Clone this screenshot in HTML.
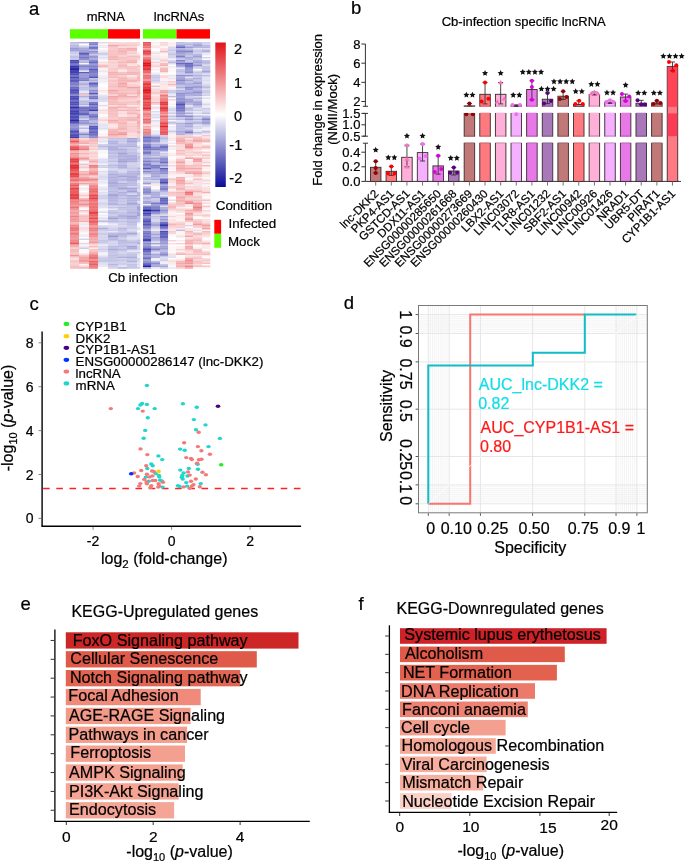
<!DOCTYPE html><html><head><meta charset="utf-8"><style>
html,body{margin:0;padding:0;background:#fff;width:685px;height:862px;overflow:hidden}
svg{display:block;will-change:transform}
text{font-family:"Liberation Sans", sans-serif;stroke:#000;stroke-width:0.22px}
</style></head><body>
<svg width="685" height="862" viewBox="0 0 685 862">
<rect width="685" height="862" fill="#fff"/>
<text x="29.00" y="15.00" font-size="18.5" text-anchor="start" fill="#000" >a</text>
<text x="105.80" y="21.20" font-size="13" text-anchor="middle" fill="#000" >mRNA</text>
<text x="179.10" y="21.20" font-size="13" text-anchor="middle" fill="#000" >lncRNAs</text>
<rect x="70" y="29.2" width="38" height="9.4" fill="#5cff00"/>
<rect x="108" y="29.2" width="32" height="9.4" fill="#ff0000"/>
<rect x="143" y="29.2" width="33.5" height="9.4" fill="#5cff00"/>
<rect x="176.5" y="29.2" width="33.5" height="9.4" fill="#ff0000"/>
<defs><filter id="hb" x="-5%" y="-5%" width="110%" height="110%"><feGaussianBlur stdDeviation="0.35 0.45"/></filter></defs>
<g filter="url(#hb)">
<rect x="70" y="42.00" width="9.30" height="1.80" fill="#bdbde4"/>
<rect x="79" y="42.00" width="10.30" height="1.80" fill="#afafde"/>
<rect x="89" y="42.00" width="9.30" height="1.80" fill="#8a8acf"/>
<rect x="98" y="42.00" width="10.30" height="1.80" fill="#dcdcf1"/>
<rect x="108" y="42.00" width="10.30" height="1.80" fill="#f9d4d5"/>
<rect x="118" y="42.00" width="9.30" height="1.80" fill="#fbdedf"/>
<rect x="127" y="42.00" width="10.30" height="1.80" fill="#fad7d8"/>
<rect x="137" y="42.00" width="3.30" height="1.80" fill="#fadcdd"/>
<rect x="70" y="43.50" width="9.30" height="1.80" fill="#cbcbea"/>
<rect x="79" y="43.50" width="10.30" height="1.80" fill="#fffcfc"/>
<rect x="89" y="43.50" width="9.30" height="1.80" fill="#8282cc"/>
<rect x="98" y="43.50" width="10.30" height="1.80" fill="#f9f9fd"/>
<rect x="108" y="43.50" width="10.30" height="1.80" fill="#f9d1d2"/>
<rect x="118" y="43.50" width="9.30" height="1.80" fill="#f8cbcc"/>
<rect x="127" y="43.50" width="10.30" height="1.80" fill="#f9ced0"/>
<rect x="137" y="43.50" width="3.30" height="1.80" fill="#fad6d7"/>
<rect x="70" y="45.00" width="9.30" height="1.80" fill="#babae3"/>
<rect x="79" y="45.00" width="10.30" height="1.80" fill="#e5e5f4"/>
<rect x="89" y="45.00" width="9.30" height="1.80" fill="#b2b2df"/>
<rect x="98" y="45.00" width="10.30" height="1.80" fill="#fce7e8"/>
<rect x="108" y="45.00" width="10.30" height="1.80" fill="#f3a4a7"/>
<rect x="118" y="45.00" width="9.30" height="1.80" fill="#f7c2c3"/>
<rect x="127" y="45.00" width="10.30" height="1.80" fill="#f8cacc"/>
<rect x="137" y="45.00" width="3.30" height="1.80" fill="#fadbdc"/>
<rect x="70" y="46.50" width="9.30" height="1.80" fill="#b5b5e0"/>
<rect x="79" y="46.50" width="10.30" height="1.80" fill="#c1c1e5"/>
<rect x="89" y="46.50" width="9.30" height="1.80" fill="#7272c5"/>
<rect x="98" y="46.50" width="10.30" height="1.80" fill="#ebebf7"/>
<rect x="108" y="46.50" width="10.30" height="1.80" fill="#f8cacc"/>
<rect x="118" y="46.50" width="9.30" height="1.80" fill="#fadcdd"/>
<rect x="127" y="46.50" width="10.30" height="1.80" fill="#f9d5d6"/>
<rect x="137" y="46.50" width="3.30" height="1.80" fill="#fef5f6"/>
<rect x="70" y="48.00" width="9.30" height="1.80" fill="#9999d5"/>
<rect x="79" y="48.00" width="10.30" height="1.80" fill="#a8a8db"/>
<rect x="89" y="48.00" width="9.30" height="1.80" fill="#7979c8"/>
<rect x="98" y="48.00" width="10.30" height="1.80" fill="#fffefe"/>
<rect x="108" y="48.00" width="10.30" height="1.80" fill="#f8c9ca"/>
<rect x="118" y="48.00" width="9.30" height="1.80" fill="#f5b7b9"/>
<rect x="127" y="48.00" width="10.30" height="1.80" fill="#f4aaad"/>
<rect x="137" y="48.00" width="3.30" height="1.80" fill="#fbfbfe"/>
<rect x="70" y="49.50" width="9.30" height="1.80" fill="#9f9fd8"/>
<rect x="79" y="49.50" width="10.30" height="1.80" fill="#a1a1d8"/>
<rect x="89" y="49.50" width="9.30" height="1.80" fill="#bdbde4"/>
<rect x="98" y="49.50" width="10.30" height="1.80" fill="#fcebec"/>
<rect x="108" y="49.50" width="10.30" height="1.80" fill="#f7c3c5"/>
<rect x="118" y="49.50" width="9.30" height="1.80" fill="#f6b8ba"/>
<rect x="127" y="49.50" width="10.30" height="1.80" fill="#f5b4b6"/>
<rect x="137" y="49.50" width="3.30" height="1.80" fill="#fdfdfe"/>
<rect x="70" y="51.00" width="9.30" height="1.80" fill="#c0c0e5"/>
<rect x="79" y="51.00" width="10.30" height="1.80" fill="#a5a5da"/>
<rect x="89" y="51.00" width="9.30" height="1.80" fill="#8d8dd0"/>
<rect x="98" y="51.00" width="10.30" height="1.80" fill="#ececf7"/>
<rect x="108" y="51.00" width="10.30" height="1.80" fill="#f7c2c3"/>
<rect x="118" y="51.00" width="9.30" height="1.80" fill="#f5b2b4"/>
<rect x="127" y="51.00" width="10.30" height="1.80" fill="#f9d4d5"/>
<rect x="137" y="51.00" width="3.30" height="1.80" fill="#fef9f9"/>
<rect x="70" y="52.50" width="9.30" height="1.80" fill="#ccccea"/>
<rect x="79" y="52.50" width="10.30" height="1.80" fill="#5f5fbd"/>
<rect x="89" y="52.50" width="9.30" height="1.80" fill="#a5a5da"/>
<rect x="98" y="52.50" width="10.30" height="1.80" fill="#cdcdea"/>
<rect x="108" y="52.50" width="10.30" height="1.80" fill="#f7c1c3"/>
<rect x="118" y="52.50" width="9.30" height="1.80" fill="#f6bdbf"/>
<rect x="127" y="52.50" width="10.30" height="1.80" fill="#f8c8ca"/>
<rect x="137" y="52.50" width="3.30" height="1.80" fill="#fdeeee"/>
<rect x="70" y="54.00" width="9.30" height="1.80" fill="#d8d8ef"/>
<rect x="79" y="54.00" width="10.30" height="1.80" fill="#6e6ec3"/>
<rect x="89" y="54.00" width="9.30" height="1.80" fill="#cacae9"/>
<rect x="98" y="54.00" width="10.30" height="1.80" fill="#d1d1ec"/>
<rect x="108" y="54.00" width="10.30" height="1.80" fill="#f7c5c6"/>
<rect x="118" y="54.00" width="9.30" height="1.80" fill="#f7c3c5"/>
<rect x="127" y="54.00" width="10.30" height="1.80" fill="#fbe1e1"/>
<rect x="137" y="54.00" width="3.30" height="1.80" fill="#fbe0e0"/>
<rect x="70" y="55.50" width="9.30" height="1.80" fill="#c1c1e6"/>
<rect x="79" y="55.50" width="10.30" height="1.80" fill="#9191d2"/>
<rect x="89" y="55.50" width="9.30" height="1.80" fill="#9696d4"/>
<rect x="98" y="55.50" width="10.30" height="1.80" fill="#ebebf7"/>
<rect x="108" y="55.50" width="10.30" height="1.80" fill="#f5b6b8"/>
<rect x="118" y="55.50" width="9.30" height="1.80" fill="#f9d1d3"/>
<rect x="127" y="55.50" width="10.30" height="1.80" fill="#f6bcbe"/>
<rect x="137" y="55.50" width="3.30" height="1.80" fill="#f7c4c5"/>
<rect x="70" y="57.00" width="9.30" height="1.80" fill="#c2c2e6"/>
<rect x="79" y="57.00" width="10.30" height="1.80" fill="#7474c6"/>
<rect x="89" y="57.00" width="9.30" height="1.80" fill="#9a9ad5"/>
<rect x="98" y="57.00" width="10.30" height="1.80" fill="#dfdff2"/>
<rect x="108" y="57.00" width="10.30" height="1.80" fill="#f6b9ba"/>
<rect x="118" y="57.00" width="9.30" height="1.80" fill="#f6bebf"/>
<rect x="127" y="57.00" width="10.30" height="1.80" fill="#f8c7c9"/>
<rect x="137" y="57.00" width="3.30" height="1.80" fill="#f7c3c5"/>
<rect x="70" y="58.50" width="9.30" height="1.80" fill="#c4c4e7"/>
<rect x="79" y="58.50" width="10.30" height="1.80" fill="#8d8dd0"/>
<rect x="89" y="58.50" width="9.30" height="1.80" fill="#adaddd"/>
<rect x="98" y="58.50" width="10.30" height="1.80" fill="#efeff8"/>
<rect x="108" y="58.50" width="10.30" height="1.80" fill="#f5b5b7"/>
<rect x="118" y="58.50" width="9.30" height="1.80" fill="#f7c4c5"/>
<rect x="127" y="58.50" width="10.30" height="1.80" fill="#f8c8c9"/>
<rect x="137" y="58.50" width="3.30" height="1.80" fill="#fad7d8"/>
<rect x="70" y="60.00" width="9.30" height="1.80" fill="#4a4ab4"/>
<rect x="79" y="60.00" width="10.30" height="1.80" fill="#bcbce4"/>
<rect x="89" y="60.00" width="9.30" height="1.80" fill="#8888ce"/>
<rect x="98" y="60.00" width="10.30" height="1.80" fill="#fcfcfe"/>
<rect x="108" y="60.00" width="10.30" height="1.80" fill="#fad5d6"/>
<rect x="118" y="60.00" width="9.30" height="1.80" fill="#f8cccd"/>
<rect x="127" y="60.00" width="10.30" height="1.80" fill="#f6b8ba"/>
<rect x="137" y="60.00" width="3.30" height="1.80" fill="#fbe2e2"/>
<rect x="70" y="61.50" width="9.30" height="1.80" fill="#5050b7"/>
<rect x="79" y="61.50" width="10.30" height="1.80" fill="#b2b2df"/>
<rect x="89" y="61.50" width="9.30" height="1.80" fill="#6868c1"/>
<rect x="98" y="61.50" width="10.30" height="1.80" fill="#fadbdc"/>
<rect x="108" y="61.50" width="10.30" height="1.80" fill="#f8cdce"/>
<rect x="118" y="61.50" width="9.30" height="1.80" fill="#f6b7b9"/>
<rect x="127" y="61.50" width="10.30" height="1.80" fill="#f4afb1"/>
<rect x="137" y="61.50" width="3.30" height="1.80" fill="#fcecec"/>
<rect x="70" y="63.00" width="9.30" height="1.80" fill="#7373c5"/>
<rect x="79" y="63.00" width="10.30" height="1.80" fill="#f6f6fb"/>
<rect x="89" y="63.00" width="9.30" height="1.80" fill="#9090d1"/>
<rect x="98" y="63.00" width="10.30" height="1.80" fill="#fce6e7"/>
<rect x="108" y="63.00" width="10.30" height="1.80" fill="#f9d3d4"/>
<rect x="118" y="63.00" width="9.30" height="1.80" fill="#f8c8ca"/>
<rect x="127" y="63.00" width="10.30" height="1.80" fill="#fad8d9"/>
<rect x="137" y="63.00" width="3.30" height="1.80" fill="#fdf0f0"/>
<rect x="70" y="64.50" width="9.30" height="1.80" fill="#6a6ac2"/>
<rect x="79" y="64.50" width="10.30" height="1.80" fill="#9292d2"/>
<rect x="89" y="64.50" width="9.30" height="1.80" fill="#9191d2"/>
<rect x="98" y="64.50" width="10.30" height="1.80" fill="#f7c2c3"/>
<rect x="108" y="64.50" width="10.30" height="1.80" fill="#f9d2d4"/>
<rect x="118" y="64.50" width="9.30" height="1.80" fill="#f5b6b8"/>
<rect x="127" y="64.50" width="10.30" height="1.80" fill="#fbe2e3"/>
<rect x="137" y="64.50" width="3.30" height="1.80" fill="#f9d0d2"/>
<rect x="70" y="66.00" width="9.30" height="1.80" fill="#3838ad"/>
<rect x="79" y="66.00" width="10.30" height="1.80" fill="#8484cc"/>
<rect x="89" y="66.00" width="9.30" height="1.80" fill="#7d7dca"/>
<rect x="98" y="66.00" width="10.30" height="1.80" fill="#f5b5b7"/>
<rect x="108" y="66.00" width="10.30" height="1.80" fill="#f9d4d5"/>
<rect x="118" y="66.00" width="9.30" height="1.80" fill="#f6bcbe"/>
<rect x="127" y="66.00" width="10.30" height="1.80" fill="#f7c0c2"/>
<rect x="137" y="66.00" width="3.30" height="1.80" fill="#f7bfc1"/>
<rect x="70" y="67.50" width="9.30" height="1.80" fill="#2d2da8"/>
<rect x="79" y="67.50" width="10.30" height="1.80" fill="#9999d5"/>
<rect x="89" y="67.50" width="9.30" height="1.80" fill="#8787ce"/>
<rect x="98" y="67.50" width="10.30" height="1.80" fill="#fdf0f1"/>
<rect x="108" y="67.50" width="10.30" height="1.80" fill="#f8cbcd"/>
<rect x="118" y="67.50" width="9.30" height="1.80" fill="#f8c8ca"/>
<rect x="127" y="67.50" width="10.30" height="1.80" fill="#f7c0c1"/>
<rect x="137" y="67.50" width="3.30" height="1.80" fill="#f9cfd0"/>
<rect x="70" y="69.00" width="9.30" height="1.80" fill="#2222a4"/>
<rect x="79" y="69.00" width="10.30" height="1.80" fill="#a2a2d9"/>
<rect x="89" y="69.00" width="9.30" height="1.80" fill="#5959bb"/>
<rect x="98" y="69.00" width="10.30" height="1.80" fill="#fdf0f0"/>
<rect x="108" y="69.00" width="10.30" height="1.80" fill="#f8c9ca"/>
<rect x="118" y="69.00" width="9.30" height="1.80" fill="#fbdfe0"/>
<rect x="127" y="69.00" width="10.30" height="1.80" fill="#f8c6c8"/>
<rect x="137" y="69.00" width="3.30" height="1.80" fill="#f8c8c9"/>
<rect x="70" y="70.50" width="9.30" height="1.80" fill="#4343b2"/>
<rect x="79" y="70.50" width="10.30" height="1.80" fill="#e2e2f3"/>
<rect x="89" y="70.50" width="9.30" height="1.80" fill="#7777c7"/>
<rect x="98" y="70.50" width="10.30" height="1.80" fill="#e7e7f5"/>
<rect x="108" y="70.50" width="10.30" height="1.80" fill="#f8c9cb"/>
<rect x="118" y="70.50" width="9.30" height="1.80" fill="#fce8e9"/>
<rect x="127" y="70.50" width="10.30" height="1.80" fill="#f8c7c8"/>
<rect x="137" y="70.50" width="3.30" height="1.80" fill="#f8c8ca"/>
<rect x="70" y="72.00" width="9.30" height="1.80" fill="#4141b1"/>
<rect x="79" y="72.00" width="10.30" height="1.80" fill="#5d5dbc"/>
<rect x="89" y="72.00" width="9.30" height="1.80" fill="#7979c8"/>
<rect x="98" y="72.00" width="10.30" height="1.80" fill="#f4f4fa"/>
<rect x="108" y="72.00" width="10.30" height="1.80" fill="#f5b0b2"/>
<rect x="118" y="72.00" width="9.30" height="1.80" fill="#f7c4c5"/>
<rect x="127" y="72.00" width="10.30" height="1.80" fill="#f5b2b4"/>
<rect x="137" y="72.00" width="3.30" height="1.80" fill="#f6bbbc"/>
<rect x="70" y="73.50" width="9.30" height="1.80" fill="#5151b7"/>
<rect x="79" y="73.50" width="10.30" height="1.80" fill="#a4a4d9"/>
<rect x="89" y="73.50" width="9.30" height="1.80" fill="#8585cd"/>
<rect x="98" y="73.50" width="10.30" height="1.80" fill="#f9f9fc"/>
<rect x="108" y="73.50" width="10.30" height="1.80" fill="#f5b6b8"/>
<rect x="118" y="73.50" width="9.30" height="1.80" fill="#f5b5b7"/>
<rect x="127" y="73.50" width="10.30" height="1.80" fill="#f5b5b6"/>
<rect x="137" y="73.50" width="3.30" height="1.80" fill="#f6b9bb"/>
<rect x="70" y="75.00" width="9.30" height="1.80" fill="#7676c7"/>
<rect x="79" y="75.00" width="10.30" height="1.80" fill="#9696d4"/>
<rect x="89" y="75.00" width="9.30" height="1.80" fill="#8585cd"/>
<rect x="98" y="75.00" width="10.30" height="1.80" fill="#efeff8"/>
<rect x="108" y="75.00" width="10.30" height="1.80" fill="#f7c0c2"/>
<rect x="118" y="75.00" width="9.30" height="1.80" fill="#f9cfd0"/>
<rect x="127" y="75.00" width="10.30" height="1.80" fill="#fceaea"/>
<rect x="137" y="75.00" width="3.30" height="1.80" fill="#f8c6c8"/>
<rect x="70" y="76.50" width="9.30" height="1.80" fill="#4c4cb5"/>
<rect x="79" y="76.50" width="10.30" height="1.80" fill="#9898d5"/>
<rect x="89" y="76.50" width="9.30" height="1.80" fill="#5353b8"/>
<rect x="98" y="76.50" width="10.30" height="1.80" fill="#fce7e8"/>
<rect x="108" y="76.50" width="10.30" height="1.80" fill="#f5b7b9"/>
<rect x="118" y="76.50" width="9.30" height="1.80" fill="#f7c1c2"/>
<rect x="127" y="76.50" width="10.30" height="1.80" fill="#f9d3d4"/>
<rect x="137" y="76.50" width="3.30" height="1.80" fill="#f5b7b8"/>
<rect x="70" y="78.00" width="9.30" height="1.80" fill="#6a6ac1"/>
<rect x="79" y="78.00" width="10.30" height="1.80" fill="#8787ce"/>
<rect x="89" y="78.00" width="9.30" height="1.80" fill="#c1c1e5"/>
<rect x="98" y="78.00" width="10.30" height="1.80" fill="#e5e5f4"/>
<rect x="108" y="78.00" width="10.30" height="1.80" fill="#fad7d8"/>
<rect x="118" y="78.00" width="9.30" height="1.80" fill="#f5b6b8"/>
<rect x="127" y="78.00" width="10.30" height="1.80" fill="#f8cccd"/>
<rect x="137" y="78.00" width="3.30" height="1.80" fill="#f5b5b7"/>
<rect x="70" y="79.50" width="9.30" height="1.80" fill="#5858ba"/>
<rect x="79" y="79.50" width="10.30" height="1.80" fill="#7c7cc9"/>
<rect x="89" y="79.50" width="9.30" height="1.80" fill="#ababdc"/>
<rect x="98" y="79.50" width="10.30" height="1.80" fill="#f1f1f9"/>
<rect x="108" y="79.50" width="10.30" height="1.80" fill="#f7c2c3"/>
<rect x="118" y="79.50" width="9.30" height="1.80" fill="#f5b3b5"/>
<rect x="127" y="79.50" width="10.30" height="1.80" fill="#f5b1b3"/>
<rect x="137" y="79.50" width="3.30" height="1.80" fill="#f6b7b9"/>
<rect x="70" y="81.00" width="9.30" height="1.80" fill="#5e5ebd"/>
<rect x="79" y="81.00" width="10.30" height="1.80" fill="#cbcbea"/>
<rect x="89" y="81.00" width="9.30" height="1.80" fill="#c0c0e5"/>
<rect x="98" y="81.00" width="10.30" height="1.80" fill="#ececf7"/>
<rect x="108" y="81.00" width="10.30" height="1.80" fill="#f7c6c8"/>
<rect x="118" y="81.00" width="9.30" height="1.80" fill="#f6bcbe"/>
<rect x="127" y="81.00" width="10.30" height="1.80" fill="#f6b8ba"/>
<rect x="137" y="81.00" width="3.30" height="1.80" fill="#f9d2d4"/>
<rect x="70" y="82.50" width="9.30" height="1.80" fill="#8181cb"/>
<rect x="79" y="82.50" width="10.30" height="1.80" fill="#b5b5e1"/>
<rect x="89" y="82.50" width="9.30" height="1.80" fill="#5c5cbc"/>
<rect x="98" y="82.50" width="10.30" height="1.80" fill="#f9f9fc"/>
<rect x="108" y="82.50" width="10.30" height="1.80" fill="#f8cacb"/>
<rect x="118" y="82.50" width="9.30" height="1.80" fill="#f3a6a9"/>
<rect x="127" y="82.50" width="10.30" height="1.80" fill="#fbe0e0"/>
<rect x="137" y="82.50" width="3.30" height="1.80" fill="#fadbdc"/>
<rect x="70" y="84.00" width="9.30" height="1.80" fill="#7b7bc9"/>
<rect x="79" y="84.00" width="10.30" height="1.80" fill="#b0b0de"/>
<rect x="89" y="84.00" width="9.30" height="1.80" fill="#7575c6"/>
<rect x="98" y="84.00" width="10.30" height="1.80" fill="#fffefe"/>
<rect x="108" y="84.00" width="10.30" height="1.80" fill="#f7c5c6"/>
<rect x="118" y="84.00" width="9.30" height="1.80" fill="#f5b0b2"/>
<rect x="127" y="84.00" width="10.30" height="1.80" fill="#f9d0d1"/>
<rect x="137" y="84.00" width="3.30" height="1.80" fill="#fbdfdf"/>
<rect x="70" y="85.50" width="9.30" height="1.80" fill="#9090d1"/>
<rect x="79" y="85.50" width="10.30" height="1.80" fill="#ceceeb"/>
<rect x="89" y="85.50" width="9.30" height="1.80" fill="#8e8ed0"/>
<rect x="98" y="85.50" width="10.30" height="1.80" fill="#ffffff"/>
<rect x="108" y="85.50" width="10.30" height="1.80" fill="#f6bdbf"/>
<rect x="118" y="85.50" width="9.30" height="1.80" fill="#f4abad"/>
<rect x="127" y="85.50" width="10.30" height="1.80" fill="#f8c9cb"/>
<rect x="137" y="85.50" width="3.30" height="1.80" fill="#f7c2c4"/>
<rect x="70" y="87.00" width="9.30" height="1.80" fill="#6a6ac1"/>
<rect x="79" y="87.00" width="10.30" height="1.80" fill="#bcbce4"/>
<rect x="89" y="87.00" width="9.30" height="1.80" fill="#afafde"/>
<rect x="98" y="87.00" width="10.30" height="1.80" fill="#fbfbfd"/>
<rect x="108" y="87.00" width="10.30" height="1.80" fill="#f8c7c9"/>
<rect x="118" y="87.00" width="9.30" height="1.80" fill="#f6bdbf"/>
<rect x="127" y="87.00" width="10.30" height="1.80" fill="#f2a0a2"/>
<rect x="137" y="87.00" width="3.30" height="1.80" fill="#f3a5a7"/>
<rect x="70" y="88.50" width="9.30" height="1.80" fill="#5e5ebd"/>
<rect x="79" y="88.50" width="10.30" height="1.80" fill="#bebee4"/>
<rect x="89" y="88.50" width="9.30" height="1.80" fill="#b2b2df"/>
<rect x="98" y="88.50" width="10.30" height="1.80" fill="#fef5f5"/>
<rect x="108" y="88.50" width="10.30" height="1.80" fill="#f7c2c3"/>
<rect x="118" y="88.50" width="9.30" height="1.80" fill="#f7c3c5"/>
<rect x="127" y="88.50" width="10.30" height="1.80" fill="#f7c3c4"/>
<rect x="137" y="88.50" width="3.30" height="1.80" fill="#f6bbbc"/>
<rect x="70" y="90.00" width="9.30" height="1.80" fill="#4b4bb5"/>
<rect x="79" y="90.00" width="10.30" height="1.80" fill="#d4d4ed"/>
<rect x="89" y="90.00" width="9.30" height="1.80" fill="#8d8dd0"/>
<rect x="98" y="90.00" width="10.30" height="1.80" fill="#fbe1e2"/>
<rect x="108" y="90.00" width="10.30" height="1.80" fill="#f3a2a5"/>
<rect x="118" y="90.00" width="9.30" height="1.80" fill="#f6bec0"/>
<rect x="127" y="90.00" width="10.30" height="1.80" fill="#f7c1c3"/>
<rect x="137" y="90.00" width="3.30" height="1.80" fill="#f4afb1"/>
<rect x="70" y="91.50" width="9.30" height="1.80" fill="#5555b9"/>
<rect x="79" y="91.50" width="10.30" height="1.80" fill="#eaeaf6"/>
<rect x="89" y="91.50" width="9.30" height="1.80" fill="#9c9cd6"/>
<rect x="98" y="91.50" width="10.30" height="1.80" fill="#fdeded"/>
<rect x="108" y="91.50" width="10.30" height="1.80" fill="#f6b9bb"/>
<rect x="118" y="91.50" width="9.30" height="1.80" fill="#f7c3c5"/>
<rect x="127" y="91.50" width="10.30" height="1.80" fill="#f7c6c8"/>
<rect x="137" y="91.50" width="3.30" height="1.80" fill="#f4abad"/>
<rect x="70" y="93.00" width="9.30" height="1.80" fill="#6565bf"/>
<rect x="79" y="93.00" width="10.30" height="1.80" fill="#c4c4e7"/>
<rect x="89" y="93.00" width="9.30" height="1.80" fill="#5858ba"/>
<rect x="98" y="93.00" width="10.30" height="1.80" fill="#fef9f9"/>
<rect x="108" y="93.00" width="10.30" height="1.80" fill="#f6b9bb"/>
<rect x="118" y="93.00" width="9.30" height="1.80" fill="#f5b3b5"/>
<rect x="127" y="93.00" width="10.30" height="1.80" fill="#f6b8ba"/>
<rect x="137" y="93.00" width="3.30" height="1.80" fill="#f4a9ab"/>
<rect x="70" y="94.50" width="9.30" height="1.80" fill="#8a8acf"/>
<rect x="79" y="94.50" width="10.30" height="1.80" fill="#f7c3c4"/>
<rect x="89" y="94.50" width="9.30" height="1.80" fill="#afafde"/>
<rect x="98" y="94.50" width="10.30" height="1.80" fill="#e5e5f4"/>
<rect x="108" y="94.50" width="10.30" height="1.80" fill="#f9d3d4"/>
<rect x="118" y="94.50" width="9.30" height="1.80" fill="#f4afb1"/>
<rect x="127" y="94.50" width="10.30" height="1.80" fill="#fadbdc"/>
<rect x="137" y="94.50" width="3.30" height="1.80" fill="#f6bdbf"/>
<rect x="70" y="96.00" width="9.30" height="1.80" fill="#4e4eb6"/>
<rect x="79" y="96.00" width="10.30" height="1.80" fill="#b0b0df"/>
<rect x="89" y="96.00" width="9.30" height="1.80" fill="#7b7bc8"/>
<rect x="98" y="96.00" width="10.30" height="1.80" fill="#dedef1"/>
<rect x="108" y="96.00" width="10.30" height="1.80" fill="#f3a4a6"/>
<rect x="118" y="96.00" width="9.30" height="1.80" fill="#f4acae"/>
<rect x="127" y="96.00" width="10.30" height="1.80" fill="#f4acae"/>
<rect x="137" y="96.00" width="3.30" height="1.80" fill="#f6bfc0"/>
<rect x="70" y="97.50" width="9.30" height="1.80" fill="#4848b3"/>
<rect x="79" y="97.50" width="10.30" height="1.80" fill="#d5d5ee"/>
<rect x="89" y="97.50" width="9.30" height="1.80" fill="#7373c5"/>
<rect x="98" y="97.50" width="10.30" height="1.80" fill="#d6d6ee"/>
<rect x="108" y="97.50" width="10.30" height="1.80" fill="#f5b0b2"/>
<rect x="118" y="97.50" width="9.30" height="1.80" fill="#f7c4c6"/>
<rect x="127" y="97.50" width="10.30" height="1.80" fill="#f8c7c9"/>
<rect x="137" y="97.50" width="3.30" height="1.80" fill="#f9d4d5"/>
<rect x="70" y="99.00" width="9.30" height="1.80" fill="#5b5bbc"/>
<rect x="79" y="99.00" width="10.30" height="1.80" fill="#dadaf0"/>
<rect x="89" y="99.00" width="9.30" height="1.80" fill="#b7b7e1"/>
<rect x="98" y="99.00" width="10.30" height="1.80" fill="#d9d9ef"/>
<rect x="108" y="99.00" width="10.30" height="1.80" fill="#f6b8ba"/>
<rect x="118" y="99.00" width="9.30" height="1.80" fill="#f8ccce"/>
<rect x="127" y="99.00" width="10.30" height="1.80" fill="#f9d2d3"/>
<rect x="137" y="99.00" width="3.30" height="1.80" fill="#fadadb"/>
<rect x="70" y="100.50" width="9.30" height="1.80" fill="#6a6ac1"/>
<rect x="79" y="100.50" width="10.30" height="1.80" fill="#b7b7e1"/>
<rect x="89" y="100.50" width="9.30" height="1.80" fill="#c1c1e5"/>
<rect x="98" y="100.50" width="10.30" height="1.80" fill="#ddddf1"/>
<rect x="108" y="100.50" width="10.30" height="1.80" fill="#f6bdbf"/>
<rect x="118" y="100.50" width="9.30" height="1.80" fill="#f9d0d1"/>
<rect x="127" y="100.50" width="10.30" height="1.80" fill="#f8cccd"/>
<rect x="137" y="100.50" width="3.30" height="1.80" fill="#f5b2b4"/>
<rect x="70" y="102.00" width="9.30" height="1.80" fill="#4f4fb6"/>
<rect x="79" y="102.00" width="10.30" height="1.80" fill="#c1c1e5"/>
<rect x="89" y="102.00" width="9.30" height="1.80" fill="#7a7ac8"/>
<rect x="98" y="102.00" width="10.30" height="1.80" fill="#fafafd"/>
<rect x="108" y="102.00" width="10.30" height="1.80" fill="#f6bcbe"/>
<rect x="118" y="102.00" width="9.30" height="1.80" fill="#f7c2c4"/>
<rect x="127" y="102.00" width="10.30" height="1.80" fill="#f7c4c6"/>
<rect x="137" y="102.00" width="3.30" height="1.80" fill="#f6b7b9"/>
<rect x="70" y="103.50" width="9.30" height="1.80" fill="#5151b7"/>
<rect x="79" y="103.50" width="10.30" height="1.80" fill="#b1b1df"/>
<rect x="89" y="103.50" width="9.30" height="1.80" fill="#5e5ebd"/>
<rect x="98" y="103.50" width="10.30" height="1.80" fill="#fdf1f1"/>
<rect x="108" y="103.50" width="10.30" height="1.80" fill="#f6b9bb"/>
<rect x="118" y="103.50" width="9.30" height="1.80" fill="#f5b5b7"/>
<rect x="127" y="103.50" width="10.30" height="1.80" fill="#f8c9ca"/>
<rect x="137" y="103.50" width="3.30" height="1.80" fill="#f8c6c8"/>
<rect x="70" y="105.00" width="9.30" height="1.80" fill="#7575c6"/>
<rect x="79" y="105.00" width="10.30" height="1.80" fill="#dfdff2"/>
<rect x="89" y="105.00" width="9.30" height="1.80" fill="#8d8dd0"/>
<rect x="98" y="105.00" width="10.30" height="1.80" fill="#dfdff2"/>
<rect x="108" y="105.00" width="10.30" height="1.80" fill="#fbe0e1"/>
<rect x="118" y="105.00" width="9.30" height="1.80" fill="#f9cecf"/>
<rect x="127" y="105.00" width="10.30" height="1.80" fill="#fdeded"/>
<rect x="137" y="105.00" width="3.30" height="1.80" fill="#fbdedf"/>
<rect x="70" y="106.50" width="9.30" height="1.80" fill="#3131aa"/>
<rect x="79" y="106.50" width="10.30" height="1.80" fill="#7676c6"/>
<rect x="89" y="106.50" width="9.30" height="1.80" fill="#6c6cc2"/>
<rect x="98" y="106.50" width="10.30" height="1.80" fill="#fef9f9"/>
<rect x="108" y="106.50" width="10.30" height="1.80" fill="#f5b1b3"/>
<rect x="118" y="106.50" width="9.30" height="1.80" fill="#f5b2b4"/>
<rect x="127" y="106.50" width="10.30" height="1.80" fill="#f6bdbe"/>
<rect x="137" y="106.50" width="3.30" height="1.80" fill="#f9cecf"/>
<rect x="70" y="108.00" width="9.30" height="1.80" fill="#5252b8"/>
<rect x="79" y="108.00" width="10.30" height="1.80" fill="#6f6fc3"/>
<rect x="89" y="108.00" width="9.30" height="1.80" fill="#7979c8"/>
<rect x="98" y="108.00" width="10.30" height="1.80" fill="#f7f7fc"/>
<rect x="108" y="108.00" width="10.30" height="1.80" fill="#f5b4b6"/>
<rect x="118" y="108.00" width="9.30" height="1.80" fill="#fad9da"/>
<rect x="127" y="108.00" width="10.30" height="1.80" fill="#f7c5c6"/>
<rect x="137" y="108.00" width="3.30" height="1.80" fill="#fce5e5"/>
<rect x="70" y="109.50" width="9.30" height="1.80" fill="#5656b9"/>
<rect x="79" y="109.50" width="10.30" height="1.80" fill="#6f6fc4"/>
<rect x="89" y="109.50" width="9.30" height="1.80" fill="#3c3cae"/>
<rect x="98" y="109.50" width="10.30" height="1.80" fill="#fadadb"/>
<rect x="108" y="109.50" width="10.30" height="1.80" fill="#f6bec0"/>
<rect x="118" y="109.50" width="9.30" height="1.80" fill="#f5b3b5"/>
<rect x="127" y="109.50" width="10.30" height="1.80" fill="#f6babc"/>
<rect x="137" y="109.50" width="3.30" height="1.80" fill="#f4acae"/>
<rect x="70" y="111.00" width="9.30" height="1.80" fill="#4141b1"/>
<rect x="79" y="111.00" width="10.30" height="1.80" fill="#8484cc"/>
<rect x="89" y="111.00" width="9.30" height="1.80" fill="#a8a8db"/>
<rect x="98" y="111.00" width="10.30" height="1.80" fill="#fce8e8"/>
<rect x="108" y="111.00" width="10.30" height="1.80" fill="#f7c1c3"/>
<rect x="118" y="111.00" width="9.30" height="1.80" fill="#fbdedf"/>
<rect x="127" y="111.00" width="10.30" height="1.80" fill="#f8c9ca"/>
<rect x="137" y="111.00" width="3.30" height="1.80" fill="#f9d1d2"/>
<rect x="70" y="112.50" width="9.30" height="1.80" fill="#3d3daf"/>
<rect x="79" y="112.50" width="10.30" height="1.80" fill="#6767c0"/>
<rect x="89" y="112.50" width="9.30" height="1.80" fill="#a9a9db"/>
<rect x="98" y="112.50" width="10.30" height="1.80" fill="#fbe3e4"/>
<rect x="108" y="112.50" width="10.30" height="1.80" fill="#f6bebf"/>
<rect x="118" y="112.50" width="9.30" height="1.80" fill="#fad9da"/>
<rect x="127" y="112.50" width="10.30" height="1.80" fill="#f5b4b6"/>
<rect x="137" y="112.50" width="3.30" height="1.80" fill="#f8c8c9"/>
<rect x="70" y="114.00" width="9.30" height="1.80" fill="#5151b7"/>
<rect x="79" y="114.00" width="10.30" height="1.80" fill="#6161be"/>
<rect x="89" y="114.00" width="9.30" height="1.80" fill="#8383cc"/>
<rect x="98" y="114.00" width="10.30" height="1.80" fill="#fdfdfe"/>
<rect x="108" y="114.00" width="10.30" height="1.80" fill="#f7bfc1"/>
<rect x="118" y="114.00" width="9.30" height="1.80" fill="#fbe0e0"/>
<rect x="127" y="114.00" width="10.30" height="1.80" fill="#f9cfd1"/>
<rect x="137" y="114.00" width="3.30" height="1.80" fill="#f4adaf"/>
<rect x="70" y="115.50" width="9.30" height="1.80" fill="#5050b7"/>
<rect x="79" y="115.50" width="10.30" height="1.80" fill="#b4b4e0"/>
<rect x="89" y="115.50" width="9.30" height="1.80" fill="#6a6ac2"/>
<rect x="98" y="115.50" width="10.30" height="1.80" fill="#f7f7fc"/>
<rect x="108" y="115.50" width="10.30" height="1.80" fill="#f7c2c3"/>
<rect x="118" y="115.50" width="9.30" height="1.80" fill="#fbe2e3"/>
<rect x="127" y="115.50" width="10.30" height="1.80" fill="#f9d5d6"/>
<rect x="137" y="115.50" width="3.30" height="1.80" fill="#f4aeb0"/>
<rect x="70" y="117.00" width="9.30" height="1.80" fill="#4c4cb5"/>
<rect x="79" y="117.00" width="10.30" height="1.80" fill="#a9a9dc"/>
<rect x="89" y="117.00" width="9.30" height="1.80" fill="#8787cd"/>
<rect x="98" y="117.00" width="10.30" height="1.80" fill="#fcecec"/>
<rect x="108" y="117.00" width="10.30" height="1.80" fill="#f8c9ca"/>
<rect x="118" y="117.00" width="9.30" height="1.80" fill="#f6bdbf"/>
<rect x="127" y="117.00" width="10.30" height="1.80" fill="#f6b9bb"/>
<rect x="137" y="117.00" width="3.30" height="1.80" fill="#f3a5a7"/>
<rect x="70" y="118.50" width="9.30" height="1.80" fill="#4f4fb7"/>
<rect x="79" y="118.50" width="10.30" height="1.80" fill="#d3d3ed"/>
<rect x="89" y="118.50" width="9.30" height="1.80" fill="#9b9bd6"/>
<rect x="98" y="118.50" width="10.30" height="1.80" fill="#fadcdd"/>
<rect x="108" y="118.50" width="10.30" height="1.80" fill="#f8c7c8"/>
<rect x="118" y="118.50" width="9.30" height="1.80" fill="#f6bec0"/>
<rect x="127" y="118.50" width="10.30" height="1.80" fill="#f5b5b7"/>
<rect x="137" y="118.50" width="3.30" height="1.80" fill="#f6bcbe"/>
<rect x="70" y="120.00" width="9.30" height="1.80" fill="#2a2aa7"/>
<rect x="79" y="120.00" width="10.30" height="1.80" fill="#9595d3"/>
<rect x="89" y="120.00" width="9.30" height="1.80" fill="#b3b3e0"/>
<rect x="98" y="120.00" width="10.30" height="1.80" fill="#f9d4d5"/>
<rect x="108" y="120.00" width="10.30" height="1.80" fill="#f4aaac"/>
<rect x="118" y="120.00" width="9.30" height="1.80" fill="#f7bfc1"/>
<rect x="127" y="120.00" width="10.30" height="1.80" fill="#f6b9bb"/>
<rect x="137" y="120.00" width="3.30" height="1.80" fill="#f5b3b5"/>
<rect x="70" y="121.50" width="9.30" height="1.80" fill="#5252b8"/>
<rect x="79" y="121.50" width="10.30" height="1.80" fill="#9e9ed7"/>
<rect x="89" y="121.50" width="9.30" height="1.80" fill="#b5b5e1"/>
<rect x="98" y="121.50" width="10.30" height="1.80" fill="#fdeeee"/>
<rect x="108" y="121.50" width="10.30" height="1.80" fill="#f6bcbd"/>
<rect x="118" y="121.50" width="9.30" height="1.80" fill="#f6bbbd"/>
<rect x="127" y="121.50" width="10.30" height="1.80" fill="#fbdede"/>
<rect x="137" y="121.50" width="3.30" height="1.80" fill="#f3a3a5"/>
<rect x="70" y="123.00" width="9.30" height="1.80" fill="#7373c5"/>
<rect x="79" y="123.00" width="10.30" height="1.80" fill="#9292d2"/>
<rect x="89" y="123.00" width="9.30" height="1.80" fill="#9898d5"/>
<rect x="98" y="123.00" width="10.30" height="1.80" fill="#e8e8f6"/>
<rect x="108" y="123.00" width="10.30" height="1.80" fill="#f9d3d4"/>
<rect x="118" y="123.00" width="9.30" height="1.80" fill="#f5b2b4"/>
<rect x="127" y="123.00" width="10.30" height="1.80" fill="#f8cbcc"/>
<rect x="137" y="123.00" width="3.30" height="1.80" fill="#f5b3b5"/>
<rect x="70" y="124.50" width="9.30" height="1.80" fill="#8f8fd1"/>
<rect x="79" y="124.50" width="10.30" height="1.80" fill="#c9c9e9"/>
<rect x="89" y="124.50" width="9.30" height="1.80" fill="#a9a9db"/>
<rect x="98" y="124.50" width="10.30" height="1.80" fill="#e1e1f3"/>
<rect x="108" y="124.50" width="10.30" height="1.80" fill="#fce7e8"/>
<rect x="118" y="124.50" width="9.30" height="1.80" fill="#f7c4c6"/>
<rect x="127" y="124.50" width="10.30" height="1.80" fill="#f9cfd0"/>
<rect x="137" y="124.50" width="3.30" height="1.80" fill="#f5b4b6"/>
<rect x="70" y="126.00" width="9.30" height="1.80" fill="#9797d4"/>
<rect x="79" y="126.00" width="10.30" height="1.80" fill="#e8e8f5"/>
<rect x="89" y="126.00" width="9.30" height="1.80" fill="#5858ba"/>
<rect x="98" y="126.00" width="10.30" height="1.80" fill="#e8e8f6"/>
<rect x="108" y="126.00" width="10.30" height="1.80" fill="#fce6e6"/>
<rect x="118" y="126.00" width="9.30" height="1.80" fill="#f6bdbf"/>
<rect x="127" y="126.00" width="10.30" height="1.80" fill="#f8c9ca"/>
<rect x="137" y="126.00" width="3.30" height="1.80" fill="#f6b9bb"/>
<rect x="70" y="127.50" width="9.30" height="1.80" fill="#8c8cd0"/>
<rect x="79" y="127.50" width="10.30" height="1.80" fill="#b8b8e2"/>
<rect x="89" y="127.50" width="9.30" height="1.80" fill="#5858ba"/>
<rect x="98" y="127.50" width="10.30" height="1.80" fill="#dedef1"/>
<rect x="108" y="127.50" width="10.30" height="1.80" fill="#f9d5d6"/>
<rect x="118" y="127.50" width="9.30" height="1.80" fill="#f5b2b4"/>
<rect x="127" y="127.50" width="10.30" height="1.80" fill="#f9ced0"/>
<rect x="137" y="127.50" width="3.30" height="1.80" fill="#f6bbbc"/>
<rect x="70" y="129.00" width="9.30" height="1.80" fill="#8282cb"/>
<rect x="79" y="129.00" width="10.30" height="1.80" fill="#e9e9f6"/>
<rect x="89" y="129.00" width="9.30" height="1.80" fill="#6c6cc2"/>
<rect x="98" y="129.00" width="10.30" height="1.80" fill="#ebebf7"/>
<rect x="108" y="129.00" width="10.30" height="1.80" fill="#f6babc"/>
<rect x="118" y="129.00" width="9.30" height="1.80" fill="#f6b9bb"/>
<rect x="127" y="129.00" width="10.30" height="1.80" fill="#f8cbcc"/>
<rect x="137" y="129.00" width="3.30" height="1.80" fill="#f8c8ca"/>
<rect x="70" y="130.50" width="9.30" height="1.80" fill="#4b4bb5"/>
<rect x="79" y="130.50" width="10.30" height="1.80" fill="#dcdcf1"/>
<rect x="89" y="130.50" width="9.30" height="1.80" fill="#7272c5"/>
<rect x="98" y="130.50" width="10.30" height="1.80" fill="#fbfbfd"/>
<rect x="108" y="130.50" width="10.30" height="1.80" fill="#f5b0b2"/>
<rect x="118" y="130.50" width="9.30" height="1.80" fill="#f8c9ca"/>
<rect x="127" y="130.50" width="10.30" height="1.80" fill="#f8c7c8"/>
<rect x="137" y="130.50" width="3.30" height="1.80" fill="#f6b9bb"/>
<rect x="70" y="132.00" width="9.30" height="1.80" fill="#6161be"/>
<rect x="79" y="132.00" width="10.30" height="1.80" fill="#c3c3e6"/>
<rect x="89" y="132.00" width="9.30" height="1.80" fill="#6464bf"/>
<rect x="98" y="132.00" width="10.30" height="1.80" fill="#fef9f9"/>
<rect x="108" y="132.00" width="10.30" height="1.80" fill="#f5b4b6"/>
<rect x="118" y="132.00" width="9.30" height="1.80" fill="#f3a4a7"/>
<rect x="127" y="132.00" width="10.30" height="1.80" fill="#fad6d7"/>
<rect x="137" y="132.00" width="3.30" height="1.80" fill="#f4acae"/>
<rect x="70" y="133.50" width="9.30" height="1.80" fill="#5858ba"/>
<rect x="79" y="133.50" width="10.30" height="1.80" fill="#8484cc"/>
<rect x="89" y="133.50" width="9.30" height="1.80" fill="#7272c5"/>
<rect x="98" y="133.50" width="10.30" height="1.80" fill="#fdf0f1"/>
<rect x="108" y="133.50" width="10.30" height="1.80" fill="#f2a0a2"/>
<rect x="118" y="133.50" width="9.30" height="1.80" fill="#f19699"/>
<rect x="127" y="133.50" width="10.30" height="1.80" fill="#fbdedf"/>
<rect x="137" y="133.50" width="3.30" height="1.80" fill="#f9d4d5"/>
<rect x="70" y="135.00" width="9.30" height="1.80" fill="#4d4db6"/>
<rect x="79" y="135.00" width="10.30" height="1.80" fill="#b9b9e2"/>
<rect x="89" y="135.00" width="9.30" height="1.80" fill="#7f7fca"/>
<rect x="98" y="135.00" width="10.30" height="1.80" fill="#fef4f5"/>
<rect x="108" y="135.00" width="10.30" height="1.80" fill="#f5b2b4"/>
<rect x="118" y="135.00" width="9.30" height="1.80" fill="#f7c3c5"/>
<rect x="127" y="135.00" width="10.30" height="1.80" fill="#fadbdc"/>
<rect x="137" y="135.00" width="3.30" height="1.80" fill="#f9cfd0"/>
<rect x="70" y="136.50" width="9.30" height="1.80" fill="#3c3caf"/>
<rect x="79" y="136.50" width="10.30" height="1.80" fill="#b4b4e0"/>
<rect x="89" y="136.50" width="9.30" height="1.80" fill="#8d8dd0"/>
<rect x="98" y="136.50" width="10.30" height="1.80" fill="#f8c8c9"/>
<rect x="108" y="136.50" width="10.30" height="1.80" fill="#f7c3c4"/>
<rect x="118" y="136.50" width="9.30" height="1.80" fill="#f8c7c9"/>
<rect x="127" y="136.50" width="10.30" height="1.80" fill="#fbdede"/>
<rect x="137" y="136.50" width="3.30" height="1.80" fill="#f8cccd"/>
<rect x="70" y="138.00" width="9.30" height="1.80" fill="#f09193"/>
<rect x="79" y="138.00" width="10.30" height="1.80" fill="#fadadb"/>
<rect x="89" y="138.00" width="9.30" height="1.80" fill="#f6b8ba"/>
<rect x="98" y="138.00" width="10.30" height="1.80" fill="#e5e5f4"/>
<rect x="108" y="138.00" width="10.30" height="1.80" fill="#c4c4e7"/>
<rect x="118" y="138.00" width="9.30" height="1.80" fill="#c3c3e6"/>
<rect x="127" y="138.00" width="10.30" height="1.80" fill="#a4a4da"/>
<rect x="137" y="138.00" width="3.30" height="1.80" fill="#c6c6e8"/>
<rect x="70" y="139.50" width="9.30" height="1.80" fill="#ef8487"/>
<rect x="79" y="139.50" width="10.30" height="1.80" fill="#f7c3c4"/>
<rect x="89" y="139.50" width="9.30" height="1.80" fill="#f5b5b7"/>
<rect x="98" y="139.50" width="10.30" height="1.80" fill="#ebebf7"/>
<rect x="108" y="139.50" width="10.30" height="1.80" fill="#c5c5e7"/>
<rect x="118" y="139.50" width="9.30" height="1.80" fill="#c9c9e9"/>
<rect x="127" y="139.50" width="10.30" height="1.80" fill="#b3b3e0"/>
<rect x="137" y="139.50" width="3.30" height="1.80" fill="#c1c1e5"/>
<rect x="70" y="141.00" width="9.30" height="1.80" fill="#e85458"/>
<rect x="79" y="141.00" width="10.30" height="1.80" fill="#f5b7b8"/>
<rect x="89" y="141.00" width="9.30" height="1.80" fill="#f7bfc1"/>
<rect x="98" y="141.00" width="10.30" height="1.80" fill="#e2e2f3"/>
<rect x="108" y="141.00" width="10.30" height="1.80" fill="#b3b3df"/>
<rect x="118" y="141.00" width="9.30" height="1.80" fill="#cacae9"/>
<rect x="127" y="141.00" width="10.30" height="1.80" fill="#a4a4da"/>
<rect x="137" y="141.00" width="3.30" height="1.80" fill="#ceceeb"/>
<rect x="70" y="142.50" width="9.30" height="1.80" fill="#f2999c"/>
<rect x="79" y="142.50" width="10.30" height="1.80" fill="#f4acae"/>
<rect x="89" y="142.50" width="9.30" height="1.80" fill="#f7c2c4"/>
<rect x="98" y="142.50" width="10.30" height="1.80" fill="#f7f7fc"/>
<rect x="108" y="142.50" width="10.30" height="1.80" fill="#b2b2df"/>
<rect x="118" y="142.50" width="9.30" height="1.80" fill="#cbcbe9"/>
<rect x="127" y="142.50" width="10.30" height="1.80" fill="#bfbfe5"/>
<rect x="137" y="142.50" width="3.30" height="1.80" fill="#f3f3fa"/>
<rect x="70" y="144.00" width="9.30" height="1.80" fill="#f5b4b6"/>
<rect x="79" y="144.00" width="10.30" height="1.80" fill="#fce5e6"/>
<rect x="89" y="144.00" width="9.30" height="1.80" fill="#f9d1d2"/>
<rect x="98" y="144.00" width="10.30" height="1.80" fill="#d3d3ed"/>
<rect x="108" y="144.00" width="10.30" height="1.80" fill="#c2c2e6"/>
<rect x="118" y="144.00" width="9.30" height="1.80" fill="#c0c0e5"/>
<rect x="127" y="144.00" width="10.30" height="1.80" fill="#babae3"/>
<rect x="137" y="144.00" width="3.30" height="1.80" fill="#f5f5fb"/>
<rect x="70" y="145.50" width="9.30" height="1.80" fill="#ec7276"/>
<rect x="79" y="145.50" width="10.30" height="1.80" fill="#f29ea1"/>
<rect x="89" y="145.50" width="9.30" height="1.80" fill="#f7c6c8"/>
<rect x="98" y="145.50" width="10.30" height="1.80" fill="#babae3"/>
<rect x="108" y="145.50" width="10.30" height="1.80" fill="#b4b4e0"/>
<rect x="118" y="145.50" width="9.30" height="1.80" fill="#b2b2df"/>
<rect x="127" y="145.50" width="10.30" height="1.80" fill="#b1b1df"/>
<rect x="137" y="145.50" width="3.30" height="1.80" fill="#d9d9ef"/>
<rect x="70" y="147.00" width="9.30" height="1.80" fill="#e9555a"/>
<rect x="79" y="147.00" width="10.30" height="1.80" fill="#f19699"/>
<rect x="89" y="147.00" width="9.30" height="1.80" fill="#faddde"/>
<rect x="98" y="147.00" width="10.30" height="1.80" fill="#d0d0eb"/>
<rect x="108" y="147.00" width="10.30" height="1.80" fill="#aeaedd"/>
<rect x="118" y="147.00" width="9.30" height="1.80" fill="#c9c9e9"/>
<rect x="127" y="147.00" width="10.30" height="1.80" fill="#ccccea"/>
<rect x="137" y="147.00" width="3.30" height="1.80" fill="#c5c5e7"/>
<rect x="70" y="148.50" width="9.30" height="1.80" fill="#e64246"/>
<rect x="79" y="148.50" width="10.30" height="1.80" fill="#ed797c"/>
<rect x="89" y="148.50" width="9.30" height="1.80" fill="#f8cbcc"/>
<rect x="98" y="148.50" width="10.30" height="1.80" fill="#d4d4ed"/>
<rect x="108" y="148.50" width="10.30" height="1.80" fill="#ababdc"/>
<rect x="118" y="148.50" width="9.30" height="1.80" fill="#b0b0df"/>
<rect x="127" y="148.50" width="10.30" height="1.80" fill="#c3c3e6"/>
<rect x="137" y="148.50" width="3.30" height="1.80" fill="#dcdcf1"/>
<rect x="70" y="150.00" width="9.30" height="1.80" fill="#f1989b"/>
<rect x="79" y="150.00" width="10.30" height="1.80" fill="#f7c2c3"/>
<rect x="89" y="150.00" width="9.30" height="1.80" fill="#fce6e7"/>
<rect x="98" y="150.00" width="10.30" height="1.80" fill="#fef7f7"/>
<rect x="108" y="150.00" width="10.30" height="1.80" fill="#bcbce3"/>
<rect x="118" y="150.00" width="9.30" height="1.80" fill="#b9b9e2"/>
<rect x="127" y="150.00" width="10.30" height="1.80" fill="#c8c8e8"/>
<rect x="137" y="150.00" width="3.30" height="1.80" fill="#e9e9f6"/>
<rect x="70" y="151.50" width="9.30" height="1.80" fill="#f5b6b7"/>
<rect x="79" y="151.50" width="10.30" height="1.80" fill="#f9d2d3"/>
<rect x="89" y="151.50" width="9.30" height="1.80" fill="#f9d2d3"/>
<rect x="98" y="151.50" width="10.30" height="1.80" fill="#f5f5fb"/>
<rect x="108" y="151.50" width="10.30" height="1.80" fill="#bebee4"/>
<rect x="118" y="151.50" width="9.30" height="1.80" fill="#b7b7e1"/>
<rect x="127" y="151.50" width="10.30" height="1.80" fill="#c0c0e5"/>
<rect x="137" y="151.50" width="3.30" height="1.80" fill="#d9d9ef"/>
<rect x="70" y="153.00" width="9.30" height="1.80" fill="#f08b8e"/>
<rect x="79" y="153.00" width="10.30" height="1.80" fill="#f5b4b6"/>
<rect x="89" y="153.00" width="9.30" height="1.80" fill="#f8cdce"/>
<rect x="98" y="153.00" width="10.30" height="1.80" fill="#fafafd"/>
<rect x="108" y="153.00" width="10.30" height="1.80" fill="#bcbce3"/>
<rect x="118" y="153.00" width="9.30" height="1.80" fill="#a1a1d8"/>
<rect x="127" y="153.00" width="10.30" height="1.80" fill="#c0c0e5"/>
<rect x="137" y="153.00" width="3.30" height="1.80" fill="#c4c4e7"/>
<rect x="70" y="154.50" width="9.30" height="1.80" fill="#f29fa1"/>
<rect x="79" y="154.50" width="10.30" height="1.80" fill="#f9d1d2"/>
<rect x="89" y="154.50" width="9.30" height="1.80" fill="#fad9da"/>
<rect x="98" y="154.50" width="10.30" height="1.80" fill="#fffcfc"/>
<rect x="108" y="154.50" width="10.30" height="1.80" fill="#c6c6e7"/>
<rect x="118" y="154.50" width="9.30" height="1.80" fill="#b4b4e0"/>
<rect x="127" y="154.50" width="10.30" height="1.80" fill="#b4b4e0"/>
<rect x="137" y="154.50" width="3.30" height="1.80" fill="#d3d3ed"/>
<rect x="70" y="156.00" width="9.30" height="1.80" fill="#f29da0"/>
<rect x="79" y="156.00" width="10.30" height="1.80" fill="#f8c9ca"/>
<rect x="89" y="156.00" width="9.30" height="1.80" fill="#f9d2d4"/>
<rect x="98" y="156.00" width="10.30" height="1.80" fill="#fcfcfe"/>
<rect x="108" y="156.00" width="10.30" height="1.80" fill="#bcbce4"/>
<rect x="118" y="156.00" width="9.30" height="1.80" fill="#b0b0df"/>
<rect x="127" y="156.00" width="10.30" height="1.80" fill="#afafde"/>
<rect x="137" y="156.00" width="3.30" height="1.80" fill="#c0c0e5"/>
<rect x="70" y="157.50" width="9.30" height="1.80" fill="#eb6468"/>
<rect x="79" y="157.50" width="10.30" height="1.80" fill="#f1989b"/>
<rect x="89" y="157.50" width="9.30" height="1.80" fill="#fbddde"/>
<rect x="98" y="157.50" width="10.30" height="1.80" fill="#eeeef8"/>
<rect x="108" y="157.50" width="10.30" height="1.80" fill="#c3c3e6"/>
<rect x="118" y="157.50" width="9.30" height="1.80" fill="#b5b5e0"/>
<rect x="127" y="157.50" width="10.30" height="1.80" fill="#b0b0df"/>
<rect x="137" y="157.50" width="3.30" height="1.80" fill="#bfbfe5"/>
<rect x="70" y="159.00" width="9.30" height="1.80" fill="#e64348"/>
<rect x="79" y="159.00" width="10.30" height="1.80" fill="#f4adaf"/>
<rect x="89" y="159.00" width="9.30" height="1.80" fill="#f8c7c9"/>
<rect x="98" y="159.00" width="10.30" height="1.80" fill="#dfdff2"/>
<rect x="108" y="159.00" width="10.30" height="1.80" fill="#ceceeb"/>
<rect x="118" y="159.00" width="9.30" height="1.80" fill="#acacdd"/>
<rect x="127" y="159.00" width="10.30" height="1.80" fill="#acacdd"/>
<rect x="137" y="159.00" width="3.30" height="1.80" fill="#c7c7e8"/>
<rect x="70" y="160.50" width="9.30" height="1.80" fill="#e64246"/>
<rect x="79" y="160.50" width="10.30" height="1.80" fill="#fceaea"/>
<rect x="89" y="160.50" width="9.30" height="1.80" fill="#f4aaac"/>
<rect x="98" y="160.50" width="10.30" height="1.80" fill="#ddddf1"/>
<rect x="108" y="160.50" width="10.30" height="1.80" fill="#bdbde4"/>
<rect x="118" y="160.50" width="9.30" height="1.80" fill="#a2a2d9"/>
<rect x="127" y="160.50" width="10.30" height="1.80" fill="#aeaede"/>
<rect x="137" y="160.50" width="3.30" height="1.80" fill="#c4c4e7"/>
<rect x="70" y="162.00" width="9.30" height="1.80" fill="#ea6165"/>
<rect x="79" y="162.00" width="10.30" height="1.80" fill="#fafafd"/>
<rect x="89" y="162.00" width="9.30" height="1.80" fill="#f7c3c4"/>
<rect x="98" y="162.00" width="10.30" height="1.80" fill="#dadaf0"/>
<rect x="108" y="162.00" width="10.30" height="1.80" fill="#d5d5ee"/>
<rect x="118" y="162.00" width="9.30" height="1.80" fill="#b5b5e1"/>
<rect x="127" y="162.00" width="10.30" height="1.80" fill="#cacae9"/>
<rect x="137" y="162.00" width="3.30" height="1.80" fill="#dadaf0"/>
<rect x="70" y="163.50" width="9.30" height="1.80" fill="#eb6468"/>
<rect x="79" y="163.50" width="10.30" height="1.80" fill="#cfcfeb"/>
<rect x="89" y="163.50" width="9.30" height="1.80" fill="#f9d4d5"/>
<rect x="98" y="163.50" width="10.30" height="1.80" fill="#f1f1f9"/>
<rect x="108" y="163.50" width="10.30" height="1.80" fill="#c9c9e9"/>
<rect x="118" y="163.50" width="9.30" height="1.80" fill="#bfbfe4"/>
<rect x="127" y="163.50" width="10.30" height="1.80" fill="#d5d5ee"/>
<rect x="137" y="163.50" width="3.30" height="1.80" fill="#d0d0ec"/>
<rect x="70" y="165.00" width="9.30" height="1.80" fill="#e42f35"/>
<rect x="79" y="165.00" width="10.30" height="1.80" fill="#fbdfe0"/>
<rect x="89" y="165.00" width="9.30" height="1.80" fill="#ed777a"/>
<rect x="98" y="165.00" width="10.30" height="1.80" fill="#d0d0eb"/>
<rect x="108" y="165.00" width="10.30" height="1.80" fill="#bdbde4"/>
<rect x="118" y="165.00" width="9.30" height="1.80" fill="#adaddd"/>
<rect x="127" y="165.00" width="10.30" height="1.80" fill="#ceceeb"/>
<rect x="137" y="165.00" width="3.30" height="1.80" fill="#d9d9ef"/>
<rect x="70" y="166.50" width="9.30" height="1.80" fill="#e42f34"/>
<rect x="79" y="166.50" width="10.30" height="1.80" fill="#f8c8ca"/>
<rect x="89" y="166.50" width="9.30" height="1.80" fill="#f08a8d"/>
<rect x="98" y="166.50" width="10.30" height="1.80" fill="#d2d2ed"/>
<rect x="108" y="166.50" width="10.30" height="1.80" fill="#c3c3e6"/>
<rect x="118" y="166.50" width="9.30" height="1.80" fill="#b0b0df"/>
<rect x="127" y="166.50" width="10.30" height="1.80" fill="#cbcbea"/>
<rect x="137" y="166.50" width="3.30" height="1.80" fill="#c8c8e8"/>
<rect x="70" y="168.00" width="9.30" height="1.80" fill="#e53e43"/>
<rect x="79" y="168.00" width="10.30" height="1.80" fill="#fbe1e2"/>
<rect x="89" y="168.00" width="9.30" height="1.80" fill="#f5b3b5"/>
<rect x="98" y="168.00" width="10.30" height="1.80" fill="#f5f5fb"/>
<rect x="108" y="168.00" width="10.30" height="1.80" fill="#d6d6ee"/>
<rect x="118" y="168.00" width="9.30" height="1.80" fill="#c2c2e6"/>
<rect x="127" y="168.00" width="10.30" height="1.80" fill="#c5c5e7"/>
<rect x="137" y="168.00" width="3.30" height="1.80" fill="#b5b5e0"/>
<rect x="70" y="169.50" width="9.30" height="1.80" fill="#e85357"/>
<rect x="79" y="169.50" width="10.30" height="1.80" fill="#fdeff0"/>
<rect x="89" y="169.50" width="9.30" height="1.80" fill="#f5b1b3"/>
<rect x="98" y="169.50" width="10.30" height="1.80" fill="#f2f2f9"/>
<rect x="108" y="169.50" width="10.30" height="1.80" fill="#d2d2ec"/>
<rect x="118" y="169.50" width="9.30" height="1.80" fill="#d9d9ef"/>
<rect x="127" y="169.50" width="10.30" height="1.80" fill="#ccccea"/>
<rect x="137" y="169.50" width="3.30" height="1.80" fill="#c7c7e8"/>
<rect x="70" y="171.00" width="9.30" height="1.80" fill="#eb6b6f"/>
<rect x="79" y="171.00" width="10.30" height="1.80" fill="#f5b7b9"/>
<rect x="89" y="171.00" width="9.30" height="1.80" fill="#f3a2a5"/>
<rect x="98" y="171.00" width="10.30" height="1.80" fill="#ddddf1"/>
<rect x="108" y="171.00" width="10.30" height="1.80" fill="#bfbfe5"/>
<rect x="118" y="171.00" width="9.30" height="1.80" fill="#d9d9ef"/>
<rect x="127" y="171.00" width="10.30" height="1.80" fill="#b9b9e2"/>
<rect x="137" y="171.00" width="3.30" height="1.80" fill="#b4b4e0"/>
<rect x="70" y="172.50" width="9.30" height="1.80" fill="#e7474c"/>
<rect x="79" y="172.50" width="10.30" height="1.80" fill="#f6bbbc"/>
<rect x="89" y="172.50" width="9.30" height="1.80" fill="#ef868a"/>
<rect x="98" y="172.50" width="10.30" height="1.80" fill="#e9e9f6"/>
<rect x="108" y="172.50" width="10.30" height="1.80" fill="#bfbfe5"/>
<rect x="118" y="172.50" width="9.30" height="1.80" fill="#c3c3e6"/>
<rect x="127" y="172.50" width="10.30" height="1.80" fill="#b5b5e1"/>
<rect x="137" y="172.50" width="3.30" height="1.80" fill="#afafde"/>
<rect x="70" y="174.00" width="9.30" height="1.80" fill="#e53d42"/>
<rect x="79" y="174.00" width="10.30" height="1.80" fill="#f2a0a2"/>
<rect x="89" y="174.00" width="9.30" height="1.80" fill="#f29c9f"/>
<rect x="98" y="174.00" width="10.30" height="1.80" fill="#e3e3f3"/>
<rect x="108" y="174.00" width="10.30" height="1.80" fill="#acacdd"/>
<rect x="118" y="174.00" width="9.30" height="1.80" fill="#bcbce3"/>
<rect x="127" y="174.00" width="10.30" height="1.80" fill="#b7b7e1"/>
<rect x="137" y="174.00" width="3.30" height="1.80" fill="#b6b6e1"/>
<rect x="70" y="175.50" width="9.30" height="1.80" fill="#e74b50"/>
<rect x="79" y="175.50" width="10.30" height="1.80" fill="#f7c1c2"/>
<rect x="89" y="175.50" width="9.30" height="1.80" fill="#f9d1d2"/>
<rect x="98" y="175.50" width="10.30" height="1.80" fill="#dadaf0"/>
<rect x="108" y="175.50" width="10.30" height="1.80" fill="#b9b9e2"/>
<rect x="118" y="175.50" width="9.30" height="1.80" fill="#a4a4da"/>
<rect x="127" y="175.50" width="10.30" height="1.80" fill="#aaaadc"/>
<rect x="137" y="175.50" width="3.30" height="1.80" fill="#cacae9"/>
<rect x="70" y="177.00" width="9.30" height="1.80" fill="#ee7c7f"/>
<rect x="79" y="177.00" width="10.30" height="1.80" fill="#f3a4a6"/>
<rect x="89" y="177.00" width="9.30" height="1.80" fill="#f7c2c4"/>
<rect x="98" y="177.00" width="10.30" height="1.80" fill="#d9d9ef"/>
<rect x="108" y="177.00" width="10.30" height="1.80" fill="#afafde"/>
<rect x="118" y="177.00" width="9.30" height="1.80" fill="#c2c2e6"/>
<rect x="127" y="177.00" width="10.30" height="1.80" fill="#ababdc"/>
<rect x="137" y="177.00" width="3.30" height="1.80" fill="#b8b8e2"/>
<rect x="70" y="178.50" width="9.30" height="1.80" fill="#ed7a7d"/>
<rect x="79" y="178.50" width="10.30" height="1.80" fill="#ef8689"/>
<rect x="89" y="178.50" width="9.30" height="1.80" fill="#ef8689"/>
<rect x="98" y="178.50" width="10.30" height="1.80" fill="#ddddf1"/>
<rect x="108" y="178.50" width="10.30" height="1.80" fill="#b6b6e1"/>
<rect x="118" y="178.50" width="9.30" height="1.80" fill="#b4b4e0"/>
<rect x="127" y="178.50" width="10.30" height="1.80" fill="#aeaede"/>
<rect x="137" y="178.50" width="3.30" height="1.80" fill="#bbbbe3"/>
<rect x="70" y="180.00" width="9.30" height="1.80" fill="#ec6b6f"/>
<rect x="79" y="180.00" width="10.30" height="1.80" fill="#ef898c"/>
<rect x="89" y="180.00" width="9.30" height="1.80" fill="#f29a9d"/>
<rect x="98" y="180.00" width="10.30" height="1.80" fill="#ededf8"/>
<rect x="108" y="180.00" width="10.30" height="1.80" fill="#b3b3e0"/>
<rect x="118" y="180.00" width="9.30" height="1.80" fill="#bfbfe5"/>
<rect x="127" y="180.00" width="10.30" height="1.80" fill="#b0b0de"/>
<rect x="137" y="180.00" width="3.30" height="1.80" fill="#dedef1"/>
<rect x="70" y="181.50" width="9.30" height="1.80" fill="#f3a5a8"/>
<rect x="79" y="181.50" width="10.30" height="1.80" fill="#f8cdce"/>
<rect x="89" y="181.50" width="9.30" height="1.80" fill="#f6bec0"/>
<rect x="98" y="181.50" width="10.30" height="1.80" fill="#e6e6f5"/>
<rect x="108" y="181.50" width="10.30" height="1.80" fill="#aaaadc"/>
<rect x="118" y="181.50" width="9.30" height="1.80" fill="#d0d0eb"/>
<rect x="127" y="181.50" width="10.30" height="1.80" fill="#c0c0e5"/>
<rect x="137" y="181.50" width="3.30" height="1.80" fill="#ededf7"/>
<rect x="70" y="183.00" width="9.30" height="1.80" fill="#ee7e82"/>
<rect x="79" y="183.00" width="10.30" height="1.80" fill="#f3a3a5"/>
<rect x="89" y="183.00" width="9.30" height="1.80" fill="#f4a9ab"/>
<rect x="98" y="183.00" width="10.30" height="1.80" fill="#eeeef8"/>
<rect x="108" y="183.00" width="10.30" height="1.80" fill="#a9a9dc"/>
<rect x="118" y="183.00" width="9.30" height="1.80" fill="#afafde"/>
<rect x="127" y="183.00" width="10.30" height="1.80" fill="#bcbce3"/>
<rect x="137" y="183.00" width="3.30" height="1.80" fill="#d4d4ed"/>
<rect x="70" y="184.50" width="9.30" height="1.80" fill="#e95a5e"/>
<rect x="79" y="184.50" width="10.30" height="1.80" fill="#fbe2e3"/>
<rect x="89" y="184.50" width="9.30" height="1.80" fill="#f08f92"/>
<rect x="98" y="184.50" width="10.30" height="1.80" fill="#fbfbfd"/>
<rect x="108" y="184.50" width="10.30" height="1.80" fill="#b3b3e0"/>
<rect x="118" y="184.50" width="9.30" height="1.80" fill="#b9b9e2"/>
<rect x="127" y="184.50" width="10.30" height="1.80" fill="#b9b9e2"/>
<rect x="137" y="184.50" width="3.30" height="1.80" fill="#d2d2ec"/>
<rect x="70" y="186.00" width="9.30" height="1.80" fill="#ee8083"/>
<rect x="79" y="186.00" width="10.30" height="1.80" fill="#fffcfc"/>
<rect x="89" y="186.00" width="9.30" height="1.80" fill="#ef8689"/>
<rect x="98" y="186.00" width="10.30" height="1.80" fill="#f0f0f9"/>
<rect x="108" y="186.00" width="10.30" height="1.80" fill="#b3b3e0"/>
<rect x="118" y="186.00" width="9.30" height="1.80" fill="#bdbde4"/>
<rect x="127" y="186.00" width="10.30" height="1.80" fill="#d7d7ef"/>
<rect x="137" y="186.00" width="3.30" height="1.80" fill="#d1d1ec"/>
<rect x="70" y="187.50" width="9.30" height="1.80" fill="#e7464a"/>
<rect x="79" y="187.50" width="10.30" height="1.80" fill="#ececf7"/>
<rect x="89" y="187.50" width="9.30" height="1.80" fill="#ee7b7e"/>
<rect x="98" y="187.50" width="10.30" height="1.80" fill="#e4e4f4"/>
<rect x="108" y="187.50" width="10.30" height="1.80" fill="#bdbde4"/>
<rect x="118" y="187.50" width="9.30" height="1.80" fill="#a1a1d8"/>
<rect x="127" y="187.50" width="10.30" height="1.80" fill="#a8a8db"/>
<rect x="137" y="187.50" width="3.30" height="1.80" fill="#c9c9e9"/>
<rect x="70" y="189.00" width="9.30" height="1.80" fill="#e85458"/>
<rect x="79" y="189.00" width="10.30" height="1.80" fill="#fcecec"/>
<rect x="89" y="189.00" width="9.30" height="1.80" fill="#ec6f73"/>
<rect x="98" y="189.00" width="10.30" height="1.80" fill="#e2e2f3"/>
<rect x="108" y="189.00" width="10.30" height="1.80" fill="#c2c2e6"/>
<rect x="118" y="189.00" width="9.30" height="1.80" fill="#b8b8e2"/>
<rect x="127" y="189.00" width="10.30" height="1.80" fill="#b6b6e1"/>
<rect x="137" y="189.00" width="3.30" height="1.80" fill="#dedef1"/>
<rect x="70" y="190.50" width="9.30" height="1.80" fill="#e95b5f"/>
<rect x="79" y="190.50" width="10.30" height="1.80" fill="#fffdfd"/>
<rect x="89" y="190.50" width="9.30" height="1.80" fill="#eb696d"/>
<rect x="98" y="190.50" width="10.30" height="1.80" fill="#f0f0f9"/>
<rect x="108" y="190.50" width="10.30" height="1.80" fill="#b8b8e2"/>
<rect x="118" y="190.50" width="9.30" height="1.80" fill="#c8c8e8"/>
<rect x="127" y="190.50" width="10.30" height="1.80" fill="#a1a1d8"/>
<rect x="137" y="190.50" width="3.30" height="1.80" fill="#d5d5ee"/>
<rect x="70" y="192.00" width="9.30" height="1.80" fill="#e95b5f"/>
<rect x="79" y="192.00" width="10.30" height="1.80" fill="#fdf0f0"/>
<rect x="89" y="192.00" width="9.30" height="1.80" fill="#ed797d"/>
<rect x="98" y="192.00" width="10.30" height="1.80" fill="#e0e0f2"/>
<rect x="108" y="192.00" width="10.30" height="1.80" fill="#c2c2e6"/>
<rect x="118" y="192.00" width="9.30" height="1.80" fill="#afafde"/>
<rect x="127" y="192.00" width="10.30" height="1.80" fill="#bbbbe3"/>
<rect x="137" y="192.00" width="3.30" height="1.80" fill="#b4b4e0"/>
<rect x="70" y="193.50" width="9.30" height="1.80" fill="#e7474c"/>
<rect x="79" y="193.50" width="10.30" height="1.80" fill="#fbdede"/>
<rect x="89" y="193.50" width="9.30" height="1.80" fill="#ec6c70"/>
<rect x="98" y="193.50" width="10.30" height="1.80" fill="#e1e1f3"/>
<rect x="108" y="193.50" width="10.30" height="1.80" fill="#a9a9db"/>
<rect x="118" y="193.50" width="9.30" height="1.80" fill="#babae3"/>
<rect x="127" y="193.50" width="10.30" height="1.80" fill="#d8d8ef"/>
<rect x="137" y="193.50" width="3.30" height="1.80" fill="#b9b9e2"/>
<rect x="70" y="195.00" width="9.30" height="1.80" fill="#e64146"/>
<rect x="79" y="195.00" width="10.30" height="1.80" fill="#f8c7c9"/>
<rect x="89" y="195.00" width="9.30" height="1.80" fill="#e74a4e"/>
<rect x="98" y="195.00" width="10.30" height="1.80" fill="#ceceeb"/>
<rect x="108" y="195.00" width="10.30" height="1.80" fill="#a1a1d8"/>
<rect x="118" y="195.00" width="9.30" height="1.80" fill="#b6b6e1"/>
<rect x="127" y="195.00" width="10.30" height="1.80" fill="#a7a7db"/>
<rect x="137" y="195.00" width="3.30" height="1.80" fill="#acacdd"/>
<rect x="70" y="196.50" width="9.30" height="1.80" fill="#e64549"/>
<rect x="79" y="196.50" width="10.30" height="1.80" fill="#fceced"/>
<rect x="89" y="196.50" width="9.30" height="1.80" fill="#ea5d61"/>
<rect x="98" y="196.50" width="10.30" height="1.80" fill="#d2d2ed"/>
<rect x="108" y="196.50" width="10.30" height="1.80" fill="#b5b5e0"/>
<rect x="118" y="196.50" width="9.30" height="1.80" fill="#c8c8e8"/>
<rect x="127" y="196.50" width="10.30" height="1.80" fill="#babae3"/>
<rect x="137" y="196.50" width="3.30" height="1.80" fill="#ccccea"/>
<rect x="70" y="198.00" width="9.30" height="1.80" fill="#e7454a"/>
<rect x="79" y="198.00" width="10.30" height="1.80" fill="#f6bcbd"/>
<rect x="89" y="198.00" width="9.30" height="1.80" fill="#e64348"/>
<rect x="98" y="198.00" width="10.30" height="1.80" fill="#cfcfeb"/>
<rect x="108" y="198.00" width="10.30" height="1.80" fill="#b5b5e0"/>
<rect x="118" y="198.00" width="9.30" height="1.80" fill="#bbbbe3"/>
<rect x="127" y="198.00" width="10.30" height="1.80" fill="#b4b4e0"/>
<rect x="137" y="198.00" width="3.30" height="1.80" fill="#b4b4e0"/>
<rect x="70" y="199.50" width="9.30" height="1.80" fill="#f08b8e"/>
<rect x="79" y="199.50" width="10.30" height="1.80" fill="#f09194"/>
<rect x="89" y="199.50" width="9.30" height="1.80" fill="#ec7175"/>
<rect x="98" y="199.50" width="10.30" height="1.80" fill="#e3e3f3"/>
<rect x="108" y="199.50" width="10.30" height="1.80" fill="#b5b5e0"/>
<rect x="118" y="199.50" width="9.30" height="1.80" fill="#cbcbe9"/>
<rect x="127" y="199.50" width="10.30" height="1.80" fill="#b3b3e0"/>
<rect x="137" y="199.50" width="3.30" height="1.80" fill="#bfbfe5"/>
<rect x="70" y="201.00" width="9.30" height="1.80" fill="#ee7a7e"/>
<rect x="79" y="201.00" width="10.30" height="1.80" fill="#f4abad"/>
<rect x="89" y="201.00" width="9.30" height="1.80" fill="#ee7f83"/>
<rect x="98" y="201.00" width="10.30" height="1.80" fill="#e0e0f2"/>
<rect x="108" y="201.00" width="10.30" height="1.80" fill="#bebee4"/>
<rect x="118" y="201.00" width="9.30" height="1.80" fill="#c4c4e7"/>
<rect x="127" y="201.00" width="10.30" height="1.80" fill="#bfbfe5"/>
<rect x="137" y="201.00" width="3.30" height="1.80" fill="#e4e4f4"/>
<rect x="70" y="202.50" width="9.30" height="1.80" fill="#ef8588"/>
<rect x="79" y="202.50" width="10.30" height="1.80" fill="#f4abad"/>
<rect x="89" y="202.50" width="9.30" height="1.80" fill="#ed7477"/>
<rect x="98" y="202.50" width="10.30" height="1.80" fill="#d3d3ed"/>
<rect x="108" y="202.50" width="10.30" height="1.80" fill="#b5b5e1"/>
<rect x="118" y="202.50" width="9.30" height="1.80" fill="#ccccea"/>
<rect x="127" y="202.50" width="10.30" height="1.80" fill="#a3a3d9"/>
<rect x="137" y="202.50" width="3.30" height="1.80" fill="#cdcdea"/>
<rect x="70" y="204.00" width="9.30" height="1.80" fill="#f08f92"/>
<rect x="79" y="204.00" width="10.30" height="1.80" fill="#f08c8f"/>
<rect x="89" y="204.00" width="9.30" height="1.80" fill="#ed7377"/>
<rect x="98" y="204.00" width="10.30" height="1.80" fill="#d6d6ee"/>
<rect x="108" y="204.00" width="10.30" height="1.80" fill="#b3b3e0"/>
<rect x="118" y="204.00" width="9.30" height="1.80" fill="#b8b8e2"/>
<rect x="127" y="204.00" width="10.30" height="1.80" fill="#afafde"/>
<rect x="137" y="204.00" width="3.30" height="1.80" fill="#b4b4e0"/>
<rect x="70" y="205.50" width="9.30" height="1.80" fill="#f08d90"/>
<rect x="79" y="205.50" width="10.30" height="1.80" fill="#f6bec0"/>
<rect x="89" y="205.50" width="9.30" height="1.80" fill="#ed7478"/>
<rect x="98" y="205.50" width="10.30" height="1.80" fill="#e0e0f2"/>
<rect x="108" y="205.50" width="10.30" height="1.80" fill="#d5d5ee"/>
<rect x="118" y="205.50" width="9.30" height="1.80" fill="#ccccea"/>
<rect x="127" y="205.50" width="10.30" height="1.80" fill="#c2c2e6"/>
<rect x="137" y="205.50" width="3.30" height="1.80" fill="#b5b5e0"/>
<rect x="70" y="207.00" width="9.30" height="1.80" fill="#ec7074"/>
<rect x="79" y="207.00" width="10.30" height="1.80" fill="#fce7e7"/>
<rect x="89" y="207.00" width="9.30" height="1.80" fill="#ec7175"/>
<rect x="98" y="207.00" width="10.30" height="1.80" fill="#e2e2f3"/>
<rect x="108" y="207.00" width="10.30" height="1.80" fill="#c4c4e7"/>
<rect x="118" y="207.00" width="9.30" height="1.80" fill="#bdbde4"/>
<rect x="127" y="207.00" width="10.30" height="1.80" fill="#c1c1e6"/>
<rect x="137" y="207.00" width="3.30" height="1.80" fill="#9f9fd7"/>
<rect x="70" y="208.50" width="9.30" height="1.80" fill="#f1979a"/>
<rect x="79" y="208.50" width="10.30" height="1.80" fill="#fefbfb"/>
<rect x="89" y="208.50" width="9.30" height="1.80" fill="#ed7477"/>
<rect x="98" y="208.50" width="10.30" height="1.80" fill="#fbfbfd"/>
<rect x="108" y="208.50" width="10.30" height="1.80" fill="#e6e6f5"/>
<rect x="118" y="208.50" width="9.30" height="1.80" fill="#c3c3e6"/>
<rect x="127" y="208.50" width="10.30" height="1.80" fill="#c0c0e5"/>
<rect x="137" y="208.50" width="3.30" height="1.80" fill="#a0a0d8"/>
<rect x="70" y="210.00" width="9.30" height="1.80" fill="#f4a9ac"/>
<rect x="79" y="210.00" width="10.30" height="1.80" fill="#f6bec0"/>
<rect x="89" y="210.00" width="9.30" height="1.80" fill="#ed7578"/>
<rect x="98" y="210.00" width="10.30" height="1.80" fill="#f5f5fb"/>
<rect x="108" y="210.00" width="10.30" height="1.80" fill="#c7c7e8"/>
<rect x="118" y="210.00" width="9.30" height="1.80" fill="#cfcfeb"/>
<rect x="127" y="210.00" width="10.30" height="1.80" fill="#c0c0e5"/>
<rect x="137" y="210.00" width="3.30" height="1.80" fill="#afafde"/>
<rect x="70" y="211.50" width="9.30" height="1.80" fill="#f1999b"/>
<rect x="79" y="211.50" width="10.30" height="1.80" fill="#fbe2e2"/>
<rect x="89" y="211.50" width="9.30" height="1.80" fill="#e64045"/>
<rect x="98" y="211.50" width="10.30" height="1.80" fill="#dbdbf0"/>
<rect x="108" y="211.50" width="10.30" height="1.80" fill="#bdbde4"/>
<rect x="118" y="211.50" width="9.30" height="1.80" fill="#c7c7e8"/>
<rect x="127" y="211.50" width="10.30" height="1.80" fill="#b3b3df"/>
<rect x="137" y="211.50" width="3.30" height="1.80" fill="#ababdd"/>
<rect x="70" y="213.00" width="9.30" height="1.80" fill="#f2a0a2"/>
<rect x="79" y="213.00" width="10.30" height="1.80" fill="#fdefef"/>
<rect x="89" y="213.00" width="9.30" height="1.80" fill="#e7484d"/>
<rect x="98" y="213.00" width="10.30" height="1.80" fill="#fcfcfe"/>
<rect x="108" y="213.00" width="10.30" height="1.80" fill="#c2c2e6"/>
<rect x="118" y="213.00" width="9.30" height="1.80" fill="#c4c4e7"/>
<rect x="127" y="213.00" width="10.30" height="1.80" fill="#bcbce3"/>
<rect x="137" y="213.00" width="3.30" height="1.80" fill="#a2a2d9"/>
<rect x="70" y="214.50" width="9.30" height="1.80" fill="#f3a2a5"/>
<rect x="79" y="214.50" width="10.30" height="1.80" fill="#f8c7c8"/>
<rect x="89" y="214.50" width="9.30" height="1.80" fill="#eb6569"/>
<rect x="98" y="214.50" width="10.30" height="1.80" fill="#ededf8"/>
<rect x="108" y="214.50" width="10.30" height="1.80" fill="#cdcdea"/>
<rect x="118" y="214.50" width="9.30" height="1.80" fill="#b3b3e0"/>
<rect x="127" y="214.50" width="10.30" height="1.80" fill="#b6b6e1"/>
<rect x="137" y="214.50" width="3.30" height="1.80" fill="#9f9fd8"/>
<rect x="70" y="216.00" width="9.30" height="1.80" fill="#ef8487"/>
<rect x="79" y="216.00" width="10.30" height="1.80" fill="#f6bdbe"/>
<rect x="89" y="216.00" width="9.30" height="1.80" fill="#ed777a"/>
<rect x="98" y="216.00" width="10.30" height="1.80" fill="#f4f4fa"/>
<rect x="108" y="216.00" width="10.30" height="1.80" fill="#bbbbe3"/>
<rect x="118" y="216.00" width="9.30" height="1.80" fill="#b1b1df"/>
<rect x="127" y="216.00" width="10.30" height="1.80" fill="#a1a1d8"/>
<rect x="137" y="216.00" width="3.30" height="1.80" fill="#bebee4"/>
<rect x="70" y="217.50" width="9.30" height="1.80" fill="#f3a0a3"/>
<rect x="79" y="217.50" width="10.30" height="1.80" fill="#f7c0c2"/>
<rect x="89" y="217.50" width="9.30" height="1.80" fill="#e7484d"/>
<rect x="98" y="217.50" width="10.30" height="1.80" fill="#dedef2"/>
<rect x="108" y="217.50" width="10.30" height="1.80" fill="#a1a1d8"/>
<rect x="118" y="217.50" width="9.30" height="1.80" fill="#b7b7e1"/>
<rect x="127" y="217.50" width="10.30" height="1.80" fill="#ababdc"/>
<rect x="137" y="217.50" width="3.30" height="1.80" fill="#b8b8e2"/>
<rect x="70" y="219.00" width="9.30" height="1.80" fill="#f19496"/>
<rect x="79" y="219.00" width="10.30" height="1.80" fill="#f8c8c9"/>
<rect x="89" y="219.00" width="9.30" height="1.80" fill="#ed797d"/>
<rect x="98" y="219.00" width="10.30" height="1.80" fill="#e7e7f5"/>
<rect x="108" y="219.00" width="10.30" height="1.80" fill="#bfbfe4"/>
<rect x="118" y="219.00" width="9.30" height="1.80" fill="#d0d0ec"/>
<rect x="127" y="219.00" width="10.30" height="1.80" fill="#c0c0e5"/>
<rect x="137" y="219.00" width="3.30" height="1.80" fill="#c8c8e8"/>
<rect x="70" y="220.50" width="9.30" height="1.80" fill="#f29b9d"/>
<rect x="79" y="220.50" width="10.30" height="1.80" fill="#f4acae"/>
<rect x="89" y="220.50" width="9.30" height="1.80" fill="#e95a5f"/>
<rect x="98" y="220.50" width="10.30" height="1.80" fill="#bcbce3"/>
<rect x="108" y="220.50" width="10.30" height="1.80" fill="#bcbce3"/>
<rect x="118" y="220.50" width="9.30" height="1.80" fill="#c2c2e6"/>
<rect x="127" y="220.50" width="10.30" height="1.80" fill="#bcbce3"/>
<rect x="137" y="220.50" width="3.30" height="1.80" fill="#c1c1e5"/>
<rect x="70" y="222.00" width="9.30" height="1.80" fill="#f6b9bb"/>
<rect x="79" y="222.00" width="10.30" height="1.80" fill="#fce8e9"/>
<rect x="89" y="222.00" width="9.30" height="1.80" fill="#eb6569"/>
<rect x="98" y="222.00" width="10.30" height="1.80" fill="#e8e8f5"/>
<rect x="108" y="222.00" width="10.30" height="1.80" fill="#ccccea"/>
<rect x="118" y="222.00" width="9.30" height="1.80" fill="#ceceeb"/>
<rect x="127" y="222.00" width="10.30" height="1.80" fill="#b9b9e2"/>
<rect x="137" y="222.00" width="3.30" height="1.80" fill="#e1e1f3"/>
<rect x="70" y="223.50" width="9.30" height="1.80" fill="#f4a8ab"/>
<rect x="79" y="223.50" width="10.30" height="1.80" fill="#e9e9f6"/>
<rect x="89" y="223.50" width="9.30" height="1.80" fill="#ee7d80"/>
<rect x="98" y="223.50" width="10.30" height="1.80" fill="#fbfbfd"/>
<rect x="108" y="223.50" width="10.30" height="1.80" fill="#ededf7"/>
<rect x="118" y="223.50" width="9.30" height="1.80" fill="#cdcdeb"/>
<rect x="127" y="223.50" width="10.30" height="1.80" fill="#c1c1e5"/>
<rect x="137" y="223.50" width="3.30" height="1.80" fill="#fbfbfd"/>
<rect x="70" y="225.00" width="9.30" height="1.80" fill="#ef898c"/>
<rect x="79" y="225.00" width="10.30" height="1.80" fill="#f2f2fa"/>
<rect x="89" y="225.00" width="9.30" height="1.80" fill="#f29a9c"/>
<rect x="98" y="225.00" width="10.30" height="1.80" fill="#dedef1"/>
<rect x="108" y="225.00" width="10.30" height="1.80" fill="#dedef1"/>
<rect x="118" y="225.00" width="9.30" height="1.80" fill="#d9d9ef"/>
<rect x="127" y="225.00" width="10.30" height="1.80" fill="#c8c8e9"/>
<rect x="137" y="225.00" width="3.30" height="1.80" fill="#f8f8fc"/>
<rect x="70" y="226.50" width="9.30" height="1.80" fill="#ee8184"/>
<rect x="79" y="226.50" width="10.30" height="1.80" fill="#fbe1e2"/>
<rect x="89" y="226.50" width="9.30" height="1.80" fill="#f19496"/>
<rect x="98" y="226.50" width="10.30" height="1.80" fill="#cacae9"/>
<rect x="108" y="226.50" width="10.30" height="1.80" fill="#d7d7ef"/>
<rect x="118" y="226.50" width="9.30" height="1.80" fill="#ccccea"/>
<rect x="127" y="226.50" width="10.30" height="1.80" fill="#c9c9e9"/>
<rect x="137" y="226.50" width="3.30" height="1.80" fill="#ececf7"/>
<rect x="70" y="228.00" width="9.30" height="1.80" fill="#ec7275"/>
<rect x="79" y="228.00" width="10.30" height="1.80" fill="#fad6d7"/>
<rect x="89" y="228.00" width="9.30" height="1.80" fill="#ed7a7d"/>
<rect x="98" y="228.00" width="10.30" height="1.80" fill="#b0b0df"/>
<rect x="108" y="228.00" width="10.30" height="1.80" fill="#d0d0ec"/>
<rect x="118" y="228.00" width="9.30" height="1.80" fill="#b7b7e1"/>
<rect x="127" y="228.00" width="10.30" height="1.80" fill="#cbcbea"/>
<rect x="137" y="228.00" width="3.30" height="1.80" fill="#d9d9ef"/>
<rect x="70" y="229.50" width="9.30" height="1.80" fill="#ed777b"/>
<rect x="79" y="229.50" width="10.30" height="1.80" fill="#fbe4e5"/>
<rect x="89" y="229.50" width="9.30" height="1.80" fill="#ee8285"/>
<rect x="98" y="229.50" width="10.30" height="1.80" fill="#cdcdea"/>
<rect x="108" y="229.50" width="10.30" height="1.80" fill="#cacae9"/>
<rect x="118" y="229.50" width="9.30" height="1.80" fill="#c2c2e6"/>
<rect x="127" y="229.50" width="10.30" height="1.80" fill="#dbdbf0"/>
<rect x="137" y="229.50" width="3.30" height="1.80" fill="#eaeaf6"/>
<rect x="70" y="231.00" width="9.30" height="1.80" fill="#f29a9d"/>
<rect x="79" y="231.00" width="10.30" height="1.80" fill="#f0f0f9"/>
<rect x="89" y="231.00" width="9.30" height="1.80" fill="#f29a9d"/>
<rect x="98" y="231.00" width="10.30" height="1.80" fill="#dbdbf0"/>
<rect x="108" y="231.00" width="10.30" height="1.80" fill="#e7e7f5"/>
<rect x="118" y="231.00" width="9.30" height="1.80" fill="#cfcfeb"/>
<rect x="127" y="231.00" width="10.30" height="1.80" fill="#d2d2ed"/>
<rect x="137" y="231.00" width="3.30" height="1.80" fill="#fffdfd"/>
<rect x="70" y="232.50" width="9.30" height="1.80" fill="#ed777a"/>
<rect x="79" y="232.50" width="10.30" height="1.80" fill="#fafafd"/>
<rect x="89" y="232.50" width="9.30" height="1.80" fill="#f08b8e"/>
<rect x="98" y="232.50" width="10.30" height="1.80" fill="#ccccea"/>
<rect x="108" y="232.50" width="10.30" height="1.80" fill="#bcbce4"/>
<rect x="118" y="232.50" width="9.30" height="1.80" fill="#b9b9e2"/>
<rect x="127" y="232.50" width="10.30" height="1.80" fill="#a7a7db"/>
<rect x="137" y="232.50" width="3.30" height="1.80" fill="#dcdcf1"/>
<rect x="70" y="234.00" width="9.30" height="1.80" fill="#ef8487"/>
<rect x="79" y="234.00" width="10.30" height="1.80" fill="#fdeeee"/>
<rect x="89" y="234.00" width="9.30" height="1.80" fill="#ee8184"/>
<rect x="98" y="234.00" width="10.30" height="1.80" fill="#cbcbea"/>
<rect x="108" y="234.00" width="10.30" height="1.80" fill="#b7b7e1"/>
<rect x="118" y="234.00" width="9.30" height="1.80" fill="#b2b2df"/>
<rect x="127" y="234.00" width="10.30" height="1.80" fill="#b9b9e2"/>
<rect x="137" y="234.00" width="3.30" height="1.80" fill="#dbdbf0"/>
<rect x="70" y="235.50" width="9.30" height="1.80" fill="#f19497"/>
<rect x="79" y="235.50" width="10.30" height="1.80" fill="#ececf7"/>
<rect x="89" y="235.50" width="9.30" height="1.80" fill="#f19497"/>
<rect x="98" y="235.50" width="10.30" height="1.80" fill="#d8d8ef"/>
<rect x="108" y="235.50" width="10.30" height="1.80" fill="#9797d4"/>
<rect x="118" y="235.50" width="9.30" height="1.80" fill="#bcbce3"/>
<rect x="127" y="235.50" width="10.30" height="1.80" fill="#d6d6ee"/>
<rect x="137" y="235.50" width="3.30" height="1.80" fill="#e2e2f3"/>
<rect x="70" y="237.00" width="9.30" height="1.80" fill="#f1979a"/>
<rect x="79" y="237.00" width="10.30" height="1.80" fill="#fffefe"/>
<rect x="89" y="237.00" width="9.30" height="1.80" fill="#f4a8aa"/>
<rect x="98" y="237.00" width="10.30" height="1.80" fill="#d2d2ec"/>
<rect x="108" y="237.00" width="10.30" height="1.80" fill="#b9b9e2"/>
<rect x="118" y="237.00" width="9.30" height="1.80" fill="#ccccea"/>
<rect x="127" y="237.00" width="10.30" height="1.80" fill="#e0e0f2"/>
<rect x="137" y="237.00" width="3.30" height="1.80" fill="#e4e4f4"/>
<rect x="70" y="238.50" width="9.30" height="1.80" fill="#f19699"/>
<rect x="79" y="238.50" width="10.30" height="1.80" fill="#d4d4ed"/>
<rect x="89" y="238.50" width="9.30" height="1.80" fill="#f3a7a9"/>
<rect x="98" y="238.50" width="10.30" height="1.80" fill="#d4d4ed"/>
<rect x="108" y="238.50" width="10.30" height="1.80" fill="#b6b6e1"/>
<rect x="118" y="238.50" width="9.30" height="1.80" fill="#cacae9"/>
<rect x="127" y="238.50" width="10.30" height="1.80" fill="#dcdcf0"/>
<rect x="137" y="238.50" width="3.30" height="1.80" fill="#d4d4ed"/>
<rect x="70" y="240.00" width="9.30" height="1.80" fill="#ef888b"/>
<rect x="79" y="240.00" width="10.30" height="1.80" fill="#ffffff"/>
<rect x="89" y="240.00" width="9.30" height="1.80" fill="#f5b1b3"/>
<rect x="98" y="240.00" width="10.30" height="1.80" fill="#c4c4e7"/>
<rect x="108" y="240.00" width="10.30" height="1.80" fill="#c6c6e8"/>
<rect x="118" y="240.00" width="9.30" height="1.80" fill="#b8b8e2"/>
<rect x="127" y="240.00" width="10.30" height="1.80" fill="#cacae9"/>
<rect x="137" y="240.00" width="3.30" height="1.80" fill="#c1c1e5"/>
<rect x="70" y="241.50" width="9.30" height="1.80" fill="#ed797c"/>
<rect x="79" y="241.50" width="10.30" height="1.80" fill="#fdf3f3"/>
<rect x="89" y="241.50" width="9.30" height="1.80" fill="#f1979a"/>
<rect x="98" y="241.50" width="10.30" height="1.80" fill="#c6c6e8"/>
<rect x="108" y="241.50" width="10.30" height="1.80" fill="#d9d9ef"/>
<rect x="118" y="241.50" width="9.30" height="1.80" fill="#bbbbe3"/>
<rect x="127" y="241.50" width="10.30" height="1.80" fill="#b8b8e2"/>
<rect x="137" y="241.50" width="3.30" height="1.80" fill="#babae3"/>
<rect x="70" y="243.00" width="9.30" height="1.80" fill="#ea5f63"/>
<rect x="79" y="243.00" width="10.30" height="1.80" fill="#dcdcf1"/>
<rect x="89" y="243.00" width="9.30" height="1.80" fill="#f7bfc1"/>
<rect x="98" y="243.00" width="10.30" height="1.80" fill="#d7d7ee"/>
<rect x="108" y="243.00" width="10.30" height="1.80" fill="#d2d2ed"/>
<rect x="118" y="243.00" width="9.30" height="1.80" fill="#c3c3e6"/>
<rect x="127" y="243.00" width="10.30" height="1.80" fill="#c9c9e9"/>
<rect x="137" y="243.00" width="3.30" height="1.80" fill="#b2b2df"/>
<rect x="70" y="244.50" width="9.30" height="1.80" fill="#f4aeb0"/>
<rect x="79" y="244.50" width="10.30" height="1.80" fill="#f6f6fb"/>
<rect x="89" y="244.50" width="9.30" height="1.80" fill="#fbddde"/>
<rect x="98" y="244.50" width="10.30" height="1.80" fill="#ececf7"/>
<rect x="108" y="244.50" width="10.30" height="1.80" fill="#d4d4ed"/>
<rect x="118" y="244.50" width="9.30" height="1.80" fill="#c1c1e6"/>
<rect x="127" y="244.50" width="10.30" height="1.80" fill="#c6c6e8"/>
<rect x="137" y="244.50" width="3.30" height="1.80" fill="#dcdcf0"/>
<rect x="70" y="246.00" width="9.30" height="1.80" fill="#f4aeb0"/>
<rect x="79" y="246.00" width="10.30" height="1.80" fill="#fbe4e5"/>
<rect x="89" y="246.00" width="9.30" height="1.80" fill="#f6b8b9"/>
<rect x="98" y="246.00" width="10.30" height="1.80" fill="#d7d7ee"/>
<rect x="108" y="246.00" width="10.30" height="1.80" fill="#bcbce3"/>
<rect x="118" y="246.00" width="9.30" height="1.80" fill="#c0c0e5"/>
<rect x="127" y="246.00" width="10.30" height="1.80" fill="#a3a3d9"/>
<rect x="137" y="246.00" width="3.30" height="1.80" fill="#d3d3ed"/>
<rect x="70" y="247.50" width="9.30" height="1.80" fill="#f9d3d4"/>
<rect x="79" y="247.50" width="10.30" height="1.80" fill="#cdcdea"/>
<rect x="89" y="247.50" width="9.30" height="1.80" fill="#fceaea"/>
<rect x="98" y="247.50" width="10.30" height="1.80" fill="#d8d8ef"/>
<rect x="108" y="247.50" width="10.30" height="1.80" fill="#bebee4"/>
<rect x="118" y="247.50" width="9.30" height="1.80" fill="#c8c8e8"/>
<rect x="127" y="247.50" width="10.30" height="1.80" fill="#adaddd"/>
<rect x="137" y="247.50" width="3.30" height="1.80" fill="#ceceeb"/>
<rect x="70" y="249.00" width="9.30" height="1.80" fill="#f5b6b7"/>
<rect x="79" y="249.00" width="10.30" height="1.80" fill="#f8f8fc"/>
<rect x="89" y="249.00" width="9.30" height="1.80" fill="#f7c5c6"/>
<rect x="98" y="249.00" width="10.30" height="1.80" fill="#cdcdea"/>
<rect x="108" y="249.00" width="10.30" height="1.80" fill="#aaaadc"/>
<rect x="118" y="249.00" width="9.30" height="1.80" fill="#b4b4e0"/>
<rect x="127" y="249.00" width="10.30" height="1.80" fill="#c7c7e8"/>
<rect x="137" y="249.00" width="3.30" height="1.80" fill="#d4d4ed"/>
<rect x="70" y="250.50" width="9.30" height="1.80" fill="#f6bbbd"/>
<rect x="79" y="250.50" width="10.30" height="1.80" fill="#fcfcfe"/>
<rect x="89" y="250.50" width="9.30" height="1.80" fill="#f7c0c2"/>
<rect x="98" y="250.50" width="10.30" height="1.80" fill="#d9d9ef"/>
<rect x="108" y="250.50" width="10.30" height="1.80" fill="#c6c6e8"/>
<rect x="118" y="250.50" width="9.30" height="1.80" fill="#ceceeb"/>
<rect x="127" y="250.50" width="10.30" height="1.80" fill="#e7e7f5"/>
<rect x="137" y="250.50" width="3.30" height="1.80" fill="#ebebf7"/>
<rect x="70" y="252.00" width="9.30" height="1.80" fill="#f7c5c7"/>
<rect x="79" y="252.00" width="10.30" height="1.80" fill="#fefafa"/>
<rect x="89" y="252.00" width="9.30" height="1.80" fill="#f5b1b3"/>
<rect x="98" y="252.00" width="10.30" height="1.80" fill="#eeeef8"/>
<rect x="108" y="252.00" width="10.30" height="1.80" fill="#c4c4e7"/>
<rect x="118" y="252.00" width="9.30" height="1.80" fill="#d8d8ef"/>
<rect x="127" y="252.00" width="10.30" height="1.80" fill="#ceceeb"/>
<rect x="137" y="252.00" width="3.30" height="1.80" fill="#c6c6e7"/>
<rect x="70" y="253.50" width="9.30" height="1.80" fill="#f7c0c2"/>
<rect x="79" y="253.50" width="10.30" height="1.80" fill="#fadcdc"/>
<rect x="89" y="253.50" width="9.30" height="1.80" fill="#f19598"/>
<rect x="98" y="253.50" width="10.30" height="1.80" fill="#f4f4fa"/>
<rect x="108" y="253.50" width="10.30" height="1.80" fill="#c6c6e7"/>
<rect x="118" y="253.50" width="9.30" height="1.80" fill="#c8c8e9"/>
<rect x="127" y="253.50" width="10.30" height="1.80" fill="#c2c2e6"/>
<rect x="137" y="253.50" width="3.30" height="1.80" fill="#e6e6f5"/>
<rect x="70" y="255.00" width="9.30" height="1.80" fill="#f1979a"/>
<rect x="79" y="255.00" width="10.30" height="1.80" fill="#f7c4c6"/>
<rect x="89" y="255.00" width="9.30" height="1.80" fill="#ee7f83"/>
<rect x="98" y="255.00" width="10.30" height="1.80" fill="#e8e8f6"/>
<rect x="108" y="255.00" width="10.30" height="1.80" fill="#c1c1e5"/>
<rect x="118" y="255.00" width="9.30" height="1.80" fill="#cacae9"/>
<rect x="127" y="255.00" width="10.30" height="1.80" fill="#c4c4e7"/>
<rect x="137" y="255.00" width="3.30" height="1.80" fill="#e8e8f5"/>
<rect x="70" y="256.50" width="9.30" height="1.80" fill="#f9cfd0"/>
<rect x="79" y="256.50" width="10.30" height="1.80" fill="#f3a1a3"/>
<rect x="89" y="256.50" width="9.30" height="1.80" fill="#ec6d71"/>
<rect x="98" y="256.50" width="10.30" height="1.80" fill="#d0d0ec"/>
<rect x="108" y="256.50" width="10.30" height="1.80" fill="#c1c1e5"/>
<rect x="118" y="256.50" width="9.30" height="1.80" fill="#b0b0df"/>
<rect x="127" y="256.50" width="10.30" height="1.80" fill="#aeaede"/>
<rect x="137" y="256.50" width="3.30" height="1.80" fill="#eeeef8"/>
<rect x="70" y="258.00" width="9.30" height="1.80" fill="#fbe2e3"/>
<rect x="79" y="258.00" width="10.30" height="1.80" fill="#f4aaad"/>
<rect x="89" y="258.00" width="9.30" height="1.80" fill="#ed767a"/>
<rect x="98" y="258.00" width="10.30" height="1.80" fill="#cacae9"/>
<rect x="108" y="258.00" width="10.30" height="1.80" fill="#c6c6e7"/>
<rect x="118" y="258.00" width="9.30" height="1.80" fill="#d2d2ec"/>
<rect x="127" y="258.00" width="10.30" height="1.80" fill="#c4c4e7"/>
<rect x="137" y="258.00" width="3.30" height="1.80" fill="#d0d0ec"/>
<rect x="70" y="259.50" width="9.30" height="1.80" fill="#f9cfd0"/>
<rect x="79" y="259.50" width="10.30" height="1.80" fill="#f19698"/>
<rect x="89" y="259.50" width="9.30" height="1.80" fill="#f19395"/>
<rect x="98" y="259.50" width="10.30" height="1.80" fill="#c3c3e6"/>
<rect x="108" y="259.50" width="10.30" height="1.80" fill="#c1c1e5"/>
<rect x="118" y="259.50" width="9.30" height="1.80" fill="#c4c4e7"/>
<rect x="127" y="259.50" width="10.30" height="1.80" fill="#c1c1e5"/>
<rect x="137" y="259.50" width="3.30" height="1.80" fill="#d6d6ee"/>
<rect x="70" y="261.00" width="9.30" height="1.80" fill="#f7c1c2"/>
<rect x="79" y="261.00" width="10.30" height="1.80" fill="#f29d9f"/>
<rect x="89" y="261.00" width="9.30" height="1.80" fill="#eb6569"/>
<rect x="98" y="261.00" width="10.30" height="1.80" fill="#c7c7e8"/>
<rect x="108" y="261.00" width="10.30" height="1.80" fill="#c8c8e9"/>
<rect x="118" y="261.00" width="9.30" height="1.80" fill="#d1d1ec"/>
<rect x="127" y="261.00" width="10.30" height="1.80" fill="#b3b3e0"/>
<rect x="137" y="261.00" width="3.30" height="1.80" fill="#dadaf0"/>
<rect x="70" y="262.50" width="9.30" height="1.80" fill="#f9d1d3"/>
<rect x="79" y="262.50" width="10.30" height="1.80" fill="#f7bfc0"/>
<rect x="89" y="262.50" width="9.30" height="1.80" fill="#ed767a"/>
<rect x="98" y="262.50" width="10.30" height="1.80" fill="#e0e0f2"/>
<rect x="108" y="262.50" width="10.30" height="1.80" fill="#cfcfeb"/>
<rect x="118" y="262.50" width="9.30" height="1.80" fill="#cdcdeb"/>
<rect x="127" y="262.50" width="10.30" height="1.80" fill="#d4d4ed"/>
<rect x="137" y="262.50" width="3.30" height="1.80" fill="#e5e5f4"/>
<rect x="70" y="264.00" width="9.30" height="1.80" fill="#f9d0d1"/>
<rect x="79" y="264.00" width="10.30" height="1.80" fill="#fef7f7"/>
<rect x="89" y="264.00" width="9.30" height="1.80" fill="#ea5e62"/>
<rect x="98" y="264.00" width="10.30" height="1.80" fill="#e1e1f3"/>
<rect x="108" y="264.00" width="10.30" height="1.80" fill="#b7b7e2"/>
<rect x="118" y="264.00" width="9.30" height="1.80" fill="#cfcfeb"/>
<rect x="127" y="264.00" width="10.30" height="1.80" fill="#c1c1e6"/>
<rect x="137" y="264.00" width="3.30" height="1.80" fill="#dcdcf0"/>
<rect x="70" y="265.50" width="9.30" height="1.80" fill="#f6bec0"/>
<rect x="79" y="265.50" width="10.30" height="1.80" fill="#f9d4d5"/>
<rect x="89" y="265.50" width="9.30" height="1.80" fill="#ee7d80"/>
<rect x="98" y="265.50" width="10.30" height="1.80" fill="#e8e8f5"/>
<rect x="108" y="265.50" width="10.30" height="1.80" fill="#ceceeb"/>
<rect x="118" y="265.50" width="9.30" height="1.80" fill="#e5e5f4"/>
<rect x="127" y="265.50" width="10.30" height="1.80" fill="#c5c5e7"/>
<rect x="137" y="265.50" width="3.30" height="1.80" fill="#e7e7f5"/>
<rect x="70" y="267.00" width="9.30" height="1.80" fill="#f7c1c3"/>
<rect x="79" y="267.00" width="10.30" height="1.80" fill="#f6babb"/>
<rect x="89" y="267.00" width="9.30" height="1.80" fill="#ef878a"/>
<rect x="98" y="267.00" width="10.30" height="1.80" fill="#fefbfb"/>
<rect x="108" y="267.00" width="10.30" height="1.80" fill="#d2d2ec"/>
<rect x="118" y="267.00" width="9.30" height="1.80" fill="#bbbbe3"/>
<rect x="127" y="267.00" width="10.30" height="1.80" fill="#c7c7e8"/>
<rect x="137" y="267.00" width="3.30" height="1.80" fill="#ceceeb"/>
<rect x="143" y="42.00" width="8.30" height="1.80" fill="#e95559"/>
<rect x="151" y="42.00" width="9.30" height="1.80" fill="#efeff8"/>
<rect x="160" y="42.00" width="8.30" height="1.80" fill="#fad7d8"/>
<rect x="168" y="42.00" width="8.30" height="1.80" fill="#fdeeee"/>
<rect x="176" y="42.00" width="9.30" height="1.80" fill="#bfbfe5"/>
<rect x="185" y="42.00" width="8.30" height="1.80" fill="#ceceeb"/>
<rect x="193" y="42.00" width="9.30" height="1.80" fill="#c4c4e7"/>
<rect x="202" y="42.00" width="8.30" height="1.80" fill="#cfcfeb"/>
<rect x="143" y="43.50" width="8.30" height="1.80" fill="#ea6064"/>
<rect x="151" y="43.50" width="9.30" height="1.80" fill="#fef8f8"/>
<rect x="160" y="43.50" width="8.30" height="1.80" fill="#fad9da"/>
<rect x="168" y="43.50" width="8.30" height="1.80" fill="#fcecec"/>
<rect x="176" y="43.50" width="9.30" height="1.80" fill="#bdbde4"/>
<rect x="185" y="43.50" width="8.30" height="1.80" fill="#b5b5e1"/>
<rect x="193" y="43.50" width="9.30" height="1.80" fill="#aeaede"/>
<rect x="202" y="43.50" width="8.30" height="1.80" fill="#d4d4ed"/>
<rect x="143" y="45.00" width="8.30" height="1.80" fill="#ec6d70"/>
<rect x="151" y="45.00" width="9.30" height="1.80" fill="#fcebec"/>
<rect x="160" y="45.00" width="8.30" height="1.80" fill="#fbdedf"/>
<rect x="168" y="45.00" width="8.30" height="1.80" fill="#fdf0f0"/>
<rect x="176" y="45.00" width="9.30" height="1.80" fill="#9b9bd6"/>
<rect x="185" y="45.00" width="8.30" height="1.80" fill="#cbcbea"/>
<rect x="193" y="45.00" width="9.30" height="1.80" fill="#a1a1d8"/>
<rect x="202" y="45.00" width="8.30" height="1.80" fill="#b9b9e2"/>
<rect x="143" y="46.50" width="8.30" height="1.80" fill="#ed7578"/>
<rect x="151" y="46.50" width="9.30" height="1.80" fill="#fce5e5"/>
<rect x="160" y="46.50" width="8.30" height="1.80" fill="#fef9f9"/>
<rect x="168" y="46.50" width="8.30" height="1.80" fill="#d6d6ee"/>
<rect x="176" y="46.50" width="9.30" height="1.80" fill="#6a6ac2"/>
<rect x="185" y="46.50" width="8.30" height="1.80" fill="#9c9cd6"/>
<rect x="193" y="46.50" width="9.30" height="1.80" fill="#b5b5e0"/>
<rect x="202" y="46.50" width="8.30" height="1.80" fill="#b5b5e1"/>
<rect x="143" y="48.00" width="8.30" height="1.80" fill="#f4abad"/>
<rect x="151" y="48.00" width="9.30" height="1.80" fill="#fcfcfe"/>
<rect x="160" y="48.00" width="8.30" height="1.80" fill="#fbe3e4"/>
<rect x="168" y="48.00" width="8.30" height="1.80" fill="#d7d7ef"/>
<rect x="176" y="48.00" width="9.30" height="1.80" fill="#b8b8e2"/>
<rect x="185" y="48.00" width="8.30" height="1.80" fill="#c5c5e7"/>
<rect x="193" y="48.00" width="9.30" height="1.80" fill="#e1e1f3"/>
<rect x="202" y="48.00" width="8.30" height="1.80" fill="#dedef2"/>
<rect x="143" y="49.50" width="8.30" height="1.80" fill="#eb6569"/>
<rect x="151" y="49.50" width="9.30" height="1.80" fill="#fefeff"/>
<rect x="160" y="49.50" width="8.30" height="1.80" fill="#fadadb"/>
<rect x="168" y="49.50" width="8.30" height="1.80" fill="#c7c7e8"/>
<rect x="176" y="49.50" width="9.30" height="1.80" fill="#9c9cd6"/>
<rect x="185" y="49.50" width="8.30" height="1.80" fill="#a6a6da"/>
<rect x="193" y="49.50" width="9.30" height="1.80" fill="#c8c8e9"/>
<rect x="202" y="49.50" width="8.30" height="1.80" fill="#b8b8e2"/>
<rect x="143" y="51.00" width="8.30" height="1.80" fill="#e63e43"/>
<rect x="151" y="51.00" width="9.30" height="1.80" fill="#f0f0f9"/>
<rect x="160" y="51.00" width="8.30" height="1.80" fill="#f6b7b9"/>
<rect x="168" y="51.00" width="8.30" height="1.80" fill="#d7d7ef"/>
<rect x="176" y="51.00" width="9.30" height="1.80" fill="#8787ce"/>
<rect x="185" y="51.00" width="8.30" height="1.80" fill="#8282cb"/>
<rect x="193" y="51.00" width="9.30" height="1.80" fill="#c7c7e8"/>
<rect x="202" y="51.00" width="8.30" height="1.80" fill="#aeaede"/>
<rect x="143" y="52.50" width="8.30" height="1.80" fill="#e84f54"/>
<rect x="151" y="52.50" width="9.30" height="1.80" fill="#fbdfdf"/>
<rect x="160" y="52.50" width="8.30" height="1.80" fill="#fdf0f1"/>
<rect x="168" y="52.50" width="8.30" height="1.80" fill="#ccccea"/>
<rect x="176" y="52.50" width="9.30" height="1.80" fill="#a1a1d8"/>
<rect x="185" y="52.50" width="8.30" height="1.80" fill="#b5b5e0"/>
<rect x="193" y="52.50" width="9.30" height="1.80" fill="#d0d0ec"/>
<rect x="202" y="52.50" width="8.30" height="1.80" fill="#eaeaf7"/>
<rect x="143" y="54.00" width="8.30" height="1.80" fill="#eb6569"/>
<rect x="151" y="54.00" width="9.30" height="1.80" fill="#fdf1f1"/>
<rect x="160" y="54.00" width="8.30" height="1.80" fill="#fef9f9"/>
<rect x="168" y="54.00" width="8.30" height="1.80" fill="#c5c5e7"/>
<rect x="176" y="54.00" width="9.30" height="1.80" fill="#b4b4e0"/>
<rect x="185" y="54.00" width="8.30" height="1.80" fill="#b8b8e2"/>
<rect x="193" y="54.00" width="9.30" height="1.80" fill="#b9b9e2"/>
<rect x="202" y="54.00" width="8.30" height="1.80" fill="#e9e9f6"/>
<rect x="143" y="55.50" width="8.30" height="1.80" fill="#f4acae"/>
<rect x="151" y="55.50" width="9.30" height="1.80" fill="#fce7e7"/>
<rect x="160" y="55.50" width="8.30" height="1.80" fill="#fdedee"/>
<rect x="168" y="55.50" width="8.30" height="1.80" fill="#d3d3ed"/>
<rect x="176" y="55.50" width="9.30" height="1.80" fill="#7f7fca"/>
<rect x="185" y="55.50" width="8.30" height="1.80" fill="#c5c5e7"/>
<rect x="193" y="55.50" width="9.30" height="1.80" fill="#a0a0d8"/>
<rect x="202" y="55.50" width="8.30" height="1.80" fill="#fcfcfe"/>
<rect x="143" y="57.00" width="8.30" height="1.80" fill="#ef8487"/>
<rect x="151" y="57.00" width="9.30" height="1.80" fill="#ededf8"/>
<rect x="160" y="57.00" width="8.30" height="1.80" fill="#fdeeee"/>
<rect x="168" y="57.00" width="8.30" height="1.80" fill="#d5d5ee"/>
<rect x="176" y="57.00" width="9.30" height="1.80" fill="#a7a7db"/>
<rect x="185" y="57.00" width="8.30" height="1.80" fill="#a7a7db"/>
<rect x="193" y="57.00" width="9.30" height="1.80" fill="#b5b5e0"/>
<rect x="202" y="57.00" width="8.30" height="1.80" fill="#d2d2ec"/>
<rect x="143" y="58.50" width="8.30" height="1.80" fill="#eb676b"/>
<rect x="151" y="58.50" width="9.30" height="1.80" fill="#e4e4f4"/>
<rect x="160" y="58.50" width="8.30" height="1.80" fill="#fbddde"/>
<rect x="168" y="58.50" width="8.30" height="1.80" fill="#f1f1f9"/>
<rect x="176" y="58.50" width="9.30" height="1.80" fill="#c9c9e9"/>
<rect x="185" y="58.50" width="8.30" height="1.80" fill="#b2b2df"/>
<rect x="193" y="58.50" width="9.30" height="1.80" fill="#c8c8e8"/>
<rect x="202" y="58.50" width="8.30" height="1.80" fill="#fcfcfe"/>
<rect x="143" y="60.00" width="8.30" height="1.80" fill="#e85155"/>
<rect x="151" y="60.00" width="9.30" height="1.80" fill="#fdf4f4"/>
<rect x="160" y="60.00" width="8.30" height="1.80" fill="#f8cbcd"/>
<rect x="168" y="60.00" width="8.30" height="1.80" fill="#d8d8ef"/>
<rect x="176" y="60.00" width="9.30" height="1.80" fill="#8080cb"/>
<rect x="185" y="60.00" width="8.30" height="1.80" fill="#cbcbe9"/>
<rect x="193" y="60.00" width="9.30" height="1.80" fill="#adaddd"/>
<rect x="202" y="60.00" width="8.30" height="1.80" fill="#bebee4"/>
<rect x="143" y="61.50" width="8.30" height="1.80" fill="#e63e43"/>
<rect x="151" y="61.50" width="9.30" height="1.80" fill="#f9d3d4"/>
<rect x="160" y="61.50" width="8.30" height="1.80" fill="#fce5e5"/>
<rect x="168" y="61.50" width="8.30" height="1.80" fill="#bbbbe3"/>
<rect x="176" y="61.50" width="9.30" height="1.80" fill="#a1a1d8"/>
<rect x="185" y="61.50" width="8.30" height="1.80" fill="#b1b1df"/>
<rect x="193" y="61.50" width="9.30" height="1.80" fill="#9d9dd7"/>
<rect x="202" y="61.50" width="8.30" height="1.80" fill="#b7b7e1"/>
<rect x="143" y="63.00" width="8.30" height="1.80" fill="#e1191f"/>
<rect x="151" y="63.00" width="9.30" height="1.80" fill="#fce9e9"/>
<rect x="160" y="63.00" width="8.30" height="1.80" fill="#f6bec0"/>
<rect x="168" y="63.00" width="8.30" height="1.80" fill="#d8d8ef"/>
<rect x="176" y="63.00" width="9.30" height="1.80" fill="#6b6bc2"/>
<rect x="185" y="63.00" width="8.30" height="1.80" fill="#6161be"/>
<rect x="193" y="63.00" width="9.30" height="1.80" fill="#b6b6e1"/>
<rect x="202" y="63.00" width="8.30" height="1.80" fill="#c0c0e5"/>
<rect x="143" y="64.50" width="8.30" height="1.80" fill="#e1181e"/>
<rect x="151" y="64.50" width="9.30" height="1.80" fill="#fad8d9"/>
<rect x="160" y="64.50" width="8.30" height="1.80" fill="#f4afb1"/>
<rect x="168" y="64.50" width="8.30" height="1.80" fill="#ffffff"/>
<rect x="176" y="64.50" width="9.30" height="1.80" fill="#9d9dd7"/>
<rect x="185" y="64.50" width="8.30" height="1.80" fill="#7171c5"/>
<rect x="193" y="64.50" width="9.30" height="1.80" fill="#9191d2"/>
<rect x="202" y="64.50" width="8.30" height="1.80" fill="#ddddf1"/>
<rect x="143" y="66.00" width="8.30" height="1.80" fill="#e53a3f"/>
<rect x="151" y="66.00" width="9.30" height="1.80" fill="#f9d2d3"/>
<rect x="160" y="66.00" width="8.30" height="1.80" fill="#fbe3e4"/>
<rect x="168" y="66.00" width="8.30" height="1.80" fill="#ededf7"/>
<rect x="176" y="66.00" width="9.30" height="1.80" fill="#a9a9db"/>
<rect x="185" y="66.00" width="8.30" height="1.80" fill="#7373c5"/>
<rect x="193" y="66.00" width="9.30" height="1.80" fill="#c3c3e6"/>
<rect x="202" y="66.00" width="8.30" height="1.80" fill="#c0c0e5"/>
<rect x="143" y="67.50" width="8.30" height="1.80" fill="#e53a3f"/>
<rect x="151" y="67.50" width="9.30" height="1.80" fill="#fefbfb"/>
<rect x="160" y="67.50" width="8.30" height="1.80" fill="#f6babc"/>
<rect x="168" y="67.50" width="8.30" height="1.80" fill="#fef4f4"/>
<rect x="176" y="67.50" width="9.30" height="1.80" fill="#eaeaf6"/>
<rect x="185" y="67.50" width="8.30" height="1.80" fill="#9696d4"/>
<rect x="193" y="67.50" width="9.30" height="1.80" fill="#d5d5ee"/>
<rect x="202" y="67.50" width="8.30" height="1.80" fill="#c0c0e5"/>
<rect x="143" y="69.00" width="8.30" height="1.80" fill="#e4363b"/>
<rect x="151" y="69.00" width="9.30" height="1.80" fill="#fce8e9"/>
<rect x="160" y="69.00" width="8.30" height="1.80" fill="#f5b6b8"/>
<rect x="168" y="69.00" width="8.30" height="1.80" fill="#fefafb"/>
<rect x="176" y="69.00" width="9.30" height="1.80" fill="#c2c2e6"/>
<rect x="185" y="69.00" width="8.30" height="1.80" fill="#9c9cd6"/>
<rect x="193" y="69.00" width="9.30" height="1.80" fill="#fbfbfd"/>
<rect x="202" y="69.00" width="8.30" height="1.80" fill="#c8c8e8"/>
<rect x="143" y="70.50" width="8.30" height="1.80" fill="#eb6a6e"/>
<rect x="151" y="70.50" width="9.30" height="1.80" fill="#fbfbfd"/>
<rect x="160" y="70.50" width="8.30" height="1.80" fill="#f5b0b2"/>
<rect x="168" y="70.50" width="8.30" height="1.80" fill="#fef7f7"/>
<rect x="176" y="70.50" width="9.30" height="1.80" fill="#bbbbe3"/>
<rect x="185" y="70.50" width="8.30" height="1.80" fill="#9898d4"/>
<rect x="193" y="70.50" width="9.30" height="1.80" fill="#d4d4ed"/>
<rect x="202" y="70.50" width="8.30" height="1.80" fill="#a4a4da"/>
<rect x="143" y="72.00" width="8.30" height="1.80" fill="#eb696c"/>
<rect x="151" y="72.00" width="9.30" height="1.80" fill="#f5f5fb"/>
<rect x="160" y="72.00" width="8.30" height="1.80" fill="#fbe1e1"/>
<rect x="168" y="72.00" width="8.30" height="1.80" fill="#fdfdfe"/>
<rect x="176" y="72.00" width="9.30" height="1.80" fill="#c8c8e8"/>
<rect x="185" y="72.00" width="8.30" height="1.80" fill="#8f8fd1"/>
<rect x="193" y="72.00" width="9.30" height="1.80" fill="#c5c5e7"/>
<rect x="202" y="72.00" width="8.30" height="1.80" fill="#bbbbe3"/>
<rect x="143" y="73.50" width="8.30" height="1.80" fill="#f29d9f"/>
<rect x="151" y="73.50" width="9.30" height="1.80" fill="#e4e4f4"/>
<rect x="160" y="73.50" width="8.30" height="1.80" fill="#fcfcfe"/>
<rect x="168" y="73.50" width="8.30" height="1.80" fill="#f9f9fc"/>
<rect x="176" y="73.50" width="9.30" height="1.80" fill="#c6c6e8"/>
<rect x="185" y="73.50" width="8.30" height="1.80" fill="#ccccea"/>
<rect x="193" y="73.50" width="9.30" height="1.80" fill="#ccccea"/>
<rect x="202" y="73.50" width="8.30" height="1.80" fill="#e2e2f3"/>
<rect x="143" y="75.00" width="8.30" height="1.80" fill="#ec6e72"/>
<rect x="151" y="75.00" width="9.30" height="1.80" fill="#c9c9e9"/>
<rect x="160" y="75.00" width="8.30" height="1.80" fill="#fbddde"/>
<rect x="168" y="75.00" width="8.30" height="1.80" fill="#e4e4f4"/>
<rect x="176" y="75.00" width="9.30" height="1.80" fill="#9292d2"/>
<rect x="185" y="75.00" width="8.30" height="1.80" fill="#9292d2"/>
<rect x="193" y="75.00" width="9.30" height="1.80" fill="#b3b3e0"/>
<rect x="202" y="75.00" width="8.30" height="1.80" fill="#bbbbe3"/>
<rect x="143" y="76.50" width="8.30" height="1.80" fill="#ec7275"/>
<rect x="151" y="76.50" width="9.30" height="1.80" fill="#c7c7e8"/>
<rect x="160" y="76.50" width="8.30" height="1.80" fill="#fad6d7"/>
<rect x="168" y="76.50" width="8.30" height="1.80" fill="#fcebec"/>
<rect x="176" y="76.50" width="9.30" height="1.80" fill="#acacdd"/>
<rect x="185" y="76.50" width="8.30" height="1.80" fill="#e0e0f2"/>
<rect x="193" y="76.50" width="9.30" height="1.80" fill="#c7c7e8"/>
<rect x="202" y="76.50" width="8.30" height="1.80" fill="#e1e1f3"/>
<rect x="143" y="78.00" width="8.30" height="1.80" fill="#ee7c80"/>
<rect x="151" y="78.00" width="9.30" height="1.80" fill="#d1d1ec"/>
<rect x="160" y="78.00" width="8.30" height="1.80" fill="#fdeeef"/>
<rect x="168" y="78.00" width="8.30" height="1.80" fill="#e4e4f4"/>
<rect x="176" y="78.00" width="9.30" height="1.80" fill="#a4a4da"/>
<rect x="185" y="78.00" width="8.30" height="1.80" fill="#c1c1e5"/>
<rect x="193" y="78.00" width="9.30" height="1.80" fill="#aeaede"/>
<rect x="202" y="78.00" width="8.30" height="1.80" fill="#e3e3f3"/>
<rect x="143" y="79.50" width="8.30" height="1.80" fill="#f29a9d"/>
<rect x="151" y="79.50" width="9.30" height="1.80" fill="#c9c9e9"/>
<rect x="160" y="79.50" width="8.30" height="1.80" fill="#fdf1f1"/>
<rect x="168" y="79.50" width="8.30" height="1.80" fill="#fdf2f2"/>
<rect x="176" y="79.50" width="9.30" height="1.80" fill="#8888ce"/>
<rect x="185" y="79.50" width="8.30" height="1.80" fill="#a4a4da"/>
<rect x="193" y="79.50" width="9.30" height="1.80" fill="#c5c5e7"/>
<rect x="202" y="79.50" width="8.30" height="1.80" fill="#dbdbf0"/>
<rect x="143" y="81.00" width="8.30" height="1.80" fill="#eb6a6e"/>
<rect x="151" y="81.00" width="9.30" height="1.80" fill="#d4d4ed"/>
<rect x="160" y="81.00" width="8.30" height="1.80" fill="#e6e6f5"/>
<rect x="168" y="81.00" width="8.30" height="1.80" fill="#f8cdce"/>
<rect x="176" y="81.00" width="9.30" height="1.80" fill="#a8a8db"/>
<rect x="185" y="81.00" width="8.30" height="1.80" fill="#c3c3e6"/>
<rect x="193" y="81.00" width="9.30" height="1.80" fill="#b6b6e1"/>
<rect x="202" y="81.00" width="8.30" height="1.80" fill="#e4e4f4"/>
<rect x="143" y="82.50" width="8.30" height="1.80" fill="#e64449"/>
<rect x="151" y="82.50" width="9.30" height="1.80" fill="#fbe1e1"/>
<rect x="160" y="82.50" width="8.30" height="1.80" fill="#fce7e7"/>
<rect x="168" y="82.50" width="8.30" height="1.80" fill="#fadbdc"/>
<rect x="176" y="82.50" width="9.30" height="1.80" fill="#9d9dd7"/>
<rect x="185" y="82.50" width="8.30" height="1.80" fill="#b5b5e1"/>
<rect x="193" y="82.50" width="9.30" height="1.80" fill="#9898d5"/>
<rect x="202" y="82.50" width="8.30" height="1.80" fill="#e3e3f3"/>
<rect x="143" y="84.00" width="8.30" height="1.80" fill="#e5393e"/>
<rect x="151" y="84.00" width="9.30" height="1.80" fill="#fffefe"/>
<rect x="160" y="84.00" width="8.30" height="1.80" fill="#fbe1e2"/>
<rect x="168" y="84.00" width="8.30" height="1.80" fill="#f6bbbd"/>
<rect x="176" y="84.00" width="9.30" height="1.80" fill="#b1b1df"/>
<rect x="185" y="84.00" width="8.30" height="1.80" fill="#aeaedd"/>
<rect x="193" y="84.00" width="9.30" height="1.80" fill="#bdbde4"/>
<rect x="202" y="84.00" width="8.30" height="1.80" fill="#dbdbf0"/>
<rect x="143" y="85.50" width="8.30" height="1.80" fill="#e85156"/>
<rect x="151" y="85.50" width="9.30" height="1.80" fill="#f7bfc1"/>
<rect x="160" y="85.50" width="8.30" height="1.80" fill="#fcecec"/>
<rect x="168" y="85.50" width="8.30" height="1.80" fill="#fce5e6"/>
<rect x="176" y="85.50" width="9.30" height="1.80" fill="#c3c3e6"/>
<rect x="185" y="85.50" width="8.30" height="1.80" fill="#b0b0df"/>
<rect x="193" y="85.50" width="9.30" height="1.80" fill="#9f9fd7"/>
<rect x="202" y="85.50" width="8.30" height="1.80" fill="#c6c6e7"/>
<rect x="143" y="87.00" width="8.30" height="1.80" fill="#e53a3f"/>
<rect x="151" y="87.00" width="9.30" height="1.80" fill="#fcecec"/>
<rect x="160" y="87.00" width="8.30" height="1.80" fill="#fceaea"/>
<rect x="168" y="87.00" width="8.30" height="1.80" fill="#f7f7fc"/>
<rect x="176" y="87.00" width="9.30" height="1.80" fill="#aeaede"/>
<rect x="185" y="87.00" width="8.30" height="1.80" fill="#8c8cd0"/>
<rect x="193" y="87.00" width="9.30" height="1.80" fill="#9e9ed7"/>
<rect x="202" y="87.00" width="8.30" height="1.80" fill="#bbbbe3"/>
<rect x="143" y="88.50" width="8.30" height="1.80" fill="#e2272c"/>
<rect x="151" y="88.50" width="9.30" height="1.80" fill="#dfdff2"/>
<rect x="160" y="88.50" width="8.30" height="1.80" fill="#fbe1e1"/>
<rect x="168" y="88.50" width="8.30" height="1.80" fill="#eeeef8"/>
<rect x="176" y="88.50" width="9.30" height="1.80" fill="#dadaf0"/>
<rect x="185" y="88.50" width="8.30" height="1.80" fill="#9898d5"/>
<rect x="193" y="88.50" width="9.30" height="1.80" fill="#bdbde4"/>
<rect x="202" y="88.50" width="8.30" height="1.80" fill="#e2e2f3"/>
<rect x="143" y="90.00" width="8.30" height="1.80" fill="#e0141a"/>
<rect x="151" y="90.00" width="9.30" height="1.80" fill="#fad7d8"/>
<rect x="160" y="90.00" width="8.30" height="1.80" fill="#f4acae"/>
<rect x="168" y="90.00" width="8.30" height="1.80" fill="#ccccea"/>
<rect x="176" y="90.00" width="9.30" height="1.80" fill="#b1b1df"/>
<rect x="185" y="90.00" width="8.30" height="1.80" fill="#b5b5e1"/>
<rect x="193" y="90.00" width="9.30" height="1.80" fill="#adaddd"/>
<rect x="202" y="90.00" width="8.30" height="1.80" fill="#c9c9e9"/>
<rect x="143" y="91.50" width="8.30" height="1.80" fill="#e22026"/>
<rect x="151" y="91.50" width="9.30" height="1.80" fill="#f7c6c7"/>
<rect x="160" y="91.50" width="8.30" height="1.80" fill="#f29d9f"/>
<rect x="168" y="91.50" width="8.30" height="1.80" fill="#c9c9e9"/>
<rect x="176" y="91.50" width="9.30" height="1.80" fill="#b3b3e0"/>
<rect x="185" y="91.50" width="8.30" height="1.80" fill="#a6a6da"/>
<rect x="193" y="91.50" width="9.30" height="1.80" fill="#8d8dd0"/>
<rect x="202" y="91.50" width="8.30" height="1.80" fill="#c7c7e8"/>
<rect x="143" y="93.00" width="8.30" height="1.80" fill="#e63f44"/>
<rect x="151" y="93.00" width="9.30" height="1.80" fill="#f8cbcd"/>
<rect x="160" y="93.00" width="8.30" height="1.80" fill="#f7c4c5"/>
<rect x="168" y="93.00" width="8.30" height="1.80" fill="#dfdff2"/>
<rect x="176" y="93.00" width="9.30" height="1.80" fill="#8f8fd1"/>
<rect x="185" y="93.00" width="8.30" height="1.80" fill="#9f9fd8"/>
<rect x="193" y="93.00" width="9.30" height="1.80" fill="#a9a9dc"/>
<rect x="202" y="93.00" width="8.30" height="1.80" fill="#d7d7ee"/>
<rect x="143" y="94.50" width="8.30" height="1.80" fill="#e74a4f"/>
<rect x="151" y="94.50" width="9.30" height="1.80" fill="#fce9ea"/>
<rect x="160" y="94.50" width="8.30" height="1.80" fill="#ed787c"/>
<rect x="168" y="94.50" width="8.30" height="1.80" fill="#ebebf7"/>
<rect x="176" y="94.50" width="9.30" height="1.80" fill="#9b9bd6"/>
<rect x="185" y="94.50" width="8.30" height="1.80" fill="#b1b1df"/>
<rect x="193" y="94.50" width="9.30" height="1.80" fill="#a8a8db"/>
<rect x="202" y="94.50" width="8.30" height="1.80" fill="#d0d0ec"/>
<rect x="143" y="96.00" width="8.30" height="1.80" fill="#e64247"/>
<rect x="151" y="96.00" width="9.30" height="1.80" fill="#fbddde"/>
<rect x="160" y="96.00" width="8.30" height="1.80" fill="#f08e91"/>
<rect x="168" y="96.00" width="8.30" height="1.80" fill="#bebee4"/>
<rect x="176" y="96.00" width="9.30" height="1.80" fill="#a4a4da"/>
<rect x="185" y="96.00" width="8.30" height="1.80" fill="#ceceeb"/>
<rect x="193" y="96.00" width="9.30" height="1.80" fill="#d9d9ef"/>
<rect x="202" y="96.00" width="8.30" height="1.80" fill="#f6f6fb"/>
<rect x="143" y="97.50" width="8.30" height="1.80" fill="#e43035"/>
<rect x="151" y="97.50" width="9.30" height="1.80" fill="#fad6d7"/>
<rect x="160" y="97.50" width="8.30" height="1.80" fill="#ef888b"/>
<rect x="168" y="97.50" width="8.30" height="1.80" fill="#fdfdfe"/>
<rect x="176" y="97.50" width="9.30" height="1.80" fill="#9696d4"/>
<rect x="185" y="97.50" width="8.30" height="1.80" fill="#c1c1e6"/>
<rect x="193" y="97.50" width="9.30" height="1.80" fill="#b2b2df"/>
<rect x="202" y="97.50" width="8.30" height="1.80" fill="#dedef2"/>
<rect x="143" y="99.00" width="8.30" height="1.80" fill="#e64449"/>
<rect x="151" y="99.00" width="9.30" height="1.80" fill="#f9d3d4"/>
<rect x="160" y="99.00" width="8.30" height="1.80" fill="#ee7c7f"/>
<rect x="168" y="99.00" width="8.30" height="1.80" fill="#f9d3d5"/>
<rect x="176" y="99.00" width="9.30" height="1.80" fill="#9494d3"/>
<rect x="185" y="99.00" width="8.30" height="1.80" fill="#9d9dd7"/>
<rect x="193" y="99.00" width="9.30" height="1.80" fill="#cdcdea"/>
<rect x="202" y="99.00" width="8.30" height="1.80" fill="#f6f6fb"/>
<rect x="143" y="100.50" width="8.30" height="1.80" fill="#eb696d"/>
<rect x="151" y="100.50" width="9.30" height="1.80" fill="#fad8d9"/>
<rect x="160" y="100.50" width="8.30" height="1.80" fill="#ec7174"/>
<rect x="168" y="100.50" width="8.30" height="1.80" fill="#fef5f6"/>
<rect x="176" y="100.50" width="9.30" height="1.80" fill="#9191d2"/>
<rect x="185" y="100.50" width="8.30" height="1.80" fill="#9f9fd7"/>
<rect x="193" y="100.50" width="9.30" height="1.80" fill="#b2b2df"/>
<rect x="202" y="100.50" width="8.30" height="1.80" fill="#f2f2fa"/>
<rect x="143" y="102.00" width="8.30" height="1.80" fill="#e7474c"/>
<rect x="151" y="102.00" width="9.30" height="1.80" fill="#f5b3b5"/>
<rect x="160" y="102.00" width="8.30" height="1.80" fill="#e53b40"/>
<rect x="168" y="102.00" width="8.30" height="1.80" fill="#fdfdfe"/>
<rect x="176" y="102.00" width="9.30" height="1.80" fill="#7e7eca"/>
<rect x="185" y="102.00" width="8.30" height="1.80" fill="#a8a8db"/>
<rect x="193" y="102.00" width="9.30" height="1.80" fill="#a4a4d9"/>
<rect x="202" y="102.00" width="8.30" height="1.80" fill="#f2f2f9"/>
<rect x="143" y="103.50" width="8.30" height="1.80" fill="#e85155"/>
<rect x="151" y="103.50" width="9.30" height="1.80" fill="#f9cfd0"/>
<rect x="160" y="103.50" width="8.30" height="1.80" fill="#e53c41"/>
<rect x="168" y="103.50" width="8.30" height="1.80" fill="#f2f2fa"/>
<rect x="176" y="103.50" width="9.30" height="1.80" fill="#5151b7"/>
<rect x="185" y="103.50" width="8.30" height="1.80" fill="#b6b6e1"/>
<rect x="193" y="103.50" width="9.30" height="1.80" fill="#9d9dd7"/>
<rect x="202" y="103.50" width="8.30" height="1.80" fill="#d6d6ee"/>
<rect x="143" y="105.00" width="8.30" height="1.80" fill="#e84f53"/>
<rect x="151" y="105.00" width="9.30" height="1.80" fill="#fffdfd"/>
<rect x="160" y="105.00" width="8.30" height="1.80" fill="#ec6e71"/>
<rect x="168" y="105.00" width="8.30" height="1.80" fill="#fafafd"/>
<rect x="176" y="105.00" width="9.30" height="1.80" fill="#6f6fc4"/>
<rect x="185" y="105.00" width="8.30" height="1.80" fill="#e5e5f4"/>
<rect x="193" y="105.00" width="9.30" height="1.80" fill="#b6b6e1"/>
<rect x="202" y="105.00" width="8.30" height="1.80" fill="#ebebf7"/>
<rect x="143" y="106.50" width="8.30" height="1.80" fill="#e74d51"/>
<rect x="151" y="106.50" width="9.30" height="1.80" fill="#e2e2f3"/>
<rect x="160" y="106.50" width="8.30" height="1.80" fill="#e7464a"/>
<rect x="168" y="106.50" width="8.30" height="1.80" fill="#e9e9f6"/>
<rect x="176" y="106.50" width="9.30" height="1.80" fill="#7878c7"/>
<rect x="185" y="106.50" width="8.30" height="1.80" fill="#cdcdea"/>
<rect x="193" y="106.50" width="9.30" height="1.80" fill="#c8c8e8"/>
<rect x="202" y="106.50" width="8.30" height="1.80" fill="#ebebf7"/>
<rect x="143" y="108.00" width="8.30" height="1.80" fill="#e2252a"/>
<rect x="151" y="108.00" width="9.30" height="1.80" fill="#fbdfe0"/>
<rect x="160" y="108.00" width="8.30" height="1.80" fill="#e43439"/>
<rect x="168" y="108.00" width="8.30" height="1.80" fill="#d9d9ef"/>
<rect x="176" y="108.00" width="9.30" height="1.80" fill="#7676c7"/>
<rect x="185" y="108.00" width="8.30" height="1.80" fill="#b4b4e0"/>
<rect x="193" y="108.00" width="9.30" height="1.80" fill="#dedef1"/>
<rect x="202" y="108.00" width="8.30" height="1.80" fill="#cacae9"/>
<rect x="143" y="109.50" width="8.30" height="1.80" fill="#ed7578"/>
<rect x="151" y="109.50" width="9.30" height="1.80" fill="#fcfcfe"/>
<rect x="160" y="109.50" width="8.30" height="1.80" fill="#e84f54"/>
<rect x="168" y="109.50" width="8.30" height="1.80" fill="#d2d2ec"/>
<rect x="176" y="109.50" width="9.30" height="1.80" fill="#7c7cc9"/>
<rect x="185" y="109.50" width="8.30" height="1.80" fill="#bebee4"/>
<rect x="193" y="109.50" width="9.30" height="1.80" fill="#cbcbea"/>
<rect x="202" y="109.50" width="8.30" height="1.80" fill="#d8d8ef"/>
<rect x="143" y="111.00" width="8.30" height="1.80" fill="#f3a3a6"/>
<rect x="151" y="111.00" width="9.30" height="1.80" fill="#ddddf1"/>
<rect x="160" y="111.00" width="8.30" height="1.80" fill="#ed7377"/>
<rect x="168" y="111.00" width="8.30" height="1.80" fill="#e6e6f5"/>
<rect x="176" y="111.00" width="9.30" height="1.80" fill="#9696d4"/>
<rect x="185" y="111.00" width="8.30" height="1.80" fill="#dedef2"/>
<rect x="193" y="111.00" width="9.30" height="1.80" fill="#e9e9f6"/>
<rect x="202" y="111.00" width="8.30" height="1.80" fill="#d9d9ef"/>
<rect x="143" y="112.50" width="8.30" height="1.80" fill="#ef8689"/>
<rect x="151" y="112.50" width="9.30" height="1.80" fill="#f2f2fa"/>
<rect x="160" y="112.50" width="8.30" height="1.80" fill="#ef8487"/>
<rect x="168" y="112.50" width="8.30" height="1.80" fill="#cdcdea"/>
<rect x="176" y="112.50" width="9.30" height="1.80" fill="#9b9bd6"/>
<rect x="185" y="112.50" width="8.30" height="1.80" fill="#aaaadc"/>
<rect x="193" y="112.50" width="9.30" height="1.80" fill="#d8d8ef"/>
<rect x="202" y="112.50" width="8.30" height="1.80" fill="#c0c0e5"/>
<rect x="143" y="114.00" width="8.30" height="1.80" fill="#ee7e81"/>
<rect x="151" y="114.00" width="9.30" height="1.80" fill="#ddddf1"/>
<rect x="160" y="114.00" width="8.30" height="1.80" fill="#f3a2a5"/>
<rect x="168" y="114.00" width="8.30" height="1.80" fill="#f0f0f9"/>
<rect x="176" y="114.00" width="9.30" height="1.80" fill="#afafde"/>
<rect x="185" y="114.00" width="8.30" height="1.80" fill="#dcdcf1"/>
<rect x="193" y="114.00" width="9.30" height="1.80" fill="#eeeef8"/>
<rect x="202" y="114.00" width="8.30" height="1.80" fill="#efeff8"/>
<rect x="143" y="115.50" width="8.30" height="1.80" fill="#f08a8d"/>
<rect x="151" y="115.50" width="9.30" height="1.80" fill="#e6e6f5"/>
<rect x="160" y="115.50" width="8.30" height="1.80" fill="#ea6367"/>
<rect x="168" y="115.50" width="8.30" height="1.80" fill="#c2c2e6"/>
<rect x="176" y="115.50" width="9.30" height="1.80" fill="#8e8ed1"/>
<rect x="185" y="115.50" width="8.30" height="1.80" fill="#8686cd"/>
<rect x="193" y="115.50" width="9.30" height="1.80" fill="#b9b9e2"/>
<rect x="202" y="115.50" width="8.30" height="1.80" fill="#c2c2e6"/>
<rect x="143" y="117.00" width="8.30" height="1.80" fill="#f3a2a4"/>
<rect x="151" y="117.00" width="9.30" height="1.80" fill="#dbdbf0"/>
<rect x="160" y="117.00" width="8.30" height="1.80" fill="#ef898c"/>
<rect x="168" y="117.00" width="8.30" height="1.80" fill="#e2e2f3"/>
<rect x="176" y="117.00" width="9.30" height="1.80" fill="#cdcdea"/>
<rect x="185" y="117.00" width="8.30" height="1.80" fill="#bbbbe3"/>
<rect x="193" y="117.00" width="9.30" height="1.80" fill="#dcdcf1"/>
<rect x="202" y="117.00" width="8.30" height="1.80" fill="#b4b4e0"/>
<rect x="143" y="118.50" width="8.30" height="1.80" fill="#eb666a"/>
<rect x="151" y="118.50" width="9.30" height="1.80" fill="#fefbfb"/>
<rect x="160" y="118.50" width="8.30" height="1.80" fill="#ee7c7f"/>
<rect x="168" y="118.50" width="8.30" height="1.80" fill="#c4c4e7"/>
<rect x="176" y="118.50" width="9.30" height="1.80" fill="#b8b8e2"/>
<rect x="185" y="118.50" width="8.30" height="1.80" fill="#9393d3"/>
<rect x="193" y="118.50" width="9.30" height="1.80" fill="#b2b2df"/>
<rect x="202" y="118.50" width="8.30" height="1.80" fill="#8080cb"/>
<rect x="143" y="120.00" width="8.30" height="1.80" fill="#ee7f82"/>
<rect x="151" y="120.00" width="9.30" height="1.80" fill="#dcdcf1"/>
<rect x="160" y="120.00" width="8.30" height="1.80" fill="#ef888b"/>
<rect x="168" y="120.00" width="8.30" height="1.80" fill="#f8f8fc"/>
<rect x="176" y="120.00" width="9.30" height="1.80" fill="#e3e3f3"/>
<rect x="185" y="120.00" width="8.30" height="1.80" fill="#c3c3e6"/>
<rect x="193" y="120.00" width="9.30" height="1.80" fill="#d4d4ed"/>
<rect x="202" y="120.00" width="8.30" height="1.80" fill="#acacdd"/>
<rect x="143" y="121.50" width="8.30" height="1.80" fill="#ec7073"/>
<rect x="151" y="121.50" width="9.30" height="1.80" fill="#eeeef8"/>
<rect x="160" y="121.50" width="8.30" height="1.80" fill="#ea6367"/>
<rect x="168" y="121.50" width="8.30" height="1.80" fill="#c2c2e6"/>
<rect x="176" y="121.50" width="9.30" height="1.80" fill="#d5d5ee"/>
<rect x="185" y="121.50" width="8.30" height="1.80" fill="#bebee4"/>
<rect x="193" y="121.50" width="9.30" height="1.80" fill="#b4b4e0"/>
<rect x="202" y="121.50" width="8.30" height="1.80" fill="#9b9bd6"/>
<rect x="143" y="123.00" width="8.30" height="1.80" fill="#f29da0"/>
<rect x="151" y="123.00" width="9.30" height="1.80" fill="#fdf2f3"/>
<rect x="160" y="123.00" width="8.30" height="1.80" fill="#e74a4f"/>
<rect x="168" y="123.00" width="8.30" height="1.80" fill="#cbcbea"/>
<rect x="176" y="123.00" width="9.30" height="1.80" fill="#b0b0de"/>
<rect x="185" y="123.00" width="8.30" height="1.80" fill="#9999d5"/>
<rect x="193" y="123.00" width="9.30" height="1.80" fill="#b9b9e2"/>
<rect x="202" y="123.00" width="8.30" height="1.80" fill="#a3a3d9"/>
<rect x="143" y="124.50" width="8.30" height="1.80" fill="#fbdedf"/>
<rect x="151" y="124.50" width="9.30" height="1.80" fill="#e8e8f6"/>
<rect x="160" y="124.50" width="8.30" height="1.80" fill="#ea5d61"/>
<rect x="168" y="124.50" width="8.30" height="1.80" fill="#fffcfc"/>
<rect x="176" y="124.50" width="9.30" height="1.80" fill="#c2c2e6"/>
<rect x="185" y="124.50" width="8.30" height="1.80" fill="#b8b8e2"/>
<rect x="193" y="124.50" width="9.30" height="1.80" fill="#e4e4f4"/>
<rect x="202" y="124.50" width="8.30" height="1.80" fill="#d2d2ec"/>
<rect x="143" y="126.00" width="8.30" height="1.80" fill="#f4a8aa"/>
<rect x="151" y="126.00" width="9.30" height="1.80" fill="#fce5e5"/>
<rect x="160" y="126.00" width="8.30" height="1.80" fill="#e3272d"/>
<rect x="168" y="126.00" width="8.30" height="1.80" fill="#e8e8f6"/>
<rect x="176" y="126.00" width="9.30" height="1.80" fill="#b9b9e2"/>
<rect x="185" y="126.00" width="8.30" height="1.80" fill="#a8a8db"/>
<rect x="193" y="126.00" width="9.30" height="1.80" fill="#d4d4ed"/>
<rect x="202" y="126.00" width="8.30" height="1.80" fill="#dbdbf0"/>
<rect x="143" y="127.50" width="8.30" height="1.80" fill="#f6b7b9"/>
<rect x="151" y="127.50" width="9.30" height="1.80" fill="#fef8f8"/>
<rect x="160" y="127.50" width="8.30" height="1.80" fill="#eb686c"/>
<rect x="168" y="127.50" width="8.30" height="1.80" fill="#f1f1f9"/>
<rect x="176" y="127.50" width="9.30" height="1.80" fill="#bbbbe3"/>
<rect x="185" y="127.50" width="8.30" height="1.80" fill="#cdcdeb"/>
<rect x="193" y="127.50" width="9.30" height="1.80" fill="#d8d8ef"/>
<rect x="202" y="127.50" width="8.30" height="1.80" fill="#ededf7"/>
<rect x="143" y="129.00" width="8.30" height="1.80" fill="#ef8285"/>
<rect x="151" y="129.00" width="9.30" height="1.80" fill="#fefbfb"/>
<rect x="160" y="129.00" width="8.30" height="1.80" fill="#ea6064"/>
<rect x="168" y="129.00" width="8.30" height="1.80" fill="#eeeef8"/>
<rect x="176" y="129.00" width="9.30" height="1.80" fill="#c1c1e6"/>
<rect x="185" y="129.00" width="8.30" height="1.80" fill="#c0c0e5"/>
<rect x="193" y="129.00" width="9.30" height="1.80" fill="#eeeef8"/>
<rect x="202" y="129.00" width="8.30" height="1.80" fill="#f6f6fb"/>
<rect x="143" y="130.50" width="8.30" height="1.80" fill="#f19194"/>
<rect x="151" y="130.50" width="9.30" height="1.80" fill="#e8e8f5"/>
<rect x="160" y="130.50" width="8.30" height="1.80" fill="#ea6467"/>
<rect x="168" y="130.50" width="8.30" height="1.80" fill="#ccccea"/>
<rect x="176" y="130.50" width="9.30" height="1.80" fill="#ababdc"/>
<rect x="185" y="130.50" width="8.30" height="1.80" fill="#9696d4"/>
<rect x="193" y="130.50" width="9.30" height="1.80" fill="#e4e4f4"/>
<rect x="202" y="130.50" width="8.30" height="1.80" fill="#c2c2e6"/>
<rect x="143" y="132.00" width="8.30" height="1.80" fill="#ee7b7f"/>
<rect x="151" y="132.00" width="9.30" height="1.80" fill="#efeff8"/>
<rect x="160" y="132.00" width="8.30" height="1.80" fill="#e85156"/>
<rect x="168" y="132.00" width="8.30" height="1.80" fill="#e2e2f3"/>
<rect x="176" y="132.00" width="9.30" height="1.80" fill="#b0b0de"/>
<rect x="185" y="132.00" width="8.30" height="1.80" fill="#7a7ac8"/>
<rect x="193" y="132.00" width="9.30" height="1.80" fill="#bdbde4"/>
<rect x="202" y="132.00" width="8.30" height="1.80" fill="#ceceeb"/>
<rect x="143" y="133.50" width="8.30" height="1.80" fill="#ef8487"/>
<rect x="151" y="133.50" width="9.30" height="1.80" fill="#dfdff2"/>
<rect x="160" y="133.50" width="8.30" height="1.80" fill="#ea5d61"/>
<rect x="168" y="133.50" width="8.30" height="1.80" fill="#fdf1f1"/>
<rect x="176" y="133.50" width="9.30" height="1.80" fill="#afafde"/>
<rect x="185" y="133.50" width="8.30" height="1.80" fill="#ceceeb"/>
<rect x="193" y="133.50" width="9.30" height="1.80" fill="#e0e0f2"/>
<rect x="202" y="133.50" width="8.30" height="1.80" fill="#eeeef8"/>
<rect x="143" y="135.00" width="8.30" height="1.80" fill="#a4a4d9"/>
<rect x="151" y="135.00" width="9.30" height="1.80" fill="#c7c7e8"/>
<rect x="160" y="135.00" width="8.30" height="1.80" fill="#d2d2ec"/>
<rect x="168" y="135.00" width="8.30" height="1.80" fill="#fdf2f2"/>
<rect x="176" y="135.00" width="9.30" height="1.80" fill="#f9d2d4"/>
<rect x="185" y="135.00" width="8.30" height="1.80" fill="#fad6d7"/>
<rect x="193" y="135.00" width="9.30" height="1.80" fill="#fdf0f1"/>
<rect x="202" y="135.00" width="8.30" height="1.80" fill="#f7c5c7"/>
<rect x="143" y="136.50" width="8.30" height="1.80" fill="#6b6bc2"/>
<rect x="151" y="136.50" width="9.30" height="1.80" fill="#8585cd"/>
<rect x="160" y="136.50" width="8.30" height="1.80" fill="#c3c3e6"/>
<rect x="168" y="136.50" width="8.30" height="1.80" fill="#fdeded"/>
<rect x="176" y="136.50" width="9.30" height="1.80" fill="#f7c2c4"/>
<rect x="185" y="136.50" width="8.30" height="1.80" fill="#f6bebf"/>
<rect x="193" y="136.50" width="9.30" height="1.80" fill="#f7c4c5"/>
<rect x="202" y="136.50" width="8.30" height="1.80" fill="#fce8e8"/>
<rect x="143" y="138.00" width="8.30" height="1.80" fill="#8383cc"/>
<rect x="151" y="138.00" width="9.30" height="1.80" fill="#8888ce"/>
<rect x="160" y="138.00" width="8.30" height="1.80" fill="#b8b8e2"/>
<rect x="168" y="138.00" width="8.30" height="1.80" fill="#fce7e8"/>
<rect x="176" y="138.00" width="9.30" height="1.80" fill="#f6b9bb"/>
<rect x="185" y="138.00" width="8.30" height="1.80" fill="#fce8e9"/>
<rect x="193" y="138.00" width="9.30" height="1.80" fill="#f6bdbe"/>
<rect x="202" y="138.00" width="8.30" height="1.80" fill="#f9d2d3"/>
<rect x="143" y="139.50" width="8.30" height="1.80" fill="#7c7cc9"/>
<rect x="151" y="139.50" width="9.30" height="1.80" fill="#9393d3"/>
<rect x="160" y="139.50" width="8.30" height="1.80" fill="#cfcfeb"/>
<rect x="168" y="139.50" width="8.30" height="1.80" fill="#fce7e7"/>
<rect x="176" y="139.50" width="9.30" height="1.80" fill="#f4aaac"/>
<rect x="185" y="139.50" width="8.30" height="1.80" fill="#f7c1c3"/>
<rect x="193" y="139.50" width="9.30" height="1.80" fill="#f3a3a6"/>
<rect x="202" y="139.50" width="8.30" height="1.80" fill="#f5b5b7"/>
<rect x="143" y="141.00" width="8.30" height="1.80" fill="#8080cb"/>
<rect x="151" y="141.00" width="9.30" height="1.80" fill="#9797d4"/>
<rect x="160" y="141.00" width="8.30" height="1.80" fill="#d5d5ee"/>
<rect x="168" y="141.00" width="8.30" height="1.80" fill="#fefbfb"/>
<rect x="176" y="141.00" width="9.30" height="1.80" fill="#f4a9ac"/>
<rect x="185" y="141.00" width="8.30" height="1.80" fill="#f9cecf"/>
<rect x="193" y="141.00" width="9.30" height="1.80" fill="#f4aeb0"/>
<rect x="202" y="141.00" width="8.30" height="1.80" fill="#f5b3b5"/>
<rect x="143" y="142.50" width="8.30" height="1.80" fill="#aeaede"/>
<rect x="151" y="142.50" width="9.30" height="1.80" fill="#cdcdea"/>
<rect x="160" y="142.50" width="8.30" height="1.80" fill="#dadaf0"/>
<rect x="168" y="142.50" width="8.30" height="1.80" fill="#eaeaf6"/>
<rect x="176" y="142.50" width="9.30" height="1.80" fill="#f6babc"/>
<rect x="185" y="142.50" width="8.30" height="1.80" fill="#f6b8ba"/>
<rect x="193" y="142.50" width="9.30" height="1.80" fill="#fad8d9"/>
<rect x="202" y="142.50" width="8.30" height="1.80" fill="#fef7f8"/>
<rect x="143" y="144.00" width="8.30" height="1.80" fill="#8181cb"/>
<rect x="151" y="144.00" width="9.30" height="1.80" fill="#b0b0de"/>
<rect x="160" y="144.00" width="8.30" height="1.80" fill="#acacdd"/>
<rect x="168" y="144.00" width="8.30" height="1.80" fill="#fefeff"/>
<rect x="176" y="144.00" width="9.30" height="1.80" fill="#fad6d7"/>
<rect x="185" y="144.00" width="8.30" height="1.80" fill="#f29c9f"/>
<rect x="193" y="144.00" width="9.30" height="1.80" fill="#fbdfe0"/>
<rect x="202" y="144.00" width="8.30" height="1.80" fill="#fdeded"/>
<rect x="143" y="145.50" width="8.30" height="1.80" fill="#7272c5"/>
<rect x="151" y="145.50" width="9.30" height="1.80" fill="#acacdd"/>
<rect x="160" y="145.50" width="8.30" height="1.80" fill="#7474c6"/>
<rect x="168" y="145.50" width="8.30" height="1.80" fill="#f9d4d5"/>
<rect x="176" y="145.50" width="9.30" height="1.80" fill="#fad6d7"/>
<rect x="185" y="145.50" width="8.30" height="1.80" fill="#f08b8e"/>
<rect x="193" y="145.50" width="9.30" height="1.80" fill="#fadbdc"/>
<rect x="202" y="145.50" width="8.30" height="1.80" fill="#f7bfc1"/>
<rect x="143" y="147.00" width="8.30" height="1.80" fill="#6363bf"/>
<rect x="151" y="147.00" width="9.30" height="1.80" fill="#8484cc"/>
<rect x="160" y="147.00" width="8.30" height="1.80" fill="#7070c4"/>
<rect x="168" y="147.00" width="8.30" height="1.80" fill="#fdf0f0"/>
<rect x="176" y="147.00" width="9.30" height="1.80" fill="#fadbdb"/>
<rect x="185" y="147.00" width="8.30" height="1.80" fill="#ef8689"/>
<rect x="193" y="147.00" width="9.30" height="1.80" fill="#f6bebf"/>
<rect x="202" y="147.00" width="8.30" height="1.80" fill="#f6bcbd"/>
<rect x="143" y="148.50" width="8.30" height="1.80" fill="#7979c8"/>
<rect x="151" y="148.50" width="9.30" height="1.80" fill="#7a7ac8"/>
<rect x="160" y="148.50" width="8.30" height="1.80" fill="#9090d1"/>
<rect x="168" y="148.50" width="8.30" height="1.80" fill="#eeeef8"/>
<rect x="176" y="148.50" width="9.30" height="1.80" fill="#fad9da"/>
<rect x="185" y="148.50" width="8.30" height="1.80" fill="#f8cacc"/>
<rect x="193" y="148.50" width="9.30" height="1.80" fill="#fad8d9"/>
<rect x="202" y="148.50" width="8.30" height="1.80" fill="#fceaea"/>
<rect x="143" y="150.00" width="8.30" height="1.80" fill="#9a9ad5"/>
<rect x="151" y="150.00" width="9.30" height="1.80" fill="#b3b3e0"/>
<rect x="160" y="150.00" width="8.30" height="1.80" fill="#9c9cd6"/>
<rect x="168" y="150.00" width="8.30" height="1.80" fill="#fffcfc"/>
<rect x="176" y="150.00" width="9.30" height="1.80" fill="#f6b8b9"/>
<rect x="185" y="150.00" width="8.30" height="1.80" fill="#f9d4d5"/>
<rect x="193" y="150.00" width="9.30" height="1.80" fill="#fceaea"/>
<rect x="202" y="150.00" width="8.30" height="1.80" fill="#fffdfe"/>
<rect x="143" y="151.50" width="8.30" height="1.80" fill="#7777c7"/>
<rect x="151" y="151.50" width="9.30" height="1.80" fill="#b1b1df"/>
<rect x="160" y="151.50" width="8.30" height="1.80" fill="#e3e3f3"/>
<rect x="168" y="151.50" width="8.30" height="1.80" fill="#f9f9fd"/>
<rect x="176" y="151.50" width="9.30" height="1.80" fill="#f9d2d3"/>
<rect x="185" y="151.50" width="8.30" height="1.80" fill="#f9cfd0"/>
<rect x="193" y="151.50" width="9.30" height="1.80" fill="#f8c8c9"/>
<rect x="202" y="151.50" width="8.30" height="1.80" fill="#f9d1d2"/>
<rect x="143" y="153.00" width="8.30" height="1.80" fill="#7c7cc9"/>
<rect x="151" y="153.00" width="9.30" height="1.80" fill="#b2b2df"/>
<rect x="160" y="153.00" width="8.30" height="1.80" fill="#cdcdeb"/>
<rect x="168" y="153.00" width="8.30" height="1.80" fill="#fdeff0"/>
<rect x="176" y="153.00" width="9.30" height="1.80" fill="#f6bfc0"/>
<rect x="185" y="153.00" width="8.30" height="1.80" fill="#fbddde"/>
<rect x="193" y="153.00" width="9.30" height="1.80" fill="#f9d1d2"/>
<rect x="202" y="153.00" width="8.30" height="1.80" fill="#fce8e9"/>
<rect x="143" y="154.50" width="8.30" height="1.80" fill="#b3b3e0"/>
<rect x="151" y="154.50" width="9.30" height="1.80" fill="#b3b3df"/>
<rect x="160" y="154.50" width="8.30" height="1.80" fill="#cfcfeb"/>
<rect x="168" y="154.50" width="8.30" height="1.80" fill="#fce6e6"/>
<rect x="176" y="154.50" width="9.30" height="1.80" fill="#fad6d7"/>
<rect x="185" y="154.50" width="8.30" height="1.80" fill="#f9cfd0"/>
<rect x="193" y="154.50" width="9.30" height="1.80" fill="#fad8d9"/>
<rect x="202" y="154.50" width="8.30" height="1.80" fill="#f7c2c4"/>
<rect x="143" y="156.00" width="8.30" height="1.80" fill="#c0c0e5"/>
<rect x="151" y="156.00" width="9.30" height="1.80" fill="#d1d1ec"/>
<rect x="160" y="156.00" width="8.30" height="1.80" fill="#bbbbe3"/>
<rect x="168" y="156.00" width="8.30" height="1.80" fill="#fefafa"/>
<rect x="176" y="156.00" width="9.30" height="1.80" fill="#fef6f6"/>
<rect x="185" y="156.00" width="8.30" height="1.80" fill="#fbe1e2"/>
<rect x="193" y="156.00" width="9.30" height="1.80" fill="#fdf1f1"/>
<rect x="202" y="156.00" width="8.30" height="1.80" fill="#fbdfe0"/>
<rect x="143" y="157.50" width="8.30" height="1.80" fill="#9a9ad5"/>
<rect x="151" y="157.50" width="9.30" height="1.80" fill="#9c9cd6"/>
<rect x="160" y="157.50" width="8.30" height="1.80" fill="#9090d1"/>
<rect x="168" y="157.50" width="8.30" height="1.80" fill="#ffffff"/>
<rect x="176" y="157.50" width="9.30" height="1.80" fill="#fbe1e2"/>
<rect x="185" y="157.50" width="8.30" height="1.80" fill="#f3a1a4"/>
<rect x="193" y="157.50" width="9.30" height="1.80" fill="#f5b2b4"/>
<rect x="202" y="157.50" width="8.30" height="1.80" fill="#f8cdce"/>
<rect x="143" y="159.00" width="8.30" height="1.80" fill="#ababdd"/>
<rect x="151" y="159.00" width="9.30" height="1.80" fill="#b9b9e2"/>
<rect x="160" y="159.00" width="8.30" height="1.80" fill="#8d8dd0"/>
<rect x="168" y="159.00" width="8.30" height="1.80" fill="#fef8f8"/>
<rect x="176" y="159.00" width="9.30" height="1.80" fill="#f8c8ca"/>
<rect x="185" y="159.00" width="8.30" height="1.80" fill="#fbfbfd"/>
<rect x="193" y="159.00" width="9.30" height="1.80" fill="#f29a9d"/>
<rect x="202" y="159.00" width="8.30" height="1.80" fill="#fdeff0"/>
<rect x="143" y="160.50" width="8.30" height="1.80" fill="#7f7fca"/>
<rect x="151" y="160.50" width="9.30" height="1.80" fill="#9898d4"/>
<rect x="160" y="160.50" width="8.30" height="1.80" fill="#8686cd"/>
<rect x="168" y="160.50" width="8.30" height="1.80" fill="#fcebeb"/>
<rect x="176" y="160.50" width="9.30" height="1.80" fill="#f5b5b7"/>
<rect x="185" y="160.50" width="8.30" height="1.80" fill="#fce6e7"/>
<rect x="193" y="160.50" width="9.30" height="1.80" fill="#f3a1a4"/>
<rect x="202" y="160.50" width="8.30" height="1.80" fill="#fbe4e5"/>
<rect x="143" y="162.00" width="8.30" height="1.80" fill="#a1a1d8"/>
<rect x="151" y="162.00" width="9.30" height="1.80" fill="#b4b4e0"/>
<rect x="160" y="162.00" width="8.30" height="1.80" fill="#6f6fc4"/>
<rect x="168" y="162.00" width="8.30" height="1.80" fill="#fbe1e2"/>
<rect x="176" y="162.00" width="9.30" height="1.80" fill="#f29fa1"/>
<rect x="185" y="162.00" width="8.30" height="1.80" fill="#fce9e9"/>
<rect x="193" y="162.00" width="9.30" height="1.80" fill="#f9d2d4"/>
<rect x="202" y="162.00" width="8.30" height="1.80" fill="#f8cdcf"/>
<rect x="143" y="163.50" width="8.30" height="1.80" fill="#7676c6"/>
<rect x="151" y="163.50" width="9.30" height="1.80" fill="#b7b7e1"/>
<rect x="160" y="163.50" width="8.30" height="1.80" fill="#b1b1df"/>
<rect x="168" y="163.50" width="8.30" height="1.80" fill="#fef7f7"/>
<rect x="176" y="163.50" width="9.30" height="1.80" fill="#f8cacb"/>
<rect x="185" y="163.50" width="8.30" height="1.80" fill="#fce6e7"/>
<rect x="193" y="163.50" width="9.30" height="1.80" fill="#f8cccd"/>
<rect x="202" y="163.50" width="8.30" height="1.80" fill="#fef6f6"/>
<rect x="143" y="165.00" width="8.30" height="1.80" fill="#8484cc"/>
<rect x="151" y="165.00" width="9.30" height="1.80" fill="#7979c8"/>
<rect x="160" y="165.00" width="8.30" height="1.80" fill="#8e8ed0"/>
<rect x="168" y="165.00" width="8.30" height="1.80" fill="#f9d3d5"/>
<rect x="176" y="165.00" width="9.30" height="1.80" fill="#f4abae"/>
<rect x="185" y="165.00" width="8.30" height="1.80" fill="#f6bec0"/>
<rect x="193" y="165.00" width="9.30" height="1.80" fill="#f7bfc1"/>
<rect x="202" y="165.00" width="8.30" height="1.80" fill="#f5b3b5"/>
<rect x="143" y="166.50" width="8.30" height="1.80" fill="#8b8bcf"/>
<rect x="151" y="166.50" width="9.30" height="1.80" fill="#7e7eca"/>
<rect x="160" y="166.50" width="8.30" height="1.80" fill="#c2c2e6"/>
<rect x="168" y="166.50" width="8.30" height="1.80" fill="#f4f4fb"/>
<rect x="176" y="166.50" width="9.30" height="1.80" fill="#f5b1b3"/>
<rect x="185" y="166.50" width="8.30" height="1.80" fill="#f7c2c4"/>
<rect x="193" y="166.50" width="9.30" height="1.80" fill="#f8cacb"/>
<rect x="202" y="166.50" width="8.30" height="1.80" fill="#fdeff0"/>
<rect x="143" y="168.00" width="8.30" height="1.80" fill="#5858ba"/>
<rect x="151" y="168.00" width="9.30" height="1.80" fill="#9696d4"/>
<rect x="160" y="168.00" width="8.30" height="1.80" fill="#5b5bbb"/>
<rect x="168" y="168.00" width="8.30" height="1.80" fill="#fdeeef"/>
<rect x="176" y="168.00" width="9.30" height="1.80" fill="#f3a5a7"/>
<rect x="185" y="168.00" width="8.30" height="1.80" fill="#f3a7a9"/>
<rect x="193" y="168.00" width="9.30" height="1.80" fill="#f4a8ab"/>
<rect x="202" y="168.00" width="8.30" height="1.80" fill="#fdeded"/>
<rect x="143" y="169.50" width="8.30" height="1.80" fill="#babae2"/>
<rect x="151" y="169.50" width="9.30" height="1.80" fill="#aeaede"/>
<rect x="160" y="169.50" width="8.30" height="1.80" fill="#8989cf"/>
<rect x="168" y="169.50" width="8.30" height="1.80" fill="#fefafb"/>
<rect x="176" y="169.50" width="9.30" height="1.80" fill="#f6babb"/>
<rect x="185" y="169.50" width="8.30" height="1.80" fill="#f9ced0"/>
<rect x="193" y="169.50" width="9.30" height="1.80" fill="#f9cecf"/>
<rect x="202" y="169.50" width="8.30" height="1.80" fill="#fef5f5"/>
<rect x="143" y="171.00" width="8.30" height="1.80" fill="#8484cc"/>
<rect x="151" y="171.00" width="9.30" height="1.80" fill="#9d9dd7"/>
<rect x="160" y="171.00" width="8.30" height="1.80" fill="#9090d1"/>
<rect x="168" y="171.00" width="8.30" height="1.80" fill="#fadadb"/>
<rect x="176" y="171.00" width="9.30" height="1.80" fill="#f7c6c7"/>
<rect x="185" y="171.00" width="8.30" height="1.80" fill="#f5b1b3"/>
<rect x="193" y="171.00" width="9.30" height="1.80" fill="#f5b0b2"/>
<rect x="202" y="171.00" width="8.30" height="1.80" fill="#fad8d9"/>
<rect x="143" y="172.50" width="8.30" height="1.80" fill="#b4b4e0"/>
<rect x="151" y="172.50" width="9.30" height="1.80" fill="#a1a1d8"/>
<rect x="160" y="172.50" width="8.30" height="1.80" fill="#9292d2"/>
<rect x="168" y="172.50" width="8.30" height="1.80" fill="#fce6e6"/>
<rect x="176" y="172.50" width="9.30" height="1.80" fill="#fad9da"/>
<rect x="185" y="172.50" width="8.30" height="1.80" fill="#f3a3a5"/>
<rect x="193" y="172.50" width="9.30" height="1.80" fill="#f2a0a2"/>
<rect x="202" y="172.50" width="8.30" height="1.80" fill="#f7c1c3"/>
<rect x="143" y="174.00" width="8.30" height="1.80" fill="#d1d1ec"/>
<rect x="151" y="174.00" width="9.30" height="1.80" fill="#afafde"/>
<rect x="160" y="174.00" width="8.30" height="1.80" fill="#bcbce4"/>
<rect x="168" y="174.00" width="8.30" height="1.80" fill="#fdeced"/>
<rect x="176" y="174.00" width="9.30" height="1.80" fill="#fdefef"/>
<rect x="185" y="174.00" width="8.30" height="1.80" fill="#fdf2f2"/>
<rect x="193" y="174.00" width="9.30" height="1.80" fill="#f6bec0"/>
<rect x="202" y="174.00" width="8.30" height="1.80" fill="#fce5e6"/>
<rect x="143" y="175.50" width="8.30" height="1.80" fill="#e6e6f5"/>
<rect x="151" y="175.50" width="9.30" height="1.80" fill="#a4a4d9"/>
<rect x="160" y="175.50" width="8.30" height="1.80" fill="#bbbbe3"/>
<rect x="168" y="175.50" width="8.30" height="1.80" fill="#fef8f8"/>
<rect x="176" y="175.50" width="9.30" height="1.80" fill="#fdf1f2"/>
<rect x="185" y="175.50" width="8.30" height="1.80" fill="#fce5e6"/>
<rect x="193" y="175.50" width="9.30" height="1.80" fill="#f9cfd0"/>
<rect x="202" y="175.50" width="8.30" height="1.80" fill="#fce8e8"/>
<rect x="143" y="177.00" width="8.30" height="1.80" fill="#bbbbe3"/>
<rect x="151" y="177.00" width="9.30" height="1.80" fill="#bcbce3"/>
<rect x="160" y="177.00" width="8.30" height="1.80" fill="#c7c7e8"/>
<rect x="168" y="177.00" width="8.30" height="1.80" fill="#fdf2f2"/>
<rect x="176" y="177.00" width="9.30" height="1.80" fill="#f5b0b2"/>
<rect x="185" y="177.00" width="8.30" height="1.80" fill="#f2f2fa"/>
<rect x="193" y="177.00" width="9.30" height="1.80" fill="#fce9e9"/>
<rect x="202" y="177.00" width="8.30" height="1.80" fill="#fef8f8"/>
<rect x="143" y="178.50" width="8.30" height="1.80" fill="#babae3"/>
<rect x="151" y="178.50" width="9.30" height="1.80" fill="#ababdc"/>
<rect x="160" y="178.50" width="8.30" height="1.80" fill="#7272c5"/>
<rect x="168" y="178.50" width="8.30" height="1.80" fill="#f7c0c2"/>
<rect x="176" y="178.50" width="9.30" height="1.80" fill="#f6b8ba"/>
<rect x="185" y="178.50" width="8.30" height="1.80" fill="#fefafa"/>
<rect x="193" y="178.50" width="9.30" height="1.80" fill="#f7bfc0"/>
<rect x="202" y="178.50" width="8.30" height="1.80" fill="#fceaeb"/>
<rect x="143" y="180.00" width="8.30" height="1.80" fill="#d8d8ef"/>
<rect x="151" y="180.00" width="9.30" height="1.80" fill="#d3d3ed"/>
<rect x="160" y="180.00" width="8.30" height="1.80" fill="#7373c5"/>
<rect x="168" y="180.00" width="8.30" height="1.80" fill="#fadbdc"/>
<rect x="176" y="180.00" width="9.30" height="1.80" fill="#f29c9e"/>
<rect x="185" y="180.00" width="8.30" height="1.80" fill="#fbe0e1"/>
<rect x="193" y="180.00" width="9.30" height="1.80" fill="#fbdfe0"/>
<rect x="202" y="180.00" width="8.30" height="1.80" fill="#dedef1"/>
<rect x="143" y="181.50" width="8.30" height="1.80" fill="#bcbce3"/>
<rect x="151" y="181.50" width="9.30" height="1.80" fill="#c9c9e9"/>
<rect x="160" y="181.50" width="8.30" height="1.80" fill="#4949b4"/>
<rect x="168" y="181.50" width="8.30" height="1.80" fill="#fadbdc"/>
<rect x="176" y="181.50" width="9.30" height="1.80" fill="#f4aeb0"/>
<rect x="185" y="181.50" width="8.30" height="1.80" fill="#f9d4d5"/>
<rect x="193" y="181.50" width="9.30" height="1.80" fill="#fbdfdf"/>
<rect x="202" y="181.50" width="8.30" height="1.80" fill="#fdf2f3"/>
<rect x="143" y="183.00" width="8.30" height="1.80" fill="#9b9bd6"/>
<rect x="151" y="183.00" width="9.30" height="1.80" fill="#e3e3f3"/>
<rect x="160" y="183.00" width="8.30" height="1.80" fill="#7373c5"/>
<rect x="168" y="183.00" width="8.30" height="1.80" fill="#fdeded"/>
<rect x="176" y="183.00" width="9.30" height="1.80" fill="#f4aaad"/>
<rect x="185" y="183.00" width="8.30" height="1.80" fill="#f6bec0"/>
<rect x="193" y="183.00" width="9.30" height="1.80" fill="#fbe0e1"/>
<rect x="202" y="183.00" width="8.30" height="1.80" fill="#fadbdc"/>
<rect x="143" y="184.50" width="8.30" height="1.80" fill="#fef6f6"/>
<rect x="151" y="184.50" width="9.30" height="1.80" fill="#fce8e8"/>
<rect x="160" y="184.50" width="8.30" height="1.80" fill="#afafde"/>
<rect x="168" y="184.50" width="8.30" height="1.80" fill="#fdf2f2"/>
<rect x="176" y="184.50" width="9.30" height="1.80" fill="#f7c4c5"/>
<rect x="185" y="184.50" width="8.30" height="1.80" fill="#fef6f6"/>
<rect x="193" y="184.50" width="9.30" height="1.80" fill="#e8e8f6"/>
<rect x="202" y="184.50" width="8.30" height="1.80" fill="#fef5f5"/>
<rect x="143" y="186.00" width="8.30" height="1.80" fill="#c9c9e9"/>
<rect x="151" y="186.00" width="9.30" height="1.80" fill="#fef7f7"/>
<rect x="160" y="186.00" width="8.30" height="1.80" fill="#9292d2"/>
<rect x="168" y="186.00" width="8.30" height="1.80" fill="#f8cacb"/>
<rect x="176" y="186.00" width="9.30" height="1.80" fill="#f8cacb"/>
<rect x="185" y="186.00" width="8.30" height="1.80" fill="#f9d3d4"/>
<rect x="193" y="186.00" width="9.30" height="1.80" fill="#fadbdc"/>
<rect x="202" y="186.00" width="8.30" height="1.80" fill="#fce9ea"/>
<rect x="143" y="187.50" width="8.30" height="1.80" fill="#a3a3d9"/>
<rect x="151" y="187.50" width="9.30" height="1.80" fill="#fcfcfe"/>
<rect x="160" y="187.50" width="8.30" height="1.80" fill="#7f7fca"/>
<rect x="168" y="187.50" width="8.30" height="1.80" fill="#fad5d6"/>
<rect x="176" y="187.50" width="9.30" height="1.80" fill="#f5b5b6"/>
<rect x="185" y="187.50" width="8.30" height="1.80" fill="#fbe0e1"/>
<rect x="193" y="187.50" width="9.30" height="1.80" fill="#f9d4d5"/>
<rect x="202" y="187.50" width="8.30" height="1.80" fill="#fbddde"/>
<rect x="143" y="189.00" width="8.30" height="1.80" fill="#8d8dd0"/>
<rect x="151" y="189.00" width="9.30" height="1.80" fill="#e4e4f4"/>
<rect x="160" y="189.00" width="8.30" height="1.80" fill="#8181cb"/>
<rect x="168" y="189.00" width="8.30" height="1.80" fill="#fef7f8"/>
<rect x="176" y="189.00" width="9.30" height="1.80" fill="#f6b9bb"/>
<rect x="185" y="189.00" width="8.30" height="1.80" fill="#f8cdce"/>
<rect x="193" y="189.00" width="9.30" height="1.80" fill="#f9d4d5"/>
<rect x="202" y="189.00" width="8.30" height="1.80" fill="#fbe0e1"/>
<rect x="143" y="190.50" width="8.30" height="1.80" fill="#8c8cd0"/>
<rect x="151" y="190.50" width="9.30" height="1.80" fill="#c6c6e8"/>
<rect x="160" y="190.50" width="8.30" height="1.80" fill="#b2b2df"/>
<rect x="168" y="190.50" width="8.30" height="1.80" fill="#fbe1e1"/>
<rect x="176" y="190.50" width="9.30" height="1.80" fill="#fad8d9"/>
<rect x="185" y="190.50" width="8.30" height="1.80" fill="#f3a7a9"/>
<rect x="193" y="190.50" width="9.30" height="1.80" fill="#f5b1b3"/>
<rect x="202" y="190.50" width="8.30" height="1.80" fill="#f9d5d6"/>
<rect x="143" y="192.00" width="8.30" height="1.80" fill="#8383cc"/>
<rect x="151" y="192.00" width="9.30" height="1.80" fill="#aaaadc"/>
<rect x="160" y="192.00" width="8.30" height="1.80" fill="#c7c7e8"/>
<rect x="168" y="192.00" width="8.30" height="1.80" fill="#f7c1c2"/>
<rect x="176" y="192.00" width="9.30" height="1.80" fill="#f5b6b8"/>
<rect x="185" y="192.00" width="8.30" height="1.80" fill="#ec7074"/>
<rect x="193" y="192.00" width="9.30" height="1.80" fill="#f9cfd0"/>
<rect x="202" y="192.00" width="8.30" height="1.80" fill="#f5b0b2"/>
<rect x="143" y="193.50" width="8.30" height="1.80" fill="#a5a5da"/>
<rect x="151" y="193.50" width="9.30" height="1.80" fill="#adaddd"/>
<rect x="160" y="193.50" width="8.30" height="1.80" fill="#cbcbea"/>
<rect x="168" y="193.50" width="8.30" height="1.80" fill="#f8cccd"/>
<rect x="176" y="193.50" width="9.30" height="1.80" fill="#f7c4c6"/>
<rect x="185" y="193.50" width="8.30" height="1.80" fill="#ef8285"/>
<rect x="193" y="193.50" width="9.30" height="1.80" fill="#fbe1e2"/>
<rect x="202" y="193.50" width="8.30" height="1.80" fill="#fef9f9"/>
<rect x="143" y="195.00" width="8.30" height="1.80" fill="#dcdcf1"/>
<rect x="151" y="195.00" width="9.30" height="1.80" fill="#b5b5e0"/>
<rect x="160" y="195.00" width="8.30" height="1.80" fill="#e6e6f5"/>
<rect x="168" y="195.00" width="8.30" height="1.80" fill="#f9cfd0"/>
<rect x="176" y="195.00" width="9.30" height="1.80" fill="#f7c5c6"/>
<rect x="185" y="195.00" width="8.30" height="1.80" fill="#f6b8ba"/>
<rect x="193" y="195.00" width="9.30" height="1.80" fill="#fadadb"/>
<rect x="202" y="195.00" width="8.30" height="1.80" fill="#fdf0f0"/>
<rect x="143" y="196.50" width="8.30" height="1.80" fill="#b4b4e0"/>
<rect x="151" y="196.50" width="9.30" height="1.80" fill="#a4a4d9"/>
<rect x="160" y="196.50" width="8.30" height="1.80" fill="#9f9fd7"/>
<rect x="168" y="196.50" width="8.30" height="1.80" fill="#fffefe"/>
<rect x="176" y="196.50" width="9.30" height="1.80" fill="#f3a4a6"/>
<rect x="185" y="196.50" width="8.30" height="1.80" fill="#f8c6c8"/>
<rect x="193" y="196.50" width="9.30" height="1.80" fill="#f7c2c3"/>
<rect x="202" y="196.50" width="8.30" height="1.80" fill="#ffffff"/>
<rect x="143" y="198.00" width="8.30" height="1.80" fill="#acacdd"/>
<rect x="151" y="198.00" width="9.30" height="1.80" fill="#cacae9"/>
<rect x="160" y="198.00" width="8.30" height="1.80" fill="#6464bf"/>
<rect x="168" y="198.00" width="8.30" height="1.80" fill="#ffffff"/>
<rect x="176" y="198.00" width="9.30" height="1.80" fill="#f6b8ba"/>
<rect x="185" y="198.00" width="8.30" height="1.80" fill="#f9d5d6"/>
<rect x="193" y="198.00" width="9.30" height="1.80" fill="#fad9da"/>
<rect x="202" y="198.00" width="8.30" height="1.80" fill="#fdf2f3"/>
<rect x="143" y="199.50" width="8.30" height="1.80" fill="#c5c5e7"/>
<rect x="151" y="199.50" width="9.30" height="1.80" fill="#c5c5e7"/>
<rect x="160" y="199.50" width="8.30" height="1.80" fill="#6767c0"/>
<rect x="168" y="199.50" width="8.30" height="1.80" fill="#fad6d7"/>
<rect x="176" y="199.50" width="9.30" height="1.80" fill="#f4aeb0"/>
<rect x="185" y="199.50" width="8.30" height="1.80" fill="#f6bcbd"/>
<rect x="193" y="199.50" width="9.30" height="1.80" fill="#f6bdbf"/>
<rect x="202" y="199.50" width="8.30" height="1.80" fill="#f7c2c3"/>
<rect x="143" y="201.00" width="8.30" height="1.80" fill="#a4a4da"/>
<rect x="151" y="201.00" width="9.30" height="1.80" fill="#c1c1e5"/>
<rect x="160" y="201.00" width="8.30" height="1.80" fill="#7777c7"/>
<rect x="168" y="201.00" width="8.30" height="1.80" fill="#fbfbfe"/>
<rect x="176" y="201.00" width="9.30" height="1.80" fill="#f6b7b9"/>
<rect x="185" y="201.00" width="8.30" height="1.80" fill="#f2999c"/>
<rect x="193" y="201.00" width="9.30" height="1.80" fill="#f8cdce"/>
<rect x="202" y="201.00" width="8.30" height="1.80" fill="#fdf2f3"/>
<rect x="143" y="202.50" width="8.30" height="1.80" fill="#a3a3d9"/>
<rect x="151" y="202.50" width="9.30" height="1.80" fill="#7979c8"/>
<rect x="160" y="202.50" width="8.30" height="1.80" fill="#6262be"/>
<rect x="168" y="202.50" width="8.30" height="1.80" fill="#f9d3d4"/>
<rect x="176" y="202.50" width="9.30" height="1.80" fill="#f7c2c4"/>
<rect x="185" y="202.50" width="8.30" height="1.80" fill="#ee8083"/>
<rect x="193" y="202.50" width="9.30" height="1.80" fill="#f29b9e"/>
<rect x="202" y="202.50" width="8.30" height="1.80" fill="#fad9da"/>
<rect x="143" y="204.00" width="8.30" height="1.80" fill="#eeeef8"/>
<rect x="151" y="204.00" width="9.30" height="1.80" fill="#a2a2d9"/>
<rect x="160" y="204.00" width="8.30" height="1.80" fill="#9797d4"/>
<rect x="168" y="204.00" width="8.30" height="1.80" fill="#f8c8ca"/>
<rect x="176" y="204.00" width="9.30" height="1.80" fill="#f6bec0"/>
<rect x="185" y="204.00" width="8.30" height="1.80" fill="#fce8e9"/>
<rect x="193" y="204.00" width="9.30" height="1.80" fill="#f4a8aa"/>
<rect x="202" y="204.00" width="8.30" height="1.80" fill="#fefafb"/>
<rect x="143" y="205.50" width="8.30" height="1.80" fill="#8787ce"/>
<rect x="151" y="205.50" width="9.30" height="1.80" fill="#8b8bcf"/>
<rect x="160" y="205.50" width="8.30" height="1.80" fill="#d8d8ef"/>
<rect x="168" y="205.50" width="8.30" height="1.80" fill="#f6b8ba"/>
<rect x="176" y="205.50" width="9.30" height="1.80" fill="#f9d3d5"/>
<rect x="185" y="205.50" width="8.30" height="1.80" fill="#fbe4e4"/>
<rect x="193" y="205.50" width="9.30" height="1.80" fill="#f1999b"/>
<rect x="202" y="205.50" width="8.30" height="1.80" fill="#f8c8c9"/>
<rect x="143" y="207.00" width="8.30" height="1.80" fill="#6a6ac1"/>
<rect x="151" y="207.00" width="9.30" height="1.80" fill="#8080cb"/>
<rect x="160" y="207.00" width="8.30" height="1.80" fill="#b0b0df"/>
<rect x="168" y="207.00" width="8.30" height="1.80" fill="#f6b7b9"/>
<rect x="176" y="207.00" width="9.30" height="1.80" fill="#fdefef"/>
<rect x="185" y="207.00" width="8.30" height="1.80" fill="#fef7f7"/>
<rect x="193" y="207.00" width="9.30" height="1.80" fill="#ee7d80"/>
<rect x="202" y="207.00" width="8.30" height="1.80" fill="#fce6e7"/>
<rect x="143" y="208.50" width="8.30" height="1.80" fill="#5555b9"/>
<rect x="151" y="208.50" width="9.30" height="1.80" fill="#7575c6"/>
<rect x="160" y="208.50" width="8.30" height="1.80" fill="#a8a8db"/>
<rect x="168" y="208.50" width="8.30" height="1.80" fill="#f9d0d1"/>
<rect x="176" y="208.50" width="9.30" height="1.80" fill="#f9d3d4"/>
<rect x="185" y="208.50" width="8.30" height="1.80" fill="#f9cfd0"/>
<rect x="193" y="208.50" width="9.30" height="1.80" fill="#f29a9d"/>
<rect x="202" y="208.50" width="8.30" height="1.80" fill="#fafafd"/>
<rect x="143" y="210.00" width="8.30" height="1.80" fill="#16169f"/>
<rect x="151" y="210.00" width="9.30" height="1.80" fill="#3f3fb0"/>
<rect x="160" y="210.00" width="8.30" height="1.80" fill="#9191d2"/>
<rect x="168" y="210.00" width="8.30" height="1.80" fill="#fbdfe0"/>
<rect x="176" y="210.00" width="9.30" height="1.80" fill="#f9d2d3"/>
<rect x="185" y="210.00" width="8.30" height="1.80" fill="#f4aeb0"/>
<rect x="193" y="210.00" width="9.30" height="1.80" fill="#f3a1a3"/>
<rect x="202" y="210.00" width="8.30" height="1.80" fill="#f9d2d3"/>
<rect x="143" y="211.50" width="8.30" height="1.80" fill="#6d6dc3"/>
<rect x="151" y="211.50" width="9.30" height="1.80" fill="#8d8dd0"/>
<rect x="160" y="211.50" width="8.30" height="1.80" fill="#acacdd"/>
<rect x="168" y="211.50" width="8.30" height="1.80" fill="#fef6f6"/>
<rect x="176" y="211.50" width="9.30" height="1.80" fill="#fce5e6"/>
<rect x="185" y="211.50" width="8.30" height="1.80" fill="#f7c1c3"/>
<rect x="193" y="211.50" width="9.30" height="1.80" fill="#f8cdce"/>
<rect x="202" y="211.50" width="8.30" height="1.80" fill="#fdf0f1"/>
<rect x="143" y="213.00" width="8.30" height="1.80" fill="#4242b1"/>
<rect x="151" y="213.00" width="9.30" height="1.80" fill="#9999d5"/>
<rect x="160" y="213.00" width="8.30" height="1.80" fill="#c0c0e5"/>
<rect x="168" y="213.00" width="8.30" height="1.80" fill="#fef5f6"/>
<rect x="176" y="213.00" width="9.30" height="1.80" fill="#fdfdfe"/>
<rect x="185" y="213.00" width="8.30" height="1.80" fill="#f09194"/>
<rect x="193" y="213.00" width="9.30" height="1.80" fill="#fbe2e3"/>
<rect x="202" y="213.00" width="8.30" height="1.80" fill="#fdefef"/>
<rect x="143" y="214.50" width="8.30" height="1.80" fill="#6767c0"/>
<rect x="151" y="214.50" width="9.30" height="1.80" fill="#d8d8ef"/>
<rect x="160" y="214.50" width="8.30" height="1.80" fill="#dbdbf0"/>
<rect x="168" y="214.50" width="8.30" height="1.80" fill="#fceced"/>
<rect x="176" y="214.50" width="9.30" height="1.80" fill="#fbe3e4"/>
<rect x="185" y="214.50" width="8.30" height="1.80" fill="#f5b0b2"/>
<rect x="193" y="214.50" width="9.30" height="1.80" fill="#f9d3d4"/>
<rect x="202" y="214.50" width="8.30" height="1.80" fill="#f8c8ca"/>
<rect x="143" y="216.00" width="8.30" height="1.80" fill="#9a9ad5"/>
<rect x="151" y="216.00" width="9.30" height="1.80" fill="#c0c0e5"/>
<rect x="160" y="216.00" width="8.30" height="1.80" fill="#9999d5"/>
<rect x="168" y="216.00" width="8.30" height="1.80" fill="#fad8d9"/>
<rect x="176" y="216.00" width="9.30" height="1.80" fill="#fdeded"/>
<rect x="185" y="216.00" width="8.30" height="1.80" fill="#f7c3c5"/>
<rect x="193" y="216.00" width="9.30" height="1.80" fill="#fef4f4"/>
<rect x="202" y="216.00" width="8.30" height="1.80" fill="#fadcdd"/>
<rect x="143" y="217.50" width="8.30" height="1.80" fill="#8282cc"/>
<rect x="151" y="217.50" width="9.30" height="1.80" fill="#cdcdea"/>
<rect x="160" y="217.50" width="8.30" height="1.80" fill="#babae3"/>
<rect x="168" y="217.50" width="8.30" height="1.80" fill="#fef5f6"/>
<rect x="176" y="217.50" width="9.30" height="1.80" fill="#fdeeef"/>
<rect x="185" y="217.50" width="8.30" height="1.80" fill="#f3a7a9"/>
<rect x="193" y="217.50" width="9.30" height="1.80" fill="#fffcfc"/>
<rect x="202" y="217.50" width="8.30" height="1.80" fill="#fefbfb"/>
<rect x="143" y="219.00" width="8.30" height="1.80" fill="#6c6cc3"/>
<rect x="151" y="219.00" width="9.30" height="1.80" fill="#d6d6ee"/>
<rect x="160" y="219.00" width="8.30" height="1.80" fill="#9999d5"/>
<rect x="168" y="219.00" width="8.30" height="1.80" fill="#fbe2e3"/>
<rect x="176" y="219.00" width="9.30" height="1.80" fill="#fef7f7"/>
<rect x="185" y="219.00" width="8.30" height="1.80" fill="#f1989a"/>
<rect x="193" y="219.00" width="9.30" height="1.80" fill="#f9d2d3"/>
<rect x="202" y="219.00" width="8.30" height="1.80" fill="#fbdedf"/>
<rect x="143" y="220.50" width="8.30" height="1.80" fill="#4e4eb6"/>
<rect x="151" y="220.50" width="9.30" height="1.80" fill="#d5d5ee"/>
<rect x="160" y="220.50" width="8.30" height="1.80" fill="#b2b2df"/>
<rect x="168" y="220.50" width="8.30" height="1.80" fill="#fce7e7"/>
<rect x="176" y="220.50" width="9.30" height="1.80" fill="#fce6e7"/>
<rect x="185" y="220.50" width="8.30" height="1.80" fill="#f8c7c9"/>
<rect x="193" y="220.50" width="9.30" height="1.80" fill="#f7c4c5"/>
<rect x="202" y="220.50" width="8.30" height="1.80" fill="#fbdfdf"/>
<rect x="143" y="222.00" width="8.30" height="1.80" fill="#6f6fc3"/>
<rect x="151" y="222.00" width="9.30" height="1.80" fill="#bcbce4"/>
<rect x="160" y="222.00" width="8.30" height="1.80" fill="#7171c5"/>
<rect x="168" y="222.00" width="8.30" height="1.80" fill="#fbddde"/>
<rect x="176" y="222.00" width="9.30" height="1.80" fill="#f9d5d6"/>
<rect x="185" y="222.00" width="8.30" height="1.80" fill="#fce9ea"/>
<rect x="193" y="222.00" width="9.30" height="1.80" fill="#f7c2c4"/>
<rect x="202" y="222.00" width="8.30" height="1.80" fill="#fadcdd"/>
<rect x="143" y="223.50" width="8.30" height="1.80" fill="#5555b9"/>
<rect x="151" y="223.50" width="9.30" height="1.80" fill="#a2a2d9"/>
<rect x="160" y="223.50" width="8.30" height="1.80" fill="#4646b3"/>
<rect x="168" y="223.50" width="8.30" height="1.80" fill="#f5b4b6"/>
<rect x="176" y="223.50" width="9.30" height="1.80" fill="#f7c4c5"/>
<rect x="185" y="223.50" width="8.30" height="1.80" fill="#fdf2f2"/>
<rect x="193" y="223.50" width="9.30" height="1.80" fill="#f29a9d"/>
<rect x="202" y="223.50" width="8.30" height="1.80" fill="#f6b9bb"/>
<rect x="143" y="225.00" width="8.30" height="1.80" fill="#7171c4"/>
<rect x="151" y="225.00" width="9.30" height="1.80" fill="#a2a2d9"/>
<rect x="160" y="225.00" width="8.30" height="1.80" fill="#3535ac"/>
<rect x="168" y="225.00" width="8.30" height="1.80" fill="#f8c9cb"/>
<rect x="176" y="225.00" width="9.30" height="1.80" fill="#f9d2d3"/>
<rect x="185" y="225.00" width="8.30" height="1.80" fill="#d5d5ee"/>
<rect x="193" y="225.00" width="9.30" height="1.80" fill="#f8c6c8"/>
<rect x="202" y="225.00" width="8.30" height="1.80" fill="#f29fa1"/>
<rect x="143" y="226.50" width="8.30" height="1.80" fill="#8181cb"/>
<rect x="151" y="226.50" width="9.30" height="1.80" fill="#cdcdea"/>
<rect x="160" y="226.50" width="8.30" height="1.80" fill="#7070c4"/>
<rect x="168" y="226.50" width="8.30" height="1.80" fill="#fad6d7"/>
<rect x="176" y="226.50" width="9.30" height="1.80" fill="#f9cecf"/>
<rect x="185" y="226.50" width="8.30" height="1.80" fill="#fffdfd"/>
<rect x="193" y="226.50" width="9.30" height="1.80" fill="#f8cdcf"/>
<rect x="202" y="226.50" width="8.30" height="1.80" fill="#f7c1c3"/>
<rect x="143" y="228.00" width="8.30" height="1.80" fill="#9393d3"/>
<rect x="151" y="228.00" width="9.30" height="1.80" fill="#d6d6ee"/>
<rect x="160" y="228.00" width="8.30" height="1.80" fill="#8484cc"/>
<rect x="168" y="228.00" width="8.30" height="1.80" fill="#fbe0e1"/>
<rect x="176" y="228.00" width="9.30" height="1.80" fill="#fce9e9"/>
<rect x="185" y="228.00" width="8.30" height="1.80" fill="#fbdedf"/>
<rect x="193" y="228.00" width="9.30" height="1.80" fill="#fef5f5"/>
<rect x="202" y="228.00" width="8.30" height="1.80" fill="#f2a0a2"/>
<rect x="143" y="229.50" width="8.30" height="1.80" fill="#b8b8e2"/>
<rect x="151" y="229.50" width="9.30" height="1.80" fill="#fce9ea"/>
<rect x="160" y="229.50" width="8.30" height="1.80" fill="#bdbde4"/>
<rect x="168" y="229.50" width="8.30" height="1.80" fill="#ededf8"/>
<rect x="176" y="229.50" width="9.30" height="1.80" fill="#bfbfe5"/>
<rect x="185" y="229.50" width="8.30" height="1.80" fill="#fbe1e2"/>
<rect x="193" y="229.50" width="9.30" height="1.80" fill="#e2e2f3"/>
<rect x="202" y="229.50" width="8.30" height="1.80" fill="#f3f3fa"/>
<rect x="143" y="231.00" width="8.30" height="1.80" fill="#7f7fca"/>
<rect x="151" y="231.00" width="9.30" height="1.80" fill="#c4c4e7"/>
<rect x="160" y="231.00" width="8.30" height="1.80" fill="#4c4cb5"/>
<rect x="168" y="231.00" width="8.30" height="1.80" fill="#f8ccce"/>
<rect x="176" y="231.00" width="9.30" height="1.80" fill="#fdf0f1"/>
<rect x="185" y="231.00" width="8.30" height="1.80" fill="#f5b3b5"/>
<rect x="193" y="231.00" width="9.30" height="1.80" fill="#fdefef"/>
<rect x="202" y="231.00" width="8.30" height="1.80" fill="#f6babc"/>
<rect x="143" y="232.50" width="8.30" height="1.80" fill="#7373c5"/>
<rect x="151" y="232.50" width="9.30" height="1.80" fill="#bbbbe3"/>
<rect x="160" y="232.50" width="8.30" height="1.80" fill="#6262be"/>
<rect x="168" y="232.50" width="8.30" height="1.80" fill="#f9d5d6"/>
<rect x="176" y="232.50" width="9.30" height="1.80" fill="#fef6f6"/>
<rect x="185" y="232.50" width="8.30" height="1.80" fill="#f8c8c9"/>
<rect x="193" y="232.50" width="9.30" height="1.80" fill="#f6bec0"/>
<rect x="202" y="232.50" width="8.30" height="1.80" fill="#f9cecf"/>
<rect x="143" y="234.00" width="8.30" height="1.80" fill="#8585cd"/>
<rect x="151" y="234.00" width="9.30" height="1.80" fill="#a4a4d9"/>
<rect x="160" y="234.00" width="8.30" height="1.80" fill="#6868c1"/>
<rect x="168" y="234.00" width="8.30" height="1.80" fill="#fef4f5"/>
<rect x="176" y="234.00" width="9.30" height="1.80" fill="#fdf2f2"/>
<rect x="185" y="234.00" width="8.30" height="1.80" fill="#fad9da"/>
<rect x="193" y="234.00" width="9.30" height="1.80" fill="#f6babc"/>
<rect x="202" y="234.00" width="8.30" height="1.80" fill="#f9d2d3"/>
<rect x="143" y="235.50" width="8.30" height="1.80" fill="#6d6dc3"/>
<rect x="151" y="235.50" width="9.30" height="1.80" fill="#c5c5e7"/>
<rect x="160" y="235.50" width="8.30" height="1.80" fill="#5f5fbd"/>
<rect x="168" y="235.50" width="8.30" height="1.80" fill="#fdfdfe"/>
<rect x="176" y="235.50" width="9.30" height="1.80" fill="#fbdfe0"/>
<rect x="185" y="235.50" width="8.30" height="1.80" fill="#f3a3a5"/>
<rect x="193" y="235.50" width="9.30" height="1.80" fill="#fbe0e1"/>
<rect x="202" y="235.50" width="8.30" height="1.80" fill="#fbe3e4"/>
<rect x="143" y="237.00" width="8.30" height="1.80" fill="#8484cc"/>
<rect x="151" y="237.00" width="9.30" height="1.80" fill="#a1a1d8"/>
<rect x="160" y="237.00" width="8.30" height="1.80" fill="#6767c0"/>
<rect x="168" y="237.00" width="8.30" height="1.80" fill="#fefeff"/>
<rect x="176" y="237.00" width="9.30" height="1.80" fill="#f3f3fa"/>
<rect x="185" y="237.00" width="8.30" height="1.80" fill="#fbe2e3"/>
<rect x="193" y="237.00" width="9.30" height="1.80" fill="#f9d2d3"/>
<rect x="202" y="237.00" width="8.30" height="1.80" fill="#fef4f4"/>
<rect x="143" y="238.50" width="8.30" height="1.80" fill="#4949b4"/>
<rect x="151" y="238.50" width="9.30" height="1.80" fill="#b1b1df"/>
<rect x="160" y="238.50" width="8.30" height="1.80" fill="#8c8cd0"/>
<rect x="168" y="238.50" width="8.30" height="1.80" fill="#fffdfd"/>
<rect x="176" y="238.50" width="9.30" height="1.80" fill="#fefeff"/>
<rect x="185" y="238.50" width="8.30" height="1.80" fill="#f8cbcc"/>
<rect x="193" y="238.50" width="9.30" height="1.80" fill="#f7c2c3"/>
<rect x="202" y="238.50" width="8.30" height="1.80" fill="#fbfbfd"/>
<rect x="143" y="240.00" width="8.30" height="1.80" fill="#4141b1"/>
<rect x="151" y="240.00" width="9.30" height="1.80" fill="#babae3"/>
<rect x="160" y="240.00" width="8.30" height="1.80" fill="#9090d1"/>
<rect x="168" y="240.00" width="8.30" height="1.80" fill="#f9d3d4"/>
<rect x="176" y="240.00" width="9.30" height="1.80" fill="#fce9ea"/>
<rect x="185" y="240.00" width="8.30" height="1.80" fill="#f5b2b4"/>
<rect x="193" y="240.00" width="9.30" height="1.80" fill="#f6bbbd"/>
<rect x="202" y="240.00" width="8.30" height="1.80" fill="#fcecec"/>
<rect x="143" y="241.50" width="8.30" height="1.80" fill="#a8a8db"/>
<rect x="151" y="241.50" width="9.30" height="1.80" fill="#e2e2f3"/>
<rect x="160" y="241.50" width="8.30" height="1.80" fill="#a1a1d8"/>
<rect x="168" y="241.50" width="8.30" height="1.80" fill="#fffcfc"/>
<rect x="176" y="241.50" width="9.30" height="1.80" fill="#fefeff"/>
<rect x="185" y="241.50" width="8.30" height="1.80" fill="#f5b2b4"/>
<rect x="193" y="241.50" width="9.30" height="1.80" fill="#f8cbcd"/>
<rect x="202" y="241.50" width="8.30" height="1.80" fill="#f9d3d4"/>
<rect x="143" y="243.00" width="8.30" height="1.80" fill="#8a8acf"/>
<rect x="151" y="243.00" width="9.30" height="1.80" fill="#a5a5da"/>
<rect x="160" y="243.00" width="8.30" height="1.80" fill="#9a9ad5"/>
<rect x="168" y="243.00" width="8.30" height="1.80" fill="#faddde"/>
<rect x="176" y="243.00" width="9.30" height="1.80" fill="#f9d3d4"/>
<rect x="185" y="243.00" width="8.30" height="1.80" fill="#f4adaf"/>
<rect x="193" y="243.00" width="9.30" height="1.80" fill="#f7c1c3"/>
<rect x="202" y="243.00" width="8.30" height="1.80" fill="#f4acae"/>
<rect x="143" y="244.50" width="8.30" height="1.80" fill="#9c9cd6"/>
<rect x="151" y="244.50" width="9.30" height="1.80" fill="#eeeef8"/>
<rect x="160" y="244.50" width="8.30" height="1.80" fill="#bcbce3"/>
<rect x="168" y="244.50" width="8.30" height="1.80" fill="#fcfcfe"/>
<rect x="176" y="244.50" width="9.30" height="1.80" fill="#fffcfc"/>
<rect x="185" y="244.50" width="8.30" height="1.80" fill="#f9d5d6"/>
<rect x="193" y="244.50" width="9.30" height="1.80" fill="#fefafa"/>
<rect x="202" y="244.50" width="8.30" height="1.80" fill="#fdeff0"/>
<rect x="143" y="246.00" width="8.30" height="1.80" fill="#8d8dd0"/>
<rect x="151" y="246.00" width="9.30" height="1.80" fill="#b6b6e1"/>
<rect x="160" y="246.00" width="8.30" height="1.80" fill="#a3a3d9"/>
<rect x="168" y="246.00" width="8.30" height="1.80" fill="#f9f9fd"/>
<rect x="176" y="246.00" width="9.30" height="1.80" fill="#fdeeef"/>
<rect x="185" y="246.00" width="8.30" height="1.80" fill="#f3a7a9"/>
<rect x="193" y="246.00" width="9.30" height="1.80" fill="#fbfbfe"/>
<rect x="202" y="246.00" width="8.30" height="1.80" fill="#fce6e6"/>
<rect x="143" y="247.50" width="8.30" height="1.80" fill="#6767c0"/>
<rect x="151" y="247.50" width="9.30" height="1.80" fill="#9a9ad5"/>
<rect x="160" y="247.50" width="8.30" height="1.80" fill="#9b9bd6"/>
<rect x="168" y="247.50" width="8.30" height="1.80" fill="#fef4f4"/>
<rect x="176" y="247.50" width="9.30" height="1.80" fill="#fdf1f1"/>
<rect x="185" y="247.50" width="8.30" height="1.80" fill="#f4acae"/>
<rect x="193" y="247.50" width="9.30" height="1.80" fill="#fce8e9"/>
<rect x="202" y="247.50" width="8.30" height="1.80" fill="#fceaeb"/>
<rect x="143" y="249.00" width="8.30" height="1.80" fill="#4747b3"/>
<rect x="151" y="249.00" width="9.30" height="1.80" fill="#8585cd"/>
<rect x="160" y="249.00" width="8.30" height="1.80" fill="#aeaede"/>
<rect x="168" y="249.00" width="8.30" height="1.80" fill="#fef4f4"/>
<rect x="176" y="249.00" width="9.30" height="1.80" fill="#f9d2d3"/>
<rect x="185" y="249.00" width="8.30" height="1.80" fill="#f7c1c3"/>
<rect x="193" y="249.00" width="9.30" height="1.80" fill="#f7c2c4"/>
<rect x="202" y="249.00" width="8.30" height="1.80" fill="#fdfdfe"/>
<rect x="143" y="250.50" width="8.30" height="1.80" fill="#6868c1"/>
<rect x="151" y="250.50" width="9.30" height="1.80" fill="#c6c6e8"/>
<rect x="160" y="250.50" width="8.30" height="1.80" fill="#bebee4"/>
<rect x="168" y="250.50" width="8.30" height="1.80" fill="#fef7f7"/>
<rect x="176" y="250.50" width="9.30" height="1.80" fill="#fdf2f3"/>
<rect x="185" y="250.50" width="8.30" height="1.80" fill="#fadbdc"/>
<rect x="193" y="250.50" width="9.30" height="1.80" fill="#f6babc"/>
<rect x="202" y="250.50" width="8.30" height="1.80" fill="#fbdedf"/>
<rect x="143" y="252.00" width="8.30" height="1.80" fill="#8989ce"/>
<rect x="151" y="252.00" width="9.30" height="1.80" fill="#e0e0f2"/>
<rect x="160" y="252.00" width="8.30" height="1.80" fill="#a9a9dc"/>
<rect x="168" y="252.00" width="8.30" height="1.80" fill="#fef8f8"/>
<rect x="176" y="252.00" width="9.30" height="1.80" fill="#f9d2d3"/>
<rect x="185" y="252.00" width="8.30" height="1.80" fill="#fbe3e4"/>
<rect x="193" y="252.00" width="9.30" height="1.80" fill="#f7c3c5"/>
<rect x="202" y="252.00" width="8.30" height="1.80" fill="#f8cacc"/>
<rect x="143" y="253.50" width="8.30" height="1.80" fill="#7d7dc9"/>
<rect x="151" y="253.50" width="9.30" height="1.80" fill="#aaaadc"/>
<rect x="160" y="253.50" width="8.30" height="1.80" fill="#8a8acf"/>
<rect x="168" y="253.50" width="8.30" height="1.80" fill="#fadbdc"/>
<rect x="176" y="253.50" width="9.30" height="1.80" fill="#f5b1b3"/>
<rect x="185" y="253.50" width="8.30" height="1.80" fill="#f7c3c4"/>
<rect x="193" y="253.50" width="9.30" height="1.80" fill="#f7c4c5"/>
<rect x="202" y="253.50" width="8.30" height="1.80" fill="#f6bbbc"/>
<rect x="143" y="255.00" width="8.30" height="1.80" fill="#a2a2d9"/>
<rect x="151" y="255.00" width="9.30" height="1.80" fill="#b3b3e0"/>
<rect x="160" y="255.00" width="8.30" height="1.80" fill="#9e9ed7"/>
<rect x="168" y="255.00" width="8.30" height="1.80" fill="#e6e6f5"/>
<rect x="176" y="255.00" width="9.30" height="1.80" fill="#fefeff"/>
<rect x="185" y="255.00" width="8.30" height="1.80" fill="#fbe4e5"/>
<rect x="193" y="255.00" width="9.30" height="1.80" fill="#fbe4e5"/>
<rect x="202" y="255.00" width="8.30" height="1.80" fill="#fcebec"/>
<rect x="143" y="256.50" width="8.30" height="1.80" fill="#8181cb"/>
<rect x="151" y="256.50" width="9.30" height="1.80" fill="#acacdd"/>
<rect x="160" y="256.50" width="8.30" height="1.80" fill="#dedef2"/>
<rect x="168" y="256.50" width="8.30" height="1.80" fill="#e0e0f2"/>
<rect x="176" y="256.50" width="9.30" height="1.80" fill="#f7f7fc"/>
<rect x="185" y="256.50" width="8.30" height="1.80" fill="#f9d2d3"/>
<rect x="193" y="256.50" width="9.30" height="1.80" fill="#f8c9ca"/>
<rect x="202" y="256.50" width="8.30" height="1.80" fill="#fffefe"/>
<rect x="143" y="258.00" width="8.30" height="1.80" fill="#6e6ec3"/>
<rect x="151" y="258.00" width="9.30" height="1.80" fill="#f0f0f9"/>
<rect x="160" y="258.00" width="8.30" height="1.80" fill="#dadaf0"/>
<rect x="168" y="258.00" width="8.30" height="1.80" fill="#fffeff"/>
<rect x="176" y="258.00" width="9.30" height="1.80" fill="#fef5f5"/>
<rect x="185" y="258.00" width="8.30" height="1.80" fill="#f4adaf"/>
<rect x="193" y="258.00" width="9.30" height="1.80" fill="#f8c8ca"/>
<rect x="202" y="258.00" width="8.30" height="1.80" fill="#fad9da"/>
<rect x="143" y="259.50" width="8.30" height="1.80" fill="#a3a3d9"/>
<rect x="151" y="259.50" width="9.30" height="1.80" fill="#ececf7"/>
<rect x="160" y="259.50" width="8.30" height="1.80" fill="#cdcdea"/>
<rect x="168" y="259.50" width="8.30" height="1.80" fill="#fbe1e2"/>
<rect x="176" y="259.50" width="9.30" height="1.80" fill="#fadbdc"/>
<rect x="185" y="259.50" width="8.30" height="1.80" fill="#f09093"/>
<rect x="193" y="259.50" width="9.30" height="1.80" fill="#fad6d7"/>
<rect x="202" y="259.50" width="8.30" height="1.80" fill="#f8c7c9"/>
<rect x="143" y="261.00" width="8.30" height="1.80" fill="#9393d2"/>
<rect x="151" y="261.00" width="9.30" height="1.80" fill="#bbbbe3"/>
<rect x="160" y="261.00" width="8.30" height="1.80" fill="#ebebf7"/>
<rect x="168" y="261.00" width="8.30" height="1.80" fill="#fadbdc"/>
<rect x="176" y="261.00" width="9.30" height="1.80" fill="#f6b8ba"/>
<rect x="185" y="261.00" width="8.30" height="1.80" fill="#f2a0a2"/>
<rect x="193" y="261.00" width="9.30" height="1.80" fill="#f6bec0"/>
<rect x="202" y="261.00" width="8.30" height="1.80" fill="#fad9da"/>
<rect x="143" y="262.50" width="8.30" height="1.80" fill="#7171c4"/>
<rect x="151" y="262.50" width="9.30" height="1.80" fill="#8989ce"/>
<rect x="160" y="262.50" width="8.30" height="1.80" fill="#f0f0f9"/>
<rect x="168" y="262.50" width="8.30" height="1.80" fill="#fcebeb"/>
<rect x="176" y="262.50" width="9.30" height="1.80" fill="#f4abad"/>
<rect x="185" y="262.50" width="8.30" height="1.80" fill="#f2999b"/>
<rect x="193" y="262.50" width="9.30" height="1.80" fill="#f7c6c7"/>
<rect x="202" y="262.50" width="8.30" height="1.80" fill="#f7c1c3"/>
<rect x="143" y="264.00" width="8.30" height="1.80" fill="#6363bf"/>
<rect x="151" y="264.00" width="9.30" height="1.80" fill="#a6a6da"/>
<rect x="160" y="264.00" width="8.30" height="1.80" fill="#c7c7e8"/>
<rect x="168" y="264.00" width="8.30" height="1.80" fill="#fdeeef"/>
<rect x="176" y="264.00" width="9.30" height="1.80" fill="#f6bdbf"/>
<rect x="185" y="264.00" width="8.30" height="1.80" fill="#f7c0c2"/>
<rect x="193" y="264.00" width="9.30" height="1.80" fill="#fad9da"/>
<rect x="202" y="264.00" width="8.30" height="1.80" fill="#fdfdfe"/>
<rect x="143" y="265.50" width="8.30" height="1.80" fill="#1f1fa3"/>
<rect x="151" y="265.50" width="9.30" height="1.80" fill="#a4a4da"/>
<rect x="160" y="265.50" width="8.30" height="1.80" fill="#a4a4d9"/>
<rect x="168" y="265.50" width="8.30" height="1.80" fill="#fefafa"/>
<rect x="176" y="265.50" width="9.30" height="1.80" fill="#f4abae"/>
<rect x="185" y="265.50" width="8.30" height="1.80" fill="#ef8689"/>
<rect x="193" y="265.50" width="9.30" height="1.80" fill="#f6bdbf"/>
<rect x="202" y="265.50" width="8.30" height="1.80" fill="#f7c3c5"/>
<rect x="143" y="267.00" width="8.30" height="1.80" fill="#b0b0de"/>
<rect x="151" y="267.00" width="9.30" height="1.80" fill="#e8e8f5"/>
<rect x="160" y="267.00" width="8.30" height="1.80" fill="#ceceeb"/>
<rect x="168" y="267.00" width="8.30" height="1.80" fill="#eaeaf7"/>
<rect x="176" y="267.00" width="9.30" height="1.80" fill="#f9cfd0"/>
<rect x="185" y="267.00" width="8.30" height="1.80" fill="#f5afb1"/>
<rect x="193" y="267.00" width="9.30" height="1.80" fill="#fef5f6"/>
<rect x="202" y="267.00" width="8.30" height="1.80" fill="#fef4f4"/>
</g>
<defs><linearGradient id="cb" x1="0" y1="0" x2="0" y2="1"><stop offset="0" stop-color="#e0141a"/><stop offset="0.5" stop-color="#ffffff"/><stop offset="1" stop-color="#0a0a9a"/></linearGradient></defs>
<rect x="215.3" y="42.5" width="10.5" height="144.5" fill="url(#cb)"/>
<text x="234.00" y="53.60" font-size="14.5" text-anchor="start" fill="#000" >2</text>
<text x="234.00" y="87.60" font-size="14.5" text-anchor="start" fill="#000" >1</text>
<text x="234.00" y="121.40" font-size="14.5" text-anchor="start" fill="#000" >0</text>
<text x="229.30" y="150.40" font-size="14.5" text-anchor="start" fill="#000" >-1</text>
<text x="229.30" y="182.90" font-size="14.5" text-anchor="start" fill="#000" >-2</text>
<text x="215.80" y="209.90" font-size="13.35" text-anchor="start" fill="#000" >Condition</text>
<rect x="214.3" y="219.8" width="6.8" height="14" fill="#ff0000"/>
<rect x="214.3" y="233.8" width="6.8" height="14" fill="#5cff00"/>
<text x="228.60" y="228.00" font-size="13.4" text-anchor="start" fill="#000" >Infected</text>
<text x="228.00" y="245.80" font-size="13.35" text-anchor="start" fill="#000" >Mock</text>
<text x="143.00" y="282.00" font-size="13.2" text-anchor="middle" fill="#000" >Cb infection</text>
<text x="351.00" y="14.00" font-size="18.5" text-anchor="start" fill="#000" >b</text>
<text x="441.70" y="26.00" font-size="13" text-anchor="start" fill="#000" >Cb-infection specific lncRNA</text>
<text transform="translate(322.0,109.8) rotate(-90)" font-size="13" text-anchor="middle">Fold change in expression</text>
<text transform="translate(336.6,109.4) rotate(-90)" font-size="13" text-anchor="middle">(NMII/Mock)</text>
<line x1="365.4" y1="44.0" x2="365.4" y2="106.3" stroke="#333" stroke-width="1"/>
<line x1="365.4" y1="113.4" x2="365.4" y2="136.2" stroke="#333" stroke-width="1"/>
<line x1="365.4" y1="143.2" x2="365.4" y2="181.4" stroke="#333" stroke-width="1"/>
<line x1="362.9" y1="106.3" x2="368" y2="106.3" stroke="#333" stroke-width="1"/>
<line x1="362.9" y1="113.4" x2="368" y2="113.4" stroke="#333" stroke-width="1"/>
<line x1="362.9" y1="136.2" x2="368" y2="136.2" stroke="#333" stroke-width="1"/>
<line x1="362.9" y1="143.2" x2="368" y2="143.2" stroke="#333" stroke-width="1"/>
<line x1="361.4" y1="44.02" x2="365.4" y2="44.02" stroke="#333" stroke-width="1"/>
<text x="360.40" y="48.62" font-size="13" text-anchor="end" fill="#000" >8</text>
<line x1="361.4" y1="63.18" x2="365.4" y2="63.18" stroke="#333" stroke-width="1"/>
<text x="360.40" y="67.78" font-size="13" text-anchor="end" fill="#000" >6</text>
<line x1="361.4" y1="82.34" x2="365.4" y2="82.34" stroke="#333" stroke-width="1"/>
<text x="360.40" y="86.94" font-size="13" text-anchor="end" fill="#000" >4</text>
<line x1="361.4" y1="101.50" x2="365.4" y2="101.50" stroke="#333" stroke-width="1"/>
<text x="360.40" y="106.10" font-size="13" text-anchor="end" fill="#000" >2</text>
<line x1="361.4" y1="113.40" x2="365.4" y2="113.40" stroke="#333" stroke-width="1"/>
<text x="360.40" y="118.00" font-size="13" text-anchor="end" fill="#000" >1.5</text>
<line x1="361.4" y1="124.80" x2="365.4" y2="124.80" stroke="#333" stroke-width="1"/>
<text x="360.40" y="129.40" font-size="13" text-anchor="end" fill="#000" >1.0</text>
<line x1="361.4" y1="136.20" x2="365.4" y2="136.20" stroke="#333" stroke-width="1"/>
<text x="360.40" y="140.80" font-size="13" text-anchor="end" fill="#000" >0.5</text>
<line x1="361.4" y1="152.20" x2="365.4" y2="152.20" stroke="#333" stroke-width="1"/>
<text x="360.40" y="156.80" font-size="13" text-anchor="end" fill="#000" >0.4</text>
<line x1="361.4" y1="166.80" x2="365.4" y2="166.80" stroke="#333" stroke-width="1"/>
<text x="360.40" y="171.40" font-size="13" text-anchor="end" fill="#000" >0.2</text>
<line x1="361.4" y1="181.40" x2="365.4" y2="181.40" stroke="#333" stroke-width="1"/>
<text x="360.40" y="186.00" font-size="13" text-anchor="end" fill="#000" >0.0</text>
<line x1="365.4" y1="181.4" x2="681" y2="181.4" stroke="#333" stroke-width="1"/>
<rect x="370.45" y="167.30" width="10.5" height="14.10" fill="#c07878" stroke="#3a2a2e" stroke-width="0.9"/>
<line x1="375.70" y1="161.3" x2="375.70" y2="173" stroke="#333" stroke-width="0.9"/>
<line x1="373.20" y1="161.3" x2="378.20" y2="161.3" stroke="#333" stroke-width="0.9"/>
<line x1="373.20" y1="173" x2="378.20" y2="173" stroke="#333" stroke-width="0.9"/>
<circle cx="375.70" cy="161.30" r="2.0" fill="#990000"/>
<circle cx="375.70" cy="167.90" r="2.0" fill="#990000"/>
<circle cx="375.70" cy="173.00" r="2.0" fill="#990000"/>
<polygon points="375.70,146.70 376.61,148.65 378.74,148.91 377.17,150.38 377.58,152.49 375.70,151.45 373.82,152.49 374.23,150.38 372.66,148.91 374.79,148.65" fill="#111"/>
<line x1="375.70" y1="181.4" x2="375.70" y2="185.6" stroke="#666" stroke-width="0.9"/>
<rect x="386.07" y="171.30" width="10.5" height="10.10" fill="#ff7a80" stroke="#3a2a2e" stroke-width="0.9"/>
<line x1="391.32" y1="166.4" x2="391.32" y2="175.4" stroke="#333" stroke-width="0.9"/>
<line x1="388.82" y1="166.4" x2="393.82" y2="166.4" stroke="#333" stroke-width="0.9"/>
<line x1="388.82" y1="175.4" x2="393.82" y2="175.4" stroke="#333" stroke-width="0.9"/>
<circle cx="391.32" cy="166.40" r="2.0" fill="#ff0000"/>
<circle cx="388.12" cy="173.40" r="2.0" fill="#ff0000"/>
<circle cx="394.52" cy="173.40" r="2.0" fill="#ff0000"/>
<polygon points="388.27,154.40 389.18,156.35 391.31,156.61 389.74,158.08 390.15,160.19 388.27,159.15 386.39,160.19 386.80,158.08 385.23,156.61 387.36,156.35" fill="#111"/>
<polygon points="394.37,154.40 395.28,156.35 397.41,156.61 395.84,158.08 396.25,160.19 394.37,159.15 392.49,160.19 392.90,158.08 391.33,156.61 393.46,156.35" fill="#111"/>
<line x1="391.32" y1="181.4" x2="391.32" y2="185.6" stroke="#666" stroke-width="0.9"/>
<rect x="401.69" y="157.30" width="10.5" height="24.10" fill="#ffb0d8" stroke="#3a2a2e" stroke-width="0.9"/>
<line x1="406.94" y1="145.1" x2="406.94" y2="166.8" stroke="#333" stroke-width="0.9"/>
<line x1="404.44" y1="145.1" x2="409.44" y2="145.1" stroke="#333" stroke-width="0.9"/>
<line x1="404.44" y1="166.8" x2="409.44" y2="166.8" stroke="#333" stroke-width="0.9"/>
<path d="M406.94,142.70 L409.44,146.90 L404.44,146.90 Z" fill="#ff6ec0"/>
<path d="M406.94,156.50 L409.44,160.70 L404.44,160.70 Z" fill="#ff6ec0"/>
<path d="M406.94,164.40 L409.44,168.60 L404.44,168.60 Z" fill="#ff6ec0"/>
<polygon points="406.94,132.70 407.85,134.65 409.98,134.91 408.41,136.38 408.82,138.49 406.94,137.45 405.06,138.49 405.47,136.38 403.90,134.91 406.03,134.65" fill="#111"/>
<line x1="406.94" y1="181.4" x2="406.94" y2="185.6" stroke="#666" stroke-width="0.9"/>
<rect x="417.31" y="152.60" width="10.5" height="28.80" fill="#f5b0ff" stroke="#3a2a2e" stroke-width="0.9"/>
<line x1="422.56" y1="144.1" x2="422.56" y2="161" stroke="#333" stroke-width="0.9"/>
<line x1="420.06" y1="144.1" x2="425.06" y2="144.1" stroke="#333" stroke-width="0.9"/>
<line x1="420.06" y1="161" x2="425.06" y2="161" stroke="#333" stroke-width="0.9"/>
<circle cx="422.56" cy="144.10" r="2.0" fill="#ee70f0"/>
<circle cx="419.56" cy="158.40" r="2.0" fill="#ee70f0"/>
<circle cx="425.56" cy="156.10" r="2.0" fill="#ee70f0"/>
<polygon points="422.56,132.70 423.47,134.65 425.60,134.91 424.03,136.38 424.44,138.49 422.56,137.45 420.68,138.49 421.09,136.38 419.52,134.91 421.65,134.65" fill="#111"/>
<line x1="422.56" y1="181.4" x2="422.56" y2="185.6" stroke="#666" stroke-width="0.9"/>
<rect x="432.93" y="165.90" width="10.5" height="15.50" fill="#e878e8" stroke="#3a2a2e" stroke-width="0.9"/>
<line x1="438.18" y1="155.8" x2="438.18" y2="174.2" stroke="#333" stroke-width="0.9"/>
<line x1="435.68" y1="155.8" x2="440.68" y2="155.8" stroke="#333" stroke-width="0.9"/>
<line x1="435.68" y1="174.2" x2="440.68" y2="174.2" stroke="#333" stroke-width="0.9"/>
<circle cx="438.18" cy="155.80" r="2.0" fill="#dd00dd"/>
<circle cx="434.78" cy="171.90" r="2.0" fill="#dd00dd"/>
<circle cx="441.28" cy="169.10" r="2.0" fill="#dd00dd"/>
<polygon points="438.18,143.90 439.09,145.85 441.22,146.11 439.65,147.58 440.06,149.69 438.18,148.65 436.30,149.69 436.71,147.58 435.14,146.11 437.27,145.85" fill="#111"/>
<line x1="438.18" y1="181.4" x2="438.18" y2="185.6" stroke="#666" stroke-width="0.9"/>
<rect x="448.55" y="171.00" width="10.5" height="10.40" fill="#a878b8" stroke="#3a2a2e" stroke-width="0.9"/>
<line x1="453.80" y1="167.4" x2="453.80" y2="175" stroke="#333" stroke-width="0.9"/>
<line x1="451.30" y1="167.4" x2="456.30" y2="167.4" stroke="#333" stroke-width="0.9"/>
<line x1="451.30" y1="175" x2="456.30" y2="175" stroke="#333" stroke-width="0.9"/>
<circle cx="453.80" cy="167.40" r="2.0" fill="#5a0080"/>
<circle cx="450.10" cy="172.70" r="2.0" fill="#5a0080"/>
<circle cx="457.10" cy="172.70" r="2.0" fill="#5a0080"/>
<polygon points="450.75,154.90 451.66,156.85 453.79,157.11 452.22,158.58 452.63,160.69 450.75,159.65 448.87,160.69 449.28,158.58 447.71,157.11 449.84,156.85" fill="#111"/>
<polygon points="456.85,154.90 457.76,156.85 459.89,157.11 458.32,158.58 458.73,160.69 456.85,159.65 454.97,160.69 455.38,158.58 453.81,157.11 455.94,156.85" fill="#111"/>
<line x1="453.80" y1="181.4" x2="453.80" y2="185.6" stroke="#666" stroke-width="0.9"/>
<rect x="464.17" y="143.20" width="10.5" height="38.20" fill="#c07878" stroke="#3a2a2e" stroke-width="0.9"/>
<rect x="464.17" y="113.40" width="10.5" height="22.80" fill="#c07878" stroke="#3a2a2e" stroke-width="0.9"/>
<rect x="464.17" y="105.90" width="10.5" height="0.40" fill="#c07878" stroke="#3a2a2e" stroke-width="0.9"/>
<line x1="464.67" y1="143.2" x2="474.17" y2="143.2" stroke="#c07878" stroke-width="1.2"/>
<line x1="464.67" y1="113.4" x2="474.17" y2="113.4" stroke="#c07878" stroke-width="1.2"/>
<line x1="464.67" y1="136.2" x2="474.17" y2="136.2" stroke="#c07878" stroke-width="1.2"/>
<line x1="469.42" y1="103.5" x2="469.42" y2="106" stroke="#333" stroke-width="0.9"/>
<line x1="466.92" y1="103.5" x2="471.92" y2="103.5" stroke="#333" stroke-width="0.9"/>
<line x1="466.92" y1="106" x2="471.92" y2="106" stroke="#333" stroke-width="0.9"/>
<circle cx="469.42" cy="103.50" r="2.0" fill="#990000"/>
<circle cx="466.32" cy="114.20" r="2.0" fill="#990000"/>
<circle cx="472.82" cy="114.20" r="2.0" fill="#990000"/>
<polygon points="466.37,91.70 467.28,93.65 469.41,93.91 467.84,95.38 468.25,97.49 466.37,96.45 464.49,97.49 464.90,95.38 463.33,93.91 465.46,93.65" fill="#111"/>
<polygon points="472.47,91.70 473.38,93.65 475.51,93.91 473.94,95.38 474.35,97.49 472.47,96.45 470.59,97.49 471.00,95.38 469.43,93.91 471.56,93.65" fill="#111"/>
<line x1="469.42" y1="181.4" x2="469.42" y2="185.6" stroke="#666" stroke-width="0.9"/>
<rect x="479.79" y="143.20" width="10.5" height="38.20" fill="#ff7a80" stroke="#3a2a2e" stroke-width="0.9"/>
<rect x="479.79" y="113.40" width="10.5" height="22.80" fill="#ff7a80" stroke="#3a2a2e" stroke-width="0.9"/>
<rect x="479.79" y="94.30" width="10.5" height="12.00" fill="#ff7a80" stroke="#3a2a2e" stroke-width="0.9"/>
<line x1="480.29" y1="143.2" x2="489.79" y2="143.2" stroke="#ff7a80" stroke-width="1.2"/>
<line x1="480.29" y1="113.4" x2="489.79" y2="113.4" stroke="#ff7a80" stroke-width="1.2"/>
<line x1="480.29" y1="136.2" x2="489.79" y2="136.2" stroke="#ff7a80" stroke-width="1.2"/>
<line x1="480.29" y1="106.3" x2="489.79" y2="106.3" stroke="#ff7a80" stroke-width="1.2"/>
<line x1="485.04" y1="82.5" x2="485.04" y2="103.9" stroke="#333" stroke-width="0.9"/>
<line x1="482.54" y1="82.5" x2="487.54" y2="82.5" stroke="#333" stroke-width="0.9"/>
<line x1="482.54" y1="103.9" x2="487.54" y2="103.9" stroke="#333" stroke-width="0.9"/>
<circle cx="485.04" cy="82.50" r="2.0" fill="#ff0000"/>
<circle cx="481.64" cy="101.60" r="2.0" fill="#ff0000"/>
<circle cx="488.44" cy="98.80" r="2.0" fill="#ff0000"/>
<polygon points="485.04,70.00 485.95,71.95 488.08,72.21 486.51,73.68 486.92,75.79 485.04,74.75 483.16,75.79 483.57,73.68 482.00,72.21 484.13,71.95" fill="#111"/>
<line x1="485.04" y1="181.4" x2="485.04" y2="185.6" stroke="#666" stroke-width="0.9"/>
<rect x="495.41" y="143.20" width="10.5" height="38.20" fill="#ffb0d8" stroke="#3a2a2e" stroke-width="0.9"/>
<rect x="495.41" y="113.40" width="10.5" height="22.80" fill="#ffb0d8" stroke="#3a2a2e" stroke-width="0.9"/>
<rect x="495.41" y="94.30" width="10.5" height="12.00" fill="#ffb0d8" stroke="#3a2a2e" stroke-width="0.9"/>
<line x1="495.91" y1="143.2" x2="505.41" y2="143.2" stroke="#ffb0d8" stroke-width="1.2"/>
<line x1="495.91" y1="113.4" x2="505.41" y2="113.4" stroke="#ffb0d8" stroke-width="1.2"/>
<line x1="495.91" y1="136.2" x2="505.41" y2="136.2" stroke="#ffb0d8" stroke-width="1.2"/>
<line x1="495.91" y1="106.3" x2="505.41" y2="106.3" stroke="#ffb0d8" stroke-width="1.2"/>
<line x1="500.66" y1="82.5" x2="500.66" y2="103.9" stroke="#333" stroke-width="0.9"/>
<line x1="498.16" y1="82.5" x2="503.16" y2="82.5" stroke="#333" stroke-width="0.9"/>
<line x1="498.16" y1="103.9" x2="503.16" y2="103.9" stroke="#333" stroke-width="0.9"/>
<path d="M500.66,80.10 L503.16,84.30 L498.16,84.30 Z" fill="#ff6ec0"/>
<path d="M497.26,99.20 L499.76,103.40 L494.76,103.40 Z" fill="#ff6ec0"/>
<path d="M504.26,96.40 L506.76,100.60 L501.76,100.60 Z" fill="#ff6ec0"/>
<polygon points="500.66,70.00 501.57,71.95 503.70,72.21 502.13,73.68 502.54,75.79 500.66,74.75 498.78,75.79 499.19,73.68 497.62,72.21 499.75,71.95" fill="#111"/>
<line x1="500.66" y1="181.4" x2="500.66" y2="185.6" stroke="#666" stroke-width="0.9"/>
<rect x="511.03" y="143.20" width="10.5" height="38.20" fill="#f5b0ff" stroke="#3a2a2e" stroke-width="0.9"/>
<rect x="511.03" y="113.40" width="10.5" height="22.80" fill="#f5b0ff" stroke="#3a2a2e" stroke-width="0.9"/>
<rect x="511.03" y="105.30" width="10.5" height="1.00" fill="#f5b0ff" stroke="#3a2a2e" stroke-width="0.9"/>
<line x1="511.53" y1="143.2" x2="521.03" y2="143.2" stroke="#f5b0ff" stroke-width="1.2"/>
<line x1="511.53" y1="113.4" x2="521.03" y2="113.4" stroke="#f5b0ff" stroke-width="1.2"/>
<line x1="511.53" y1="136.2" x2="521.03" y2="136.2" stroke="#f5b0ff" stroke-width="1.2"/>
<line x1="516.28" y1="104.9" x2="516.28" y2="106.3" stroke="#333" stroke-width="0.9"/>
<line x1="513.78" y1="104.9" x2="518.78" y2="104.9" stroke="#333" stroke-width="0.9"/>
<line x1="513.78" y1="106.3" x2="518.78" y2="106.3" stroke="#333" stroke-width="0.9"/>
<circle cx="512.48" cy="104.90" r="2.0" fill="#ee70f0"/>
<circle cx="519.98" cy="104.90" r="2.0" fill="#ee70f0"/>
<circle cx="516.28" cy="114.20" r="2.0" fill="#ee70f0"/>
<polygon points="513.23,91.90 514.14,93.85 516.27,94.11 514.70,95.58 515.11,97.69 513.23,96.65 511.35,97.69 511.76,95.58 510.19,94.11 512.32,93.85" fill="#111"/>
<polygon points="519.33,91.90 520.24,93.85 522.37,94.11 520.80,95.58 521.21,97.69 519.33,96.65 517.45,97.69 517.86,95.58 516.29,94.11 518.42,93.85" fill="#111"/>
<line x1="516.28" y1="181.4" x2="516.28" y2="185.6" stroke="#666" stroke-width="0.9"/>
<rect x="526.65" y="143.20" width="10.5" height="38.20" fill="#e878e8" stroke="#3a2a2e" stroke-width="0.9"/>
<rect x="526.65" y="113.40" width="10.5" height="22.80" fill="#e878e8" stroke="#3a2a2e" stroke-width="0.9"/>
<rect x="526.65" y="89.50" width="10.5" height="16.80" fill="#e878e8" stroke="#3a2a2e" stroke-width="0.9"/>
<line x1="527.15" y1="143.2" x2="536.65" y2="143.2" stroke="#e878e8" stroke-width="1.2"/>
<line x1="527.15" y1="113.4" x2="536.65" y2="113.4" stroke="#e878e8" stroke-width="1.2"/>
<line x1="527.15" y1="136.2" x2="536.65" y2="136.2" stroke="#e878e8" stroke-width="1.2"/>
<line x1="527.15" y1="106.3" x2="536.65" y2="106.3" stroke="#e878e8" stroke-width="1.2"/>
<line x1="531.90" y1="80.8" x2="531.90" y2="99.7" stroke="#333" stroke-width="0.9"/>
<line x1="529.40" y1="80.8" x2="534.40" y2="80.8" stroke="#333" stroke-width="0.9"/>
<line x1="529.40" y1="99.7" x2="534.40" y2="99.7" stroke="#333" stroke-width="0.9"/>
<circle cx="531.90" cy="80.80" r="2.0" fill="#dd00dd"/>
<circle cx="531.90" cy="86.90" r="2.0" fill="#dd00dd"/>
<circle cx="531.90" cy="99.70" r="2.0" fill="#dd00dd"/>
<polygon points="522.75,68.90 523.66,70.85 525.79,71.11 524.22,72.58 524.63,74.69 522.75,73.65 520.87,74.69 521.28,72.58 519.71,71.11 521.84,70.85" fill="#111"/>
<polygon points="528.85,68.90 529.76,70.85 531.89,71.11 530.32,72.58 530.73,74.69 528.85,73.65 526.97,74.69 527.38,72.58 525.81,71.11 527.94,70.85" fill="#111"/>
<polygon points="534.95,68.90 535.86,70.85 537.99,71.11 536.42,72.58 536.83,74.69 534.95,73.65 533.07,74.69 533.48,72.58 531.91,71.11 534.04,70.85" fill="#111"/>
<polygon points="541.05,68.90 541.96,70.85 544.09,71.11 542.52,72.58 542.93,74.69 541.05,73.65 539.17,74.69 539.58,72.58 538.01,71.11 540.14,70.85" fill="#111"/>
<line x1="531.90" y1="181.4" x2="531.90" y2="185.6" stroke="#666" stroke-width="0.9"/>
<rect x="542.27" y="143.20" width="10.5" height="38.20" fill="#a878b8" stroke="#3a2a2e" stroke-width="0.9"/>
<rect x="542.27" y="113.40" width="10.5" height="22.80" fill="#a878b8" stroke="#3a2a2e" stroke-width="0.9"/>
<rect x="542.27" y="99.20" width="10.5" height="7.10" fill="#a878b8" stroke="#3a2a2e" stroke-width="0.9"/>
<line x1="542.77" y1="143.2" x2="552.27" y2="143.2" stroke="#a878b8" stroke-width="1.2"/>
<line x1="542.77" y1="113.4" x2="552.27" y2="113.4" stroke="#a878b8" stroke-width="1.2"/>
<line x1="542.77" y1="136.2" x2="552.27" y2="136.2" stroke="#a878b8" stroke-width="1.2"/>
<line x1="542.77" y1="106.3" x2="552.27" y2="106.3" stroke="#a878b8" stroke-width="1.2"/>
<line x1="547.52" y1="93" x2="547.52" y2="103.6" stroke="#333" stroke-width="0.9"/>
<line x1="545.02" y1="93" x2="550.02" y2="93" stroke="#333" stroke-width="0.9"/>
<line x1="545.02" y1="103.6" x2="550.02" y2="103.6" stroke="#333" stroke-width="0.9"/>
<circle cx="547.52" cy="93.00" r="2.0" fill="#5a0080"/>
<circle cx="544.02" cy="103.60" r="2.0" fill="#5a0080"/>
<circle cx="551.02" cy="101.00" r="2.0" fill="#5a0080"/>
<polygon points="541.42,85.80 542.33,87.75 544.46,88.01 542.89,89.48 543.30,91.59 541.42,90.55 539.54,91.59 539.95,89.48 538.38,88.01 540.51,87.75" fill="#111"/>
<polygon points="547.52,85.80 548.43,87.75 550.56,88.01 548.99,89.48 549.40,91.59 547.52,90.55 545.64,91.59 546.05,89.48 544.48,88.01 546.61,87.75" fill="#111"/>
<polygon points="553.62,85.80 554.53,87.75 556.66,88.01 555.09,89.48 555.50,91.59 553.62,90.55 551.74,91.59 552.15,89.48 550.58,88.01 552.71,87.75" fill="#111"/>
<line x1="547.52" y1="181.4" x2="547.52" y2="185.6" stroke="#666" stroke-width="0.9"/>
<rect x="557.89" y="143.20" width="10.5" height="38.20" fill="#c07878" stroke="#3a2a2e" stroke-width="0.9"/>
<rect x="557.89" y="113.40" width="10.5" height="22.80" fill="#c07878" stroke="#3a2a2e" stroke-width="0.9"/>
<rect x="557.89" y="96.20" width="10.5" height="10.10" fill="#c07878" stroke="#3a2a2e" stroke-width="0.9"/>
<line x1="558.39" y1="143.2" x2="567.89" y2="143.2" stroke="#c07878" stroke-width="1.2"/>
<line x1="558.39" y1="113.4" x2="567.89" y2="113.4" stroke="#c07878" stroke-width="1.2"/>
<line x1="558.39" y1="136.2" x2="567.89" y2="136.2" stroke="#c07878" stroke-width="1.2"/>
<line x1="558.39" y1="106.3" x2="567.89" y2="106.3" stroke="#c07878" stroke-width="1.2"/>
<line x1="563.14" y1="91.3" x2="563.14" y2="99.5" stroke="#333" stroke-width="0.9"/>
<line x1="560.64" y1="91.3" x2="565.64" y2="91.3" stroke="#333" stroke-width="0.9"/>
<line x1="560.64" y1="99.5" x2="565.64" y2="99.5" stroke="#333" stroke-width="0.9"/>
<circle cx="563.14" cy="91.30" r="2.0" fill="#990000"/>
<circle cx="559.84" cy="99.10" r="2.0" fill="#990000"/>
<circle cx="566.54" cy="97.10" r="2.0" fill="#990000"/>
<polygon points="553.99,78.40 554.90,80.35 557.03,80.61 555.46,82.08 555.87,84.19 553.99,83.15 552.11,84.19 552.52,82.08 550.95,80.61 553.08,80.35" fill="#111"/>
<polygon points="560.09,78.40 561.00,80.35 563.13,80.61 561.56,82.08 561.97,84.19 560.09,83.15 558.21,84.19 558.62,82.08 557.05,80.61 559.18,80.35" fill="#111"/>
<polygon points="566.19,78.40 567.10,80.35 569.23,80.61 567.66,82.08 568.07,84.19 566.19,83.15 564.31,84.19 564.72,82.08 563.15,80.61 565.28,80.35" fill="#111"/>
<polygon points="572.29,78.40 573.20,80.35 575.33,80.61 573.76,82.08 574.17,84.19 572.29,83.15 570.41,84.19 570.82,82.08 569.25,80.61 571.38,80.35" fill="#111"/>
<line x1="563.14" y1="181.4" x2="563.14" y2="185.6" stroke="#666" stroke-width="0.9"/>
<rect x="573.51" y="143.20" width="10.5" height="38.20" fill="#ff7a80" stroke="#3a2a2e" stroke-width="0.9"/>
<rect x="573.51" y="113.40" width="10.5" height="22.80" fill="#ff7a80" stroke="#3a2a2e" stroke-width="0.9"/>
<rect x="573.51" y="104.40" width="10.5" height="1.90" fill="#ff7a80" stroke="#3a2a2e" stroke-width="0.9"/>
<line x1="574.01" y1="143.2" x2="583.51" y2="143.2" stroke="#ff7a80" stroke-width="1.2"/>
<line x1="574.01" y1="113.4" x2="583.51" y2="113.4" stroke="#ff7a80" stroke-width="1.2"/>
<line x1="574.01" y1="136.2" x2="583.51" y2="136.2" stroke="#ff7a80" stroke-width="1.2"/>
<line x1="578.76" y1="100.8" x2="578.76" y2="104.5" stroke="#333" stroke-width="0.9"/>
<line x1="576.26" y1="100.8" x2="581.26" y2="100.8" stroke="#333" stroke-width="0.9"/>
<line x1="576.26" y1="104.5" x2="581.26" y2="104.5" stroke="#333" stroke-width="0.9"/>
<circle cx="575.36" cy="104.00" r="2.0" fill="#ff0000"/>
<circle cx="579.16" cy="100.80" r="2.0" fill="#ff0000"/>
<circle cx="582.76" cy="104.00" r="2.0" fill="#ff0000"/>
<polygon points="575.71,88.30 576.62,90.25 578.75,90.51 577.18,91.98 577.59,94.09 575.71,93.05 573.83,94.09 574.24,91.98 572.67,90.51 574.80,90.25" fill="#111"/>
<polygon points="581.81,88.30 582.72,90.25 584.85,90.51 583.28,91.98 583.69,94.09 581.81,93.05 579.93,94.09 580.34,91.98 578.77,90.51 580.90,90.25" fill="#111"/>
<line x1="578.76" y1="181.4" x2="578.76" y2="185.6" stroke="#666" stroke-width="0.9"/>
<rect x="589.13" y="143.20" width="10.5" height="38.20" fill="#ffb0d8" stroke="#3a2a2e" stroke-width="0.9"/>
<rect x="589.13" y="113.40" width="10.5" height="22.80" fill="#ffb0d8" stroke="#3a2a2e" stroke-width="0.9"/>
<rect x="589.13" y="94.40" width="10.5" height="11.90" fill="#ffb0d8" stroke="#3a2a2e" stroke-width="0.9"/>
<line x1="589.63" y1="143.2" x2="599.13" y2="143.2" stroke="#ffb0d8" stroke-width="1.2"/>
<line x1="589.63" y1="113.4" x2="599.13" y2="113.4" stroke="#ffb0d8" stroke-width="1.2"/>
<line x1="589.63" y1="136.2" x2="599.13" y2="136.2" stroke="#ffb0d8" stroke-width="1.2"/>
<line x1="589.63" y1="106.3" x2="599.13" y2="106.3" stroke="#ffb0d8" stroke-width="1.2"/>
<line x1="594.38" y1="92" x2="594.38" y2="95" stroke="#333" stroke-width="0.9"/>
<line x1="591.88" y1="92" x2="596.88" y2="92" stroke="#333" stroke-width="0.9"/>
<line x1="591.88" y1="95" x2="596.88" y2="95" stroke="#333" stroke-width="0.9"/>
<path d="M591.28,91.10 L593.78,95.30 L588.78,95.30 Z" fill="#ff6ec0"/>
<path d="M594.38,89.60 L596.88,93.80 L591.88,93.80 Z" fill="#ff6ec0"/>
<path d="M597.78,91.10 L600.28,95.30 L595.28,95.30 Z" fill="#ff6ec0"/>
<polygon points="591.33,81.10 592.24,83.05 594.37,83.31 592.80,84.78 593.21,86.89 591.33,85.85 589.45,86.89 589.86,84.78 588.29,83.31 590.42,83.05" fill="#111"/>
<polygon points="597.43,81.10 598.34,83.05 600.47,83.31 598.90,84.78 599.31,86.89 597.43,85.85 595.55,86.89 595.96,84.78 594.39,83.31 596.52,83.05" fill="#111"/>
<line x1="594.38" y1="181.4" x2="594.38" y2="185.6" stroke="#666" stroke-width="0.9"/>
<rect x="604.75" y="143.20" width="10.5" height="38.20" fill="#f5b0ff" stroke="#3a2a2e" stroke-width="0.9"/>
<rect x="604.75" y="113.40" width="10.5" height="22.80" fill="#f5b0ff" stroke="#3a2a2e" stroke-width="0.9"/>
<rect x="604.75" y="102.30" width="10.5" height="4.00" fill="#f5b0ff" stroke="#3a2a2e" stroke-width="0.9"/>
<line x1="605.25" y1="143.2" x2="614.75" y2="143.2" stroke="#f5b0ff" stroke-width="1.2"/>
<line x1="605.25" y1="113.4" x2="614.75" y2="113.4" stroke="#f5b0ff" stroke-width="1.2"/>
<line x1="605.25" y1="136.2" x2="614.75" y2="136.2" stroke="#f5b0ff" stroke-width="1.2"/>
<line x1="605.25" y1="106.3" x2="614.75" y2="106.3" stroke="#f5b0ff" stroke-width="1.2"/>
<line x1="610.00" y1="100.3" x2="610.00" y2="103.5" stroke="#333" stroke-width="0.9"/>
<line x1="607.50" y1="100.3" x2="612.50" y2="100.3" stroke="#333" stroke-width="0.9"/>
<line x1="607.50" y1="103.5" x2="612.50" y2="103.5" stroke="#333" stroke-width="0.9"/>
<circle cx="606.30" cy="102.00" r="2.0" fill="#ee70f0"/>
<circle cx="610.00" cy="100.30" r="2.0" fill="#ee70f0"/>
<circle cx="613.50" cy="102.00" r="2.0" fill="#ee70f0"/>
<polygon points="606.95,89.60 607.86,91.55 609.99,91.81 608.42,93.28 608.83,95.39 606.95,94.35 605.07,95.39 605.48,93.28 603.91,91.81 606.04,91.55" fill="#111"/>
<polygon points="613.05,89.60 613.96,91.55 616.09,91.81 614.52,93.28 614.93,95.39 613.05,94.35 611.17,95.39 611.58,93.28 610.01,91.81 612.14,91.55" fill="#111"/>
<line x1="610.00" y1="181.4" x2="610.00" y2="185.6" stroke="#666" stroke-width="0.9"/>
<rect x="620.37" y="143.20" width="10.5" height="38.20" fill="#e878e8" stroke="#3a2a2e" stroke-width="0.9"/>
<rect x="620.37" y="113.40" width="10.5" height="22.80" fill="#e878e8" stroke="#3a2a2e" stroke-width="0.9"/>
<rect x="620.37" y="97.00" width="10.5" height="9.30" fill="#e878e8" stroke="#3a2a2e" stroke-width="0.9"/>
<line x1="620.87" y1="143.2" x2="630.37" y2="143.2" stroke="#e878e8" stroke-width="1.2"/>
<line x1="620.87" y1="113.4" x2="630.37" y2="113.4" stroke="#e878e8" stroke-width="1.2"/>
<line x1="620.87" y1="136.2" x2="630.37" y2="136.2" stroke="#e878e8" stroke-width="1.2"/>
<line x1="620.87" y1="106.3" x2="630.37" y2="106.3" stroke="#e878e8" stroke-width="1.2"/>
<line x1="625.62" y1="94.1" x2="625.62" y2="100.9" stroke="#333" stroke-width="0.9"/>
<line x1="623.12" y1="94.1" x2="628.12" y2="94.1" stroke="#333" stroke-width="0.9"/>
<line x1="623.12" y1="100.9" x2="628.12" y2="100.9" stroke="#333" stroke-width="0.9"/>
<circle cx="621.92" cy="94.10" r="2.0" fill="#dd00dd"/>
<circle cx="629.22" cy="96.40" r="2.0" fill="#dd00dd"/>
<circle cx="625.62" cy="100.90" r="2.0" fill="#dd00dd"/>
<polygon points="625.62,81.90 626.53,83.85 628.66,84.11 627.09,85.58 627.50,87.69 625.62,86.65 623.74,87.69 624.15,85.58 622.58,84.11 624.71,83.85" fill="#111"/>
<line x1="625.62" y1="181.4" x2="625.62" y2="185.6" stroke="#666" stroke-width="0.9"/>
<rect x="635.99" y="143.20" width="10.5" height="38.20" fill="#a878b8" stroke="#3a2a2e" stroke-width="0.9"/>
<rect x="635.99" y="113.40" width="10.5" height="22.80" fill="#a878b8" stroke="#3a2a2e" stroke-width="0.9"/>
<rect x="635.99" y="103.20" width="10.5" height="3.10" fill="#a878b8" stroke="#3a2a2e" stroke-width="0.9"/>
<line x1="636.49" y1="143.2" x2="645.99" y2="143.2" stroke="#a878b8" stroke-width="1.2"/>
<line x1="636.49" y1="113.4" x2="645.99" y2="113.4" stroke="#a878b8" stroke-width="1.2"/>
<line x1="636.49" y1="136.2" x2="645.99" y2="136.2" stroke="#a878b8" stroke-width="1.2"/>
<line x1="636.49" y1="106.3" x2="645.99" y2="106.3" stroke="#a878b8" stroke-width="1.2"/>
<line x1="641.24" y1="100.3" x2="641.24" y2="104.5" stroke="#333" stroke-width="0.9"/>
<line x1="638.74" y1="100.3" x2="643.74" y2="100.3" stroke="#333" stroke-width="0.9"/>
<line x1="638.74" y1="104.5" x2="643.74" y2="104.5" stroke="#333" stroke-width="0.9"/>
<circle cx="637.54" cy="100.30" r="2.0" fill="#5a0080"/>
<circle cx="641.24" cy="104.50" r="2.0" fill="#5a0080"/>
<circle cx="644.84" cy="104.50" r="2.0" fill="#5a0080"/>
<polygon points="638.19,89.80 639.10,91.75 641.23,92.01 639.66,93.48 640.07,95.59 638.19,94.55 636.31,95.59 636.72,93.48 635.15,92.01 637.28,91.75" fill="#111"/>
<polygon points="644.29,89.80 645.20,91.75 647.33,92.01 645.76,93.48 646.17,95.59 644.29,94.55 642.41,95.59 642.82,93.48 641.25,92.01 643.38,91.75" fill="#111"/>
<line x1="641.24" y1="181.4" x2="641.24" y2="185.6" stroke="#666" stroke-width="0.9"/>
<rect x="651.61" y="143.20" width="10.5" height="38.20" fill="#c07878" stroke="#3a2a2e" stroke-width="0.9"/>
<rect x="651.61" y="113.40" width="10.5" height="22.80" fill="#c07878" stroke="#3a2a2e" stroke-width="0.9"/>
<rect x="651.61" y="103.00" width="10.5" height="3.30" fill="#c07878" stroke="#3a2a2e" stroke-width="0.9"/>
<line x1="652.11" y1="143.2" x2="661.61" y2="143.2" stroke="#c07878" stroke-width="1.2"/>
<line x1="652.11" y1="113.4" x2="661.61" y2="113.4" stroke="#c07878" stroke-width="1.2"/>
<line x1="652.11" y1="136.2" x2="661.61" y2="136.2" stroke="#c07878" stroke-width="1.2"/>
<line x1="652.11" y1="106.3" x2="661.61" y2="106.3" stroke="#c07878" stroke-width="1.2"/>
<line x1="656.86" y1="100.8" x2="656.86" y2="104" stroke="#333" stroke-width="0.9"/>
<line x1="654.36" y1="100.8" x2="659.36" y2="100.8" stroke="#333" stroke-width="0.9"/>
<line x1="654.36" y1="104" x2="659.36" y2="104" stroke="#333" stroke-width="0.9"/>
<circle cx="653.46" cy="104.00" r="2.0" fill="#990000"/>
<circle cx="656.86" cy="100.80" r="2.0" fill="#990000"/>
<circle cx="660.46" cy="103.00" r="2.0" fill="#990000"/>
<polygon points="653.81,89.80 654.72,91.75 656.85,92.01 655.28,93.48 655.69,95.59 653.81,94.55 651.93,95.59 652.34,93.48 650.77,92.01 652.90,91.75" fill="#111"/>
<polygon points="659.91,89.80 660.82,91.75 662.95,92.01 661.38,93.48 661.79,95.59 659.91,94.55 658.03,95.59 658.44,93.48 656.87,92.01 659.00,91.75" fill="#111"/>
<line x1="656.86" y1="181.4" x2="656.86" y2="185.6" stroke="#666" stroke-width="0.9"/>
<rect x="667.23" y="66.40" width="10.5" height="115.00" fill="#ff7a85" stroke="#3a2a2e" stroke-width="0.9"/>
<rect x="667.68" y="66.85" width="9.6" height="40.05" fill="#ff4458"/>
<rect x="667.68" y="113.4" width="9.6" height="22.80" fill="#f83c55"/>
<line x1="672.48" y1="62" x2="672.48" y2="70.8" stroke="#333" stroke-width="0.9"/>
<line x1="669.98" y1="62" x2="674.98" y2="62" stroke="#333" stroke-width="0.9"/>
<line x1="669.98" y1="70.8" x2="674.98" y2="70.8" stroke="#333" stroke-width="0.9"/>
<circle cx="668.98" cy="62.00" r="2.0" fill="#ff0000"/>
<circle cx="676.28" cy="65.20" r="2.0" fill="#ff0000"/>
<circle cx="672.98" cy="70.80" r="2.0" fill="#ff0000"/>
<polygon points="663.33,53.00 664.24,54.95 666.37,55.21 664.80,56.68 665.21,58.79 663.33,57.75 661.45,58.79 661.86,56.68 660.29,55.21 662.42,54.95" fill="#111"/>
<polygon points="669.43,53.00 670.34,54.95 672.47,55.21 670.90,56.68 671.31,58.79 669.43,57.75 667.55,58.79 667.96,56.68 666.39,55.21 668.52,54.95" fill="#111"/>
<polygon points="675.53,53.00 676.44,54.95 678.57,55.21 677.00,56.68 677.41,58.79 675.53,57.75 673.65,58.79 674.06,56.68 672.49,55.21 674.62,54.95" fill="#111"/>
<polygon points="681.63,53.00 682.54,54.95 684.67,55.21 683.10,56.68 683.51,58.79 681.63,57.75 679.75,58.79 680.16,56.68 678.59,55.21 680.72,54.95" fill="#111"/>
<line x1="672.48" y1="181.4" x2="672.48" y2="185.6" stroke="#666" stroke-width="0.9"/>
<text transform="translate(379.30,194.4) rotate(-45)" font-size="11.6" text-anchor="end">lnc-DKK2</text>
<text transform="translate(394.92,194.4) rotate(-45)" font-size="11.6" text-anchor="end">PKP4-AS1</text>
<text transform="translate(410.54,194.4) rotate(-45)" font-size="11.6" text-anchor="end">GSTCD-AS1</text>
<text transform="translate(426.16,194.4) rotate(-45)" font-size="11.6" text-anchor="end">DDX11-AS1</text>
<text transform="translate(441.78,194.4) rotate(-45)" font-size="11.6" text-anchor="end">ENSG00000285650</text>
<text transform="translate(457.40,194.4) rotate(-45)" font-size="11.6" text-anchor="end">ENSG00000261668</text>
<text transform="translate(473.02,194.4) rotate(-45)" font-size="11.6" text-anchor="end">ENSG00000273669</text>
<text transform="translate(488.64,194.4) rotate(-45)" font-size="11.6" text-anchor="end">ENSG00000260430</text>
<text transform="translate(504.26,194.4) rotate(-45)" font-size="11.6" text-anchor="end">LBX2-AS1</text>
<text transform="translate(519.88,194.4) rotate(-45)" font-size="11.6" text-anchor="end">LINC03072</text>
<text transform="translate(535.50,194.4) rotate(-45)" font-size="11.6" text-anchor="end">TLR8-AS1</text>
<text transform="translate(551.12,194.4) rotate(-45)" font-size="11.6" text-anchor="end">LINC01232</text>
<text transform="translate(566.74,194.4) rotate(-45)" font-size="11.6" text-anchor="end">SBF2-AS1</text>
<text transform="translate(582.36,194.4) rotate(-45)" font-size="11.6" text-anchor="end">LINC00942</text>
<text transform="translate(597.98,194.4) rotate(-45)" font-size="11.6" text-anchor="end">LINC00926</text>
<text transform="translate(613.60,194.4) rotate(-45)" font-size="11.6" text-anchor="end">LINC01426</text>
<text transform="translate(629.22,194.4) rotate(-45)" font-size="11.6" text-anchor="end">NRAD1</text>
<text transform="translate(644.84,194.4) rotate(-45)" font-size="11.6" text-anchor="end">UBR5-DT</text>
<text transform="translate(660.46,194.4) rotate(-45)" font-size="11.6" text-anchor="end">PIRAT1</text>
<text transform="translate(676.08,194.4) rotate(-45)" font-size="11.6" text-anchor="end">CYP1B1-AS1</text>
<rect x="463.42" y="106.9" width="12" height="6.0" fill="#fff"/>
<text x="29.50" y="310.00" font-size="18.5" text-anchor="start" fill="#000" >c</text>
<text x="164.80" y="315.30" font-size="16.5" text-anchor="middle" fill="#000" >Cb</text>
<ellipse cx="66.4" cy="323.9" rx="2.8" ry="2.1" fill="#22ee22"/>
<text x="75.60" y="330.90" font-size="13.3" text-anchor="start" fill="#000" >CYP1B1</text>
<ellipse cx="66.4" cy="336.2" rx="2.8" ry="2.1" fill="#ffd000"/>
<text x="75.60" y="342.50" font-size="13.3" text-anchor="start" fill="#000" >DKK2</text>
<ellipse cx="66.4" cy="347.8" rx="2.8" ry="2.1" fill="#4b0082"/>
<text x="75.60" y="354.00" font-size="13.3" text-anchor="start" fill="#000" >CYP1B1-AS1</text>
<ellipse cx="66.4" cy="359.8" rx="2.8" ry="2.1" fill="#0033ff"/>
<text x="75.60" y="366.40" font-size="13.3" text-anchor="start" fill="#000" >ENSG00000286147 (lnc-DKK2)</text>
<ellipse cx="66.4" cy="371.5" rx="2.8" ry="2.1" fill="#f27a7a"/>
<text x="75.60" y="378.20" font-size="13.3" text-anchor="start" fill="#000" >lncRNA</text>
<ellipse cx="66.4" cy="383.4" rx="2.8" ry="2.1" fill="#1ed6cc"/>
<text x="75.60" y="390.30" font-size="13.3" text-anchor="start" fill="#000" >mRNA</text>
<line x1="42.1" y1="331.5" x2="42.1" y2="526.2" stroke="#000" stroke-width="1.4"/>
<line x1="41.4" y1="526.2" x2="301.1" y2="526.2" stroke="#000" stroke-width="1.4"/>
<line x1="38.5" y1="518.40" x2="41.4" y2="518.40" stroke="#666" stroke-width="0.8"/>
<text x="33.60" y="523.40" font-size="14" text-anchor="end" fill="#000" >0</text>
<line x1="38.5" y1="474.50" x2="41.4" y2="474.50" stroke="#666" stroke-width="0.8"/>
<text x="33.60" y="479.50" font-size="14" text-anchor="end" fill="#000" >2</text>
<line x1="38.5" y1="430.60" x2="41.4" y2="430.60" stroke="#666" stroke-width="0.8"/>
<text x="33.60" y="435.60" font-size="14" text-anchor="end" fill="#000" >4</text>
<line x1="38.5" y1="386.70" x2="41.4" y2="386.70" stroke="#666" stroke-width="0.8"/>
<text x="33.60" y="391.70" font-size="14" text-anchor="end" fill="#000" >6</text>
<line x1="38.5" y1="342.80" x2="41.4" y2="342.80" stroke="#666" stroke-width="0.8"/>
<text x="33.60" y="347.80" font-size="14" text-anchor="end" fill="#000" >8</text>
<line x1="93.10" y1="526.9" x2="93.10" y2="529.8" stroke="#666" stroke-width="0.8"/>
<text x="93.10" y="545.50" font-size="14" text-anchor="middle" fill="#000" >-2</text>
<line x1="171.60" y1="526.9" x2="171.60" y2="529.8" stroke="#666" stroke-width="0.8"/>
<text x="171.60" y="545.50" font-size="14" text-anchor="middle" fill="#000" >0</text>
<line x1="250.10" y1="526.9" x2="250.10" y2="529.8" stroke="#666" stroke-width="0.8"/>
<text x="250.10" y="545.50" font-size="14" text-anchor="middle" fill="#000" >2</text>
<line x1="42.8" y1="488.5" x2="301.1" y2="488.5" stroke="#ff2020" stroke-width="1.4" stroke-dasharray="6.6 6.6" stroke-dashoffset="-0.3"/>
<ellipse cx="146.9" cy="385.4" rx="2.2" ry="1.7" fill="#1ed6cc"/>
<ellipse cx="142.1" cy="403.5" rx="2.2" ry="1.7" fill="#1ed6cc"/>
<ellipse cx="140.4" cy="405" rx="2.2" ry="1.7" fill="#1ed6cc"/>
<ellipse cx="146.9" cy="404.4" rx="2.2" ry="1.7" fill="#1ed6cc"/>
<ellipse cx="138" cy="408.6" rx="2.2" ry="1.7" fill="#1ed6cc"/>
<ellipse cx="154.7" cy="408.6" rx="2.2" ry="1.7" fill="#1ed6cc"/>
<ellipse cx="147.8" cy="417.7" rx="2.2" ry="1.7" fill="#1ed6cc"/>
<ellipse cx="145.2" cy="430.4" rx="2.2" ry="1.7" fill="#1ed6cc"/>
<ellipse cx="143.7" cy="438.2" rx="2.2" ry="1.7" fill="#1ed6cc"/>
<ellipse cx="182.9" cy="403.8" rx="2.2" ry="1.7" fill="#1ed6cc"/>
<ellipse cx="196.8" cy="407.3" rx="2.2" ry="1.7" fill="#1ed6cc"/>
<ellipse cx="193.9" cy="419.6" rx="2.2" ry="1.7" fill="#1ed6cc"/>
<ellipse cx="205.5" cy="424.9" rx="2.2" ry="1.7" fill="#1ed6cc"/>
<ellipse cx="196" cy="429.7" rx="2.2" ry="1.7" fill="#1ed6cc"/>
<ellipse cx="219.9" cy="438.4" rx="2.2" ry="1.7" fill="#1ed6cc"/>
<ellipse cx="158.4" cy="455.9" rx="2.2" ry="1.7" fill="#1ed6cc"/>
<ellipse cx="162.2" cy="459.6" rx="2.2" ry="1.7" fill="#1ed6cc"/>
<ellipse cx="151.3" cy="464" rx="2.2" ry="1.7" fill="#1ed6cc"/>
<ellipse cx="152.7" cy="465.7" rx="2.2" ry="1.7" fill="#1ed6cc"/>
<ellipse cx="147.3" cy="468.5" rx="2.2" ry="1.7" fill="#1ed6cc"/>
<ellipse cx="155.7" cy="473.6" rx="2.2" ry="1.7" fill="#1ed6cc"/>
<ellipse cx="158.9" cy="475.4" rx="2.2" ry="1.7" fill="#1ed6cc"/>
<ellipse cx="159.3" cy="476.9" rx="2.2" ry="1.7" fill="#1ed6cc"/>
<ellipse cx="145.8" cy="477.1" rx="2.2" ry="1.7" fill="#1ed6cc"/>
<ellipse cx="148.7" cy="481.2" rx="2.2" ry="1.7" fill="#1ed6cc"/>
<ellipse cx="160" cy="480.1" rx="2.2" ry="1.7" fill="#1ed6cc"/>
<ellipse cx="161.9" cy="480.9" rx="2.2" ry="1.7" fill="#1ed6cc"/>
<ellipse cx="162.6" cy="487.1" rx="2.2" ry="1.7" fill="#1ed6cc"/>
<ellipse cx="208.5" cy="446.6" rx="2.2" ry="1.7" fill="#1ed6cc"/>
<ellipse cx="180.1" cy="449.1" rx="2.2" ry="1.7" fill="#1ed6cc"/>
<ellipse cx="184.7" cy="450.3" rx="2.2" ry="1.7" fill="#1ed6cc"/>
<ellipse cx="188.8" cy="468.5" rx="2.2" ry="1.7" fill="#1ed6cc"/>
<ellipse cx="198" cy="469.2" rx="2.2" ry="1.7" fill="#1ed6cc"/>
<ellipse cx="180.3" cy="470.1" rx="2.2" ry="1.7" fill="#1ed6cc"/>
<ellipse cx="183.6" cy="472.9" rx="2.2" ry="1.7" fill="#1ed6cc"/>
<ellipse cx="182.3" cy="475.5" rx="2.2" ry="1.7" fill="#1ed6cc"/>
<ellipse cx="181.8" cy="477.3" rx="2.2" ry="1.7" fill="#1ed6cc"/>
<ellipse cx="182.7" cy="479" rx="2.2" ry="1.7" fill="#1ed6cc"/>
<ellipse cx="187.5" cy="476" rx="2.2" ry="1.7" fill="#1ed6cc"/>
<ellipse cx="186.2" cy="482.6" rx="2.2" ry="1.7" fill="#1ed6cc"/>
<ellipse cx="200.7" cy="483.6" rx="2.2" ry="1.7" fill="#1ed6cc"/>
<ellipse cx="177.9" cy="485.6" rx="2.2" ry="1.7" fill="#1ed6cc"/>
<ellipse cx="179.6" cy="486.5" rx="2.2" ry="1.7" fill="#1ed6cc"/>
<ellipse cx="187.1" cy="486.1" rx="2.2" ry="1.7" fill="#1ed6cc"/>
<ellipse cx="197.6" cy="464.2" rx="2.2" ry="1.7" fill="#1ed6cc"/>
<ellipse cx="110.8" cy="408.6" rx="2.2" ry="1.7" fill="#f27a7a"/>
<ellipse cx="142.7" cy="411.1" rx="2.2" ry="1.7" fill="#f27a7a"/>
<ellipse cx="198.7" cy="432.3" rx="2.2" ry="1.7" fill="#f27a7a"/>
<ellipse cx="184.1" cy="442.8" rx="2.2" ry="1.7" fill="#f27a7a"/>
<ellipse cx="140.5" cy="448.9" rx="2.2" ry="1.7" fill="#f27a7a"/>
<ellipse cx="147.3" cy="454.6" rx="2.2" ry="1.7" fill="#f27a7a"/>
<ellipse cx="146.2" cy="465.7" rx="2.2" ry="1.7" fill="#f27a7a"/>
<ellipse cx="141.2" cy="470.5" rx="2.2" ry="1.7" fill="#f27a7a"/>
<ellipse cx="134.1" cy="473" rx="2.2" ry="1.7" fill="#f27a7a"/>
<ellipse cx="137.8" cy="476.5" rx="2.2" ry="1.7" fill="#f27a7a"/>
<ellipse cx="146.9" cy="474.2" rx="2.2" ry="1.7" fill="#f27a7a"/>
<ellipse cx="152" cy="471" rx="2.2" ry="1.7" fill="#f27a7a"/>
<ellipse cx="153.8" cy="471.5" rx="2.2" ry="1.7" fill="#f27a7a"/>
<ellipse cx="152.4" cy="475.9" rx="2.2" ry="1.7" fill="#f27a7a"/>
<ellipse cx="149.5" cy="476.9" rx="2.2" ry="1.7" fill="#f27a7a"/>
<ellipse cx="144.3" cy="479.4" rx="2.2" ry="1.7" fill="#f27a7a"/>
<ellipse cx="146.5" cy="482" rx="2.2" ry="1.7" fill="#f27a7a"/>
<ellipse cx="146.9" cy="483.8" rx="2.2" ry="1.7" fill="#f27a7a"/>
<ellipse cx="152.7" cy="480.5" rx="2.2" ry="1.7" fill="#f27a7a"/>
<ellipse cx="155.3" cy="480.5" rx="2.2" ry="1.7" fill="#f27a7a"/>
<ellipse cx="140.3" cy="483.6" rx="2.2" ry="1.7" fill="#f27a7a"/>
<ellipse cx="139.2" cy="486.1" rx="2.2" ry="1.7" fill="#f27a7a"/>
<ellipse cx="151.3" cy="485.6" rx="2.2" ry="1.7" fill="#f27a7a"/>
<ellipse cx="150.5" cy="487.4" rx="2.2" ry="1.7" fill="#f27a7a"/>
<ellipse cx="158.6" cy="483.8" rx="2.2" ry="1.7" fill="#f27a7a"/>
<ellipse cx="159.3" cy="486" rx="2.2" ry="1.7" fill="#f27a7a"/>
<ellipse cx="163" cy="482.2" rx="2.2" ry="1.7" fill="#f27a7a"/>
<ellipse cx="158.2" cy="487.1" rx="2.2" ry="1.7" fill="#f27a7a"/>
<ellipse cx="201.4" cy="450.8" rx="2.2" ry="1.7" fill="#f27a7a"/>
<ellipse cx="209.9" cy="454.2" rx="2.2" ry="1.7" fill="#f27a7a"/>
<ellipse cx="186.2" cy="457.6" rx="2.2" ry="1.7" fill="#f27a7a"/>
<ellipse cx="191" cy="458.5" rx="2.2" ry="1.7" fill="#f27a7a"/>
<ellipse cx="191.9" cy="459.6" rx="2.2" ry="1.7" fill="#f27a7a"/>
<ellipse cx="198.9" cy="459.8" rx="2.2" ry="1.7" fill="#f27a7a"/>
<ellipse cx="201.5" cy="459.3" rx="2.2" ry="1.7" fill="#f27a7a"/>
<ellipse cx="197" cy="463.3" rx="2.2" ry="1.7" fill="#f27a7a"/>
<ellipse cx="188" cy="471.9" rx="2.2" ry="1.7" fill="#f27a7a"/>
<ellipse cx="189.7" cy="475.1" rx="2.2" ry="1.7" fill="#f27a7a"/>
<ellipse cx="202.4" cy="472.3" rx="2.2" ry="1.7" fill="#f27a7a"/>
<ellipse cx="205.9" cy="474.7" rx="2.2" ry="1.7" fill="#f27a7a"/>
<ellipse cx="195.8" cy="479" rx="2.2" ry="1.7" fill="#f27a7a"/>
<ellipse cx="191" cy="481.2" rx="2.2" ry="1.7" fill="#f27a7a"/>
<ellipse cx="193.5" cy="484.7" rx="2.2" ry="1.7" fill="#f27a7a"/>
<ellipse cx="191.9" cy="486.1" rx="2.2" ry="1.7" fill="#f27a7a"/>
<ellipse cx="183.6" cy="486.9" rx="2.2" ry="1.7" fill="#f27a7a"/>
<ellipse cx="199.8" cy="486.8" rx="2.2" ry="1.7" fill="#f27a7a"/>
<ellipse cx="189.7" cy="488.2" rx="2.2" ry="1.7" fill="#f27a7a"/>
<ellipse cx="197.9" cy="446.6" rx="2.2" ry="1.7" fill="#f27a7a"/>
<ellipse cx="218" cy="406.3" rx="2.3" ry="1.8" fill="#4b0082"/>
<ellipse cx="221.2" cy="464.8" rx="2.3" ry="1.8" fill="#22ee22"/>
<ellipse cx="131.2" cy="473.7" rx="2.3" ry="1.8" fill="#0033ff"/>
<ellipse cx="158.6" cy="471.4" rx="2.3" ry="1.8" fill="#ffd000"/>
<text transform="translate(13.2,418) rotate(-90)" font-size="16" text-anchor="middle">-log<tspan font-size="11" dy="4">10</tspan><tspan dy="-4"> (</tspan><tspan font-style="italic">p</tspan>-value)</text>
<text x="101" y="564.0" font-size="16">log<tspan font-size="11.5" dy="4">2</tspan><tspan dy="-4"> (fold-change)</tspan></text>
<text x="343.80" y="309.30" font-size="18.5" text-anchor="start" fill="#000" >d</text>
<rect x="418.5" y="305.5" width="228.8" height="207.3" fill="#fff"/>
<line x1="430.39" y1="305.5" x2="430.39" y2="512.8" stroke="#efefef" stroke-width="0.7"/>
<line x1="418.5" y1="501.91" x2="647.3" y2="501.91" stroke="#efefef" stroke-width="0.7"/>
<line x1="618.13" y1="305.5" x2="618.13" y2="512.8" stroke="#efefef" stroke-width="0.7"/>
<line x1="418.5" y1="331.63" x2="647.3" y2="331.63" stroke="#efefef" stroke-width="0.7"/>
<line x1="432.47" y1="305.5" x2="432.47" y2="512.8" stroke="#efefef" stroke-width="0.7"/>
<line x1="418.5" y1="500.02" x2="647.3" y2="500.02" stroke="#efefef" stroke-width="0.7"/>
<line x1="620.21" y1="305.5" x2="620.21" y2="512.8" stroke="#efefef" stroke-width="0.7"/>
<line x1="418.5" y1="329.74" x2="647.3" y2="329.74" stroke="#efefef" stroke-width="0.7"/>
<line x1="434.56" y1="305.5" x2="434.56" y2="512.8" stroke="#efefef" stroke-width="0.7"/>
<line x1="418.5" y1="498.12" x2="647.3" y2="498.12" stroke="#efefef" stroke-width="0.7"/>
<line x1="622.30" y1="305.5" x2="622.30" y2="512.8" stroke="#efefef" stroke-width="0.7"/>
<line x1="418.5" y1="327.84" x2="647.3" y2="327.84" stroke="#efefef" stroke-width="0.7"/>
<line x1="436.64" y1="305.5" x2="436.64" y2="512.8" stroke="#efefef" stroke-width="0.7"/>
<line x1="418.5" y1="496.23" x2="647.3" y2="496.23" stroke="#efefef" stroke-width="0.7"/>
<line x1="624.38" y1="305.5" x2="624.38" y2="512.8" stroke="#efefef" stroke-width="0.7"/>
<line x1="418.5" y1="325.95" x2="647.3" y2="325.95" stroke="#efefef" stroke-width="0.7"/>
<line x1="438.73" y1="305.5" x2="438.73" y2="512.8" stroke="#efefef" stroke-width="0.7"/>
<line x1="418.5" y1="494.34" x2="647.3" y2="494.34" stroke="#efefef" stroke-width="0.7"/>
<line x1="626.47" y1="305.5" x2="626.47" y2="512.8" stroke="#efefef" stroke-width="0.7"/>
<line x1="418.5" y1="324.06" x2="647.3" y2="324.06" stroke="#efefef" stroke-width="0.7"/>
<line x1="440.82" y1="305.5" x2="440.82" y2="512.8" stroke="#efefef" stroke-width="0.7"/>
<line x1="418.5" y1="492.45" x2="647.3" y2="492.45" stroke="#efefef" stroke-width="0.7"/>
<line x1="628.56" y1="305.5" x2="628.56" y2="512.8" stroke="#efefef" stroke-width="0.7"/>
<line x1="418.5" y1="322.17" x2="647.3" y2="322.17" stroke="#efefef" stroke-width="0.7"/>
<line x1="442.90" y1="305.5" x2="442.90" y2="512.8" stroke="#efefef" stroke-width="0.7"/>
<line x1="418.5" y1="490.56" x2="647.3" y2="490.56" stroke="#efefef" stroke-width="0.7"/>
<line x1="630.64" y1="305.5" x2="630.64" y2="512.8" stroke="#efefef" stroke-width="0.7"/>
<line x1="418.5" y1="320.28" x2="647.3" y2="320.28" stroke="#efefef" stroke-width="0.7"/>
<line x1="444.99" y1="305.5" x2="444.99" y2="512.8" stroke="#efefef" stroke-width="0.7"/>
<line x1="418.5" y1="488.66" x2="647.3" y2="488.66" stroke="#efefef" stroke-width="0.7"/>
<line x1="632.73" y1="305.5" x2="632.73" y2="512.8" stroke="#efefef" stroke-width="0.7"/>
<line x1="418.5" y1="318.38" x2="647.3" y2="318.38" stroke="#efefef" stroke-width="0.7"/>
<line x1="447.07" y1="305.5" x2="447.07" y2="512.8" stroke="#efefef" stroke-width="0.7"/>
<line x1="418.5" y1="486.77" x2="647.3" y2="486.77" stroke="#efefef" stroke-width="0.7"/>
<line x1="634.81" y1="305.5" x2="634.81" y2="512.8" stroke="#efefef" stroke-width="0.7"/>
<line x1="418.5" y1="316.49" x2="647.3" y2="316.49" stroke="#efefef" stroke-width="0.7"/>
<line x1="428.30" y1="305.5" x2="428.30" y2="512.8" stroke="#e4e4e4" stroke-width="0.9"/>
<line x1="418.5" y1="503.80" x2="647.3" y2="503.80" stroke="#e4e4e4" stroke-width="0.9"/>
<line x1="449.16" y1="305.5" x2="449.16" y2="512.8" stroke="#e4e4e4" stroke-width="0.9"/>
<line x1="418.5" y1="484.88" x2="647.3" y2="484.88" stroke="#e4e4e4" stroke-width="0.9"/>
<line x1="480.45" y1="305.5" x2="480.45" y2="512.8" stroke="#e4e4e4" stroke-width="0.9"/>
<line x1="418.5" y1="456.50" x2="647.3" y2="456.50" stroke="#e4e4e4" stroke-width="0.9"/>
<line x1="532.60" y1="305.5" x2="532.60" y2="512.8" stroke="#e4e4e4" stroke-width="0.9"/>
<line x1="418.5" y1="409.20" x2="647.3" y2="409.20" stroke="#e4e4e4" stroke-width="0.9"/>
<line x1="584.75" y1="305.5" x2="584.75" y2="512.8" stroke="#e4e4e4" stroke-width="0.9"/>
<line x1="418.5" y1="361.90" x2="647.3" y2="361.90" stroke="#e4e4e4" stroke-width="0.9"/>
<line x1="616.04" y1="305.5" x2="616.04" y2="512.8" stroke="#e4e4e4" stroke-width="0.9"/>
<line x1="418.5" y1="333.52" x2="647.3" y2="333.52" stroke="#e4e4e4" stroke-width="0.9"/>
<line x1="636.90" y1="305.5" x2="636.90" y2="512.8" stroke="#e4e4e4" stroke-width="0.9"/>
<line x1="418.5" y1="314.60" x2="647.3" y2="314.60" stroke="#e4e4e4" stroke-width="0.9"/>
<rect x="418.5" y="305.5" width="228.8" height="207.3" fill="none" stroke="#7a7a7a" stroke-width="1"/>
<line x1="428.30" y1="513.3" x2="428.30" y2="515.8" stroke="#555" stroke-width="1"/>
<line x1="415.6" y1="503.80" x2="418" y2="503.80" stroke="#555" stroke-width="1"/>
<line x1="449.16" y1="513.3" x2="449.16" y2="515.8" stroke="#555" stroke-width="1"/>
<line x1="415.6" y1="484.88" x2="418" y2="484.88" stroke="#555" stroke-width="1"/>
<line x1="480.45" y1="513.3" x2="480.45" y2="515.8" stroke="#555" stroke-width="1"/>
<line x1="415.6" y1="456.50" x2="418" y2="456.50" stroke="#555" stroke-width="1"/>
<line x1="532.60" y1="513.3" x2="532.60" y2="515.8" stroke="#555" stroke-width="1"/>
<line x1="415.6" y1="409.20" x2="418" y2="409.20" stroke="#555" stroke-width="1"/>
<line x1="584.75" y1="513.3" x2="584.75" y2="515.8" stroke="#555" stroke-width="1"/>
<line x1="415.6" y1="361.90" x2="418" y2="361.90" stroke="#555" stroke-width="1"/>
<line x1="616.04" y1="513.3" x2="616.04" y2="515.8" stroke="#555" stroke-width="1"/>
<line x1="415.6" y1="333.52" x2="418" y2="333.52" stroke="#555" stroke-width="1"/>
<line x1="636.90" y1="513.3" x2="636.90" y2="515.8" stroke="#555" stroke-width="1"/>
<line x1="415.6" y1="314.60" x2="418" y2="314.60" stroke="#555" stroke-width="1"/>
<path d="M428.3,503.8 H470.2 V314.6 H584.8" fill="none" stroke="#f8766d" stroke-width="2"/>
<path d="M428.3,503.8 V365.5 H532.8 V352.8 H584.8 V314.6 H636.4" fill="none" stroke="#10bcc6" stroke-width="2"/>
<line x1="428.3" y1="503.8" x2="636.9" y2="314.6" stroke="#fff" stroke-width="0.7"/>
<text transform="translate(400.4,314.6) rotate(90)" font-size="16" text-anchor="middle">1</text>
<text transform="translate(400.4,336.5) rotate(90)" font-size="16" text-anchor="middle">0.9</text>
<text transform="translate(400.4,374) rotate(90)" font-size="16" text-anchor="middle">0.75</text>
<text transform="translate(400.4,410.8) rotate(90)" font-size="16" text-anchor="middle">0.5</text>
<text transform="translate(400.4,454.6) rotate(90)" font-size="16" text-anchor="middle">0.25</text>
<text transform="translate(400.4,482) rotate(90)" font-size="16" text-anchor="middle">0.1</text>
<text transform="translate(400.4,500.8) rotate(90)" font-size="16" text-anchor="middle">0</text>
<text transform="translate(392.0,405.9) rotate(-90)" font-size="16" text-anchor="middle">Sensitivity</text>
<text x="430.80" y="533.80" font-size="16" text-anchor="middle" fill="#000" >0</text>
<text x="456.30" y="533.80" font-size="16" text-anchor="middle" fill="#000" >0.10</text>
<text x="492.80" y="533.80" font-size="16" text-anchor="middle" fill="#000" >0.25</text>
<text x="534.10" y="533.80" font-size="16" text-anchor="middle" fill="#000" >0.50</text>
<text x="583.20" y="533.80" font-size="16" text-anchor="middle" fill="#000" >0.75</text>
<text x="619.30" y="533.80" font-size="16" text-anchor="middle" fill="#000" >0.9</text>
<text x="641.00" y="533.80" font-size="16" text-anchor="middle" fill="#000" >1</text>
<text x="530.30" y="553.40" font-size="16" text-anchor="middle" fill="#000" >Specificity</text>
<text x="478.80" y="389.60" font-size="16" text-anchor="start" fill="#12dde6" style="stroke:#12dde6" >AUC_lnc-DKK2 =</text>
<text x="478.20" y="408.80" font-size="16" text-anchor="start" fill="#12dde6" style="stroke:#12dde6" >0.82</text>
<text x="480.60" y="433.00" font-size="16" text-anchor="start" fill="#ff1a1a" style="stroke:#ff1a1a" >AUC_CYP1B1-AS1 =</text>
<text x="480.00" y="452.20" font-size="16" text-anchor="start" fill="#ff1a1a" style="stroke:#ff1a1a" >0.80</text>
<text x="20.50" y="609.50" font-size="18.5" text-anchor="start" fill="#000" >e</text>
<text x="71.40" y="617.20" font-size="16" text-anchor="start" fill="#000" >KEGG-Upregulated genes</text>
<line x1="54.9" y1="629.6" x2="54.9" y2="821.8" stroke="#000" stroke-width="1.3"/>
<line x1="54.3" y1="821.4" x2="309.8" y2="821.4" stroke="#000" stroke-width="1.3"/>
<rect x="65.8" y="632.30" width="232.70" height="16.3" fill="#cc2626"/>
<line x1="50.6" y1="640.45" x2="54.3" y2="640.45" stroke="#333" stroke-width="1"/>
<text x="72.70" y="646.20" font-size="16.15" text-anchor="start" fill="#000" >FoxO Signaling pathway</text>
<rect x="65.8" y="651.17" width="191.00" height="16.3" fill="#e05a4a"/>
<line x1="50.6" y1="659.32" x2="54.3" y2="659.32" stroke="#333" stroke-width="1"/>
<text x="70.30" y="664.30" font-size="16.15" text-anchor="start" fill="#000" >Cellular Senescence</text>
<rect x="65.8" y="670.04" width="174.50" height="16.3" fill="#e26553"/>
<line x1="50.6" y1="678.19" x2="54.3" y2="678.19" stroke="#333" stroke-width="1"/>
<text x="69.90" y="682.80" font-size="16.15" text-anchor="start" fill="#000" >Notch Signaling pathway</text>
<rect x="65.8" y="688.91" width="134.90" height="16.3" fill="#f08a7b"/>
<line x1="50.6" y1="697.06" x2="54.3" y2="697.06" stroke="#333" stroke-width="1"/>
<text x="68.30" y="701.10" font-size="16.15" text-anchor="start" fill="#000" >Focal Adhesion</text>
<rect x="65.8" y="707.78" width="124.80" height="16.3" fill="#f39a8a"/>
<line x1="50.6" y1="715.93" x2="54.3" y2="715.93" stroke="#333" stroke-width="1"/>
<text x="69.00" y="720.70" font-size="16.15" text-anchor="start" fill="#000" >AGE-RAGE Signaling</text>
<rect x="65.8" y="726.65" width="121.30" height="16.3" fill="#f49e8e"/>
<line x1="50.6" y1="734.80" x2="54.3" y2="734.80" stroke="#333" stroke-width="1"/>
<text x="68.60" y="740.10" font-size="16.15" text-anchor="start" fill="#000" >Pathways in cancer</text>
<rect x="65.8" y="745.52" width="119.20" height="16.3" fill="#f4a090"/>
<line x1="50.6" y1="753.67" x2="54.3" y2="753.67" stroke="#333" stroke-width="1"/>
<text x="70.30" y="757.90" font-size="16.15" text-anchor="start" fill="#000" >Ferroptosis</text>
<rect x="65.8" y="764.39" width="116.90" height="16.3" fill="#f4a191"/>
<line x1="50.6" y1="772.54" x2="54.3" y2="772.54" stroke="#333" stroke-width="1"/>
<text x="69.00" y="777.70" font-size="16.15" text-anchor="start" fill="#000" >AMPK Signaling</text>
<rect x="65.8" y="783.26" width="112.90" height="16.3" fill="#f5a393"/>
<line x1="50.6" y1="791.41" x2="54.3" y2="791.41" stroke="#333" stroke-width="1"/>
<text x="68.90" y="797.00" font-size="16.15" text-anchor="start" fill="#000" >PI3K-Akt Signaling</text>
<rect x="65.8" y="802.13" width="108.30" height="16.3" fill="#f5a595"/>
<line x1="50.6" y1="810.28" x2="54.3" y2="810.28" stroke="#333" stroke-width="1"/>
<text x="69.10" y="815.40" font-size="16.15" text-anchor="start" fill="#000" >Endocytosis</text>
<line x1="66.30" y1="822" x2="66.30" y2="825" stroke="#333" stroke-width="1"/>
<text x="66.30" y="841.50" font-size="15.5" text-anchor="middle" fill="#000" >0</text>
<line x1="153.20" y1="822" x2="153.20" y2="825" stroke="#333" stroke-width="1"/>
<text x="153.20" y="841.50" font-size="15.5" text-anchor="middle" fill="#000" >2</text>
<line x1="240.10" y1="822" x2="240.10" y2="825" stroke="#333" stroke-width="1"/>
<text x="240.10" y="841.50" font-size="15.5" text-anchor="middle" fill="#000" >4</text>
<text x="126.3" y="857.2" font-size="16">-log<tspan font-size="11" dy="4">10</tspan><tspan dy="-4"> (</tspan><tspan font-style="italic">p</tspan>-value)</text>
<text x="358.40" y="610.40" font-size="18.5" text-anchor="start" fill="#000" >f</text>
<text x="396.50" y="614.40" font-size="16" text-anchor="start" fill="#000" >KEGG-Downregulated genes</text>
<line x1="389.4" y1="625.3" x2="389.4" y2="812.8" stroke="#000" stroke-width="1.3"/>
<line x1="388.8" y1="812.3" x2="617.2" y2="812.3" stroke="#000" stroke-width="1.3"/>
<rect x="400.0" y="628.20" width="206.60" height="15.6" fill="#cc2228"/>
<line x1="385.2" y1="636.00" x2="388.8" y2="636.00" stroke="#333" stroke-width="1"/>
<text x="404.30" y="640.10" font-size="16.15" text-anchor="start" fill="#000" >Systemic lupus erythetosus</text>
<rect x="400.0" y="646.53" width="164.80" height="15.6" fill="#e05a4a"/>
<line x1="385.2" y1="654.33" x2="388.8" y2="654.33" stroke="#333" stroke-width="1"/>
<text x="405.10" y="659.30" font-size="16.15" text-anchor="start" fill="#000" >Alcoholism</text>
<rect x="400.0" y="664.86" width="156.90" height="15.6" fill="#e2614f"/>
<line x1="385.2" y1="672.66" x2="388.8" y2="672.66" stroke="#333" stroke-width="1"/>
<text x="402.90" y="677.90" font-size="16.15" text-anchor="start" fill="#000" >NET Formation</text>
<rect x="400.0" y="683.19" width="135.00" height="15.6" fill="#ec7a6a"/>
<line x1="385.2" y1="690.99" x2="388.8" y2="690.99" stroke="#333" stroke-width="1"/>
<text x="401.10" y="697.00" font-size="16.15" text-anchor="start" fill="#000" >DNA Replication</text>
<rect x="400.0" y="701.52" width="127.80" height="15.6" fill="#ee8272"/>
<line x1="385.2" y1="709.32" x2="388.8" y2="709.32" stroke="#333" stroke-width="1"/>
<text x="402.10" y="715.10" font-size="16.15" text-anchor="start" fill="#000" >Fanconi anaemia</text>
<rect x="400.0" y="719.85" width="105.60" height="15.6" fill="#f4a090"/>
<line x1="385.2" y1="727.65" x2="388.8" y2="727.65" stroke="#333" stroke-width="1"/>
<text x="401.00" y="733.40" font-size="16.15" text-anchor="start" fill="#000" >Cell cycle</text>
<rect x="400.0" y="738.18" width="95.80" height="15.6" fill="#f6a898"/>
<line x1="385.2" y1="745.98" x2="388.8" y2="745.98" stroke="#333" stroke-width="1"/>
<text x="401.50" y="751.20" font-size="16.15" text-anchor="start" fill="#000" >Homologous Recombination</text>
<rect x="400.0" y="756.51" width="86.60" height="15.6" fill="#f7ae9e"/>
<line x1="385.2" y1="764.31" x2="388.8" y2="764.31" stroke="#333" stroke-width="1"/>
<text x="401.80" y="769.60" font-size="16.15" text-anchor="start" fill="#000" >Viral Carcinogenesis</text>
<rect x="400.0" y="774.84" width="83.30" height="15.6" fill="#f7b0a0"/>
<line x1="385.2" y1="782.64" x2="388.8" y2="782.64" stroke="#333" stroke-width="1"/>
<text x="402.20" y="787.60" font-size="16.15" text-anchor="start" fill="#000" >Mismatch Repair</text>
<rect x="400.0" y="793.17" width="51.50" height="15.6" fill="#fbd0c6"/>
<line x1="385.2" y1="800.97" x2="388.8" y2="800.97" stroke="#333" stroke-width="1"/>
<text x="402.20" y="807.40" font-size="16.15" text-anchor="start" fill="#000" >Nucleotide Excision Repair</text>
<line x1="399.70" y1="813" x2="399.70" y2="816" stroke="#333" stroke-width="1"/>
<text x="399.70" y="832.00" font-size="15.5" text-anchor="middle" fill="#000" >0</text>
<line x1="469.80" y1="813" x2="469.80" y2="816" stroke="#333" stroke-width="1"/>
<text x="470.80" y="832.00" font-size="15.5" text-anchor="middle" fill="#000" >10</text>
<line x1="539.90" y1="813" x2="539.90" y2="816" stroke="#333" stroke-width="1"/>
<text x="547.90" y="833.10" font-size="15.5" text-anchor="middle" fill="#000" >15</text>
<line x1="609.20" y1="813" x2="609.20" y2="816" stroke="#333" stroke-width="1"/>
<text x="609.20" y="830.30" font-size="15.5" text-anchor="middle" fill="#000" >20</text>
<text x="457.5" y="856" font-size="16">-log<tspan font-size="11" dy="4">10</tspan><tspan dy="-4"> (</tspan><tspan font-style="italic">p</tspan>-value)</text>
</svg></body></html>
